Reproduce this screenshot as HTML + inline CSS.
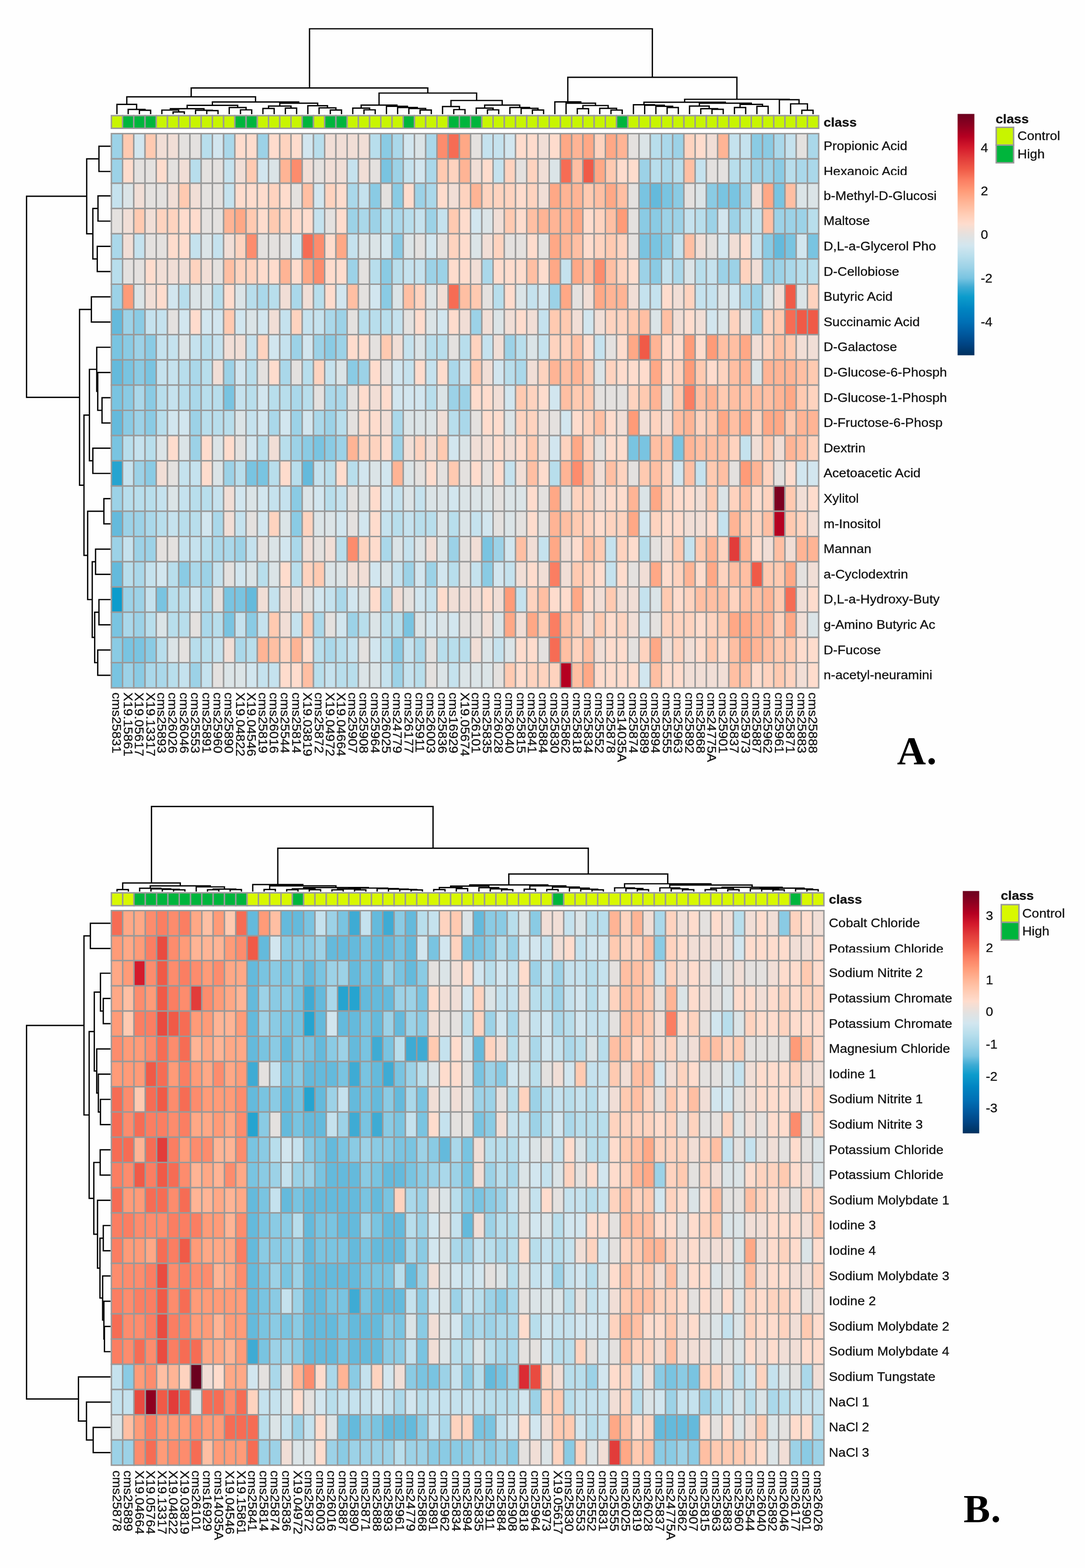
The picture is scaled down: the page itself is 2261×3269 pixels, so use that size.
<!DOCTYPE html>
<html lang="en"><head><meta charset="utf-8"><title>Heatmaps A and B</title>
<style>
html,body{margin:0;padding:0;background:#fff}
body{width:2261px;height:3269px;overflow:hidden}
svg{display:block}
.t text{font-family:"Liberation Sans",sans-serif;font-size:25.9px;fill:#111;stroke:#111;stroke-width:.35px}
.t text.b{font-weight:bold;font-size:26.3px}
.big{font-family:"Liberation Serif",serif;font-weight:bold;font-size:83.4px;fill:#000;letter-spacing:1.5px}
.d{fill:none;stroke:#000;stroke-width:2.7;stroke-linejoin:miter;stroke-linecap:butt}
</style></head><body>
<svg width="2261" height="3269" viewBox="0 0 2261 3269">
<defs><linearGradient id="grad" x1="0" y1="0" x2="0" y2="1"><stop offset="0.0000" stop-color="#6B001F"/><stop offset="0.0479" stop-color="#8E0020"/><stop offset="0.0931" stop-color="#B50021"/><stop offset="0.1383" stop-color="#D41A2C"/><stop offset="0.1835" stop-color="#E23C3A"/><stop offset="0.2288" stop-color="#F05A47"/><stop offset="0.2740" stop-color="#FB7E62"/><stop offset="0.3192" stop-color="#FF9B78"/><stop offset="0.3644" stop-color="#FFB495"/><stop offset="0.4096" stop-color="#FFCAB1"/><stop offset="0.4548" stop-color="#FEDCCD"/><stop offset="0.5000" stop-color="#E4E1DF"/><stop offset="0.5452" stop-color="#D2E6EF"/><stop offset="0.5904" stop-color="#B8DEEC"/><stop offset="0.6356" stop-color="#9CD2E7"/><stop offset="0.6808" stop-color="#79C4E1"/><stop offset="0.7170" stop-color="#3EABD4"/><stop offset="0.7577" stop-color="#0C9CCC"/><stop offset="0.8074" stop-color="#0085C2"/><stop offset="0.8617" stop-color="#0070B5"/><stop offset="0.9069" stop-color="#005AA0"/><stop offset="0.9521" stop-color="#004585"/><stop offset="1.0000" stop-color="#00305E"/></linearGradient></defs>
<rect width="2261" height="3269" fill="#FEFEFE"/>
<path class="d" d="M290.5 238V229.8H313.9V238M267.1 238V228.2H302.2V229.8M243.7 238V217.6H284.7V228.2M360.7 238V233.4H384.1V238M337.3 238V229.5H372.4V233.4M430.9 238V230.6H454.3V238M407.5 238V229.8H442.6V230.6M354.9 229.5V226.6H425.1V229.8M501.1 238V229H524.5V238M477.7 238V224.1H512.8V229M390 226.6V219.7H495.3V224.1M547.9 238V226.2H571.3V238M594.7 238V225.3H618.1V238M559.6 226.2V221.2H606.4V225.3M688.3 238V229.3H711.7V238M664.9 238V224.9H700V229.3M641.5 238V220.4H682.4V224.9M583 221.2V215.2H662V220.4M442.6 219.7V212.7H622.5V215.2M264.2 217.6V201.8H532.5V212.7M758.5 238V229H781.9V238M735.1 238V225.3H770.2V229M875.4 238V229.3H898.8V238M852 238V226.2H887.1V229.3M828.6 238V224.1H869.6V226.2M805.3 238V221.7H849.1V224.1M752.6 225.3V219.2H827.2V221.7M945.6 238V228.5H969V238M922.2 238V222.2H957.3V228.5M1015.8 238V229H1039.2V238M992.4 238V225.3H1027.5V229M1109.4 238V229.3H1132.8V238M1086 238V225.8H1121.1V229.3M1062.6 238V224.1H1103.6V225.8M1010 225.3V219.2H1083.1V224.1M939.8 222.2V209.5H1046.5V219.2M789.9 219.2V194H993.2V209.5M398.4 201.8V183.4H891.5V194M1203 238V226.6H1226.4V238M1273.2 238V229.5H1296.6V238M1249.8 238V225.8H1284.9V229.5M1214.7 226.6V220H1267.3V225.8M1179.6 238V215.2H1241V220M1156.2 238V212.4H1210.3V215.2M1390.2 238V224.1H1413.5V238M1366.8 238V221.7H1401.8V224.1M1343.4 238V219.4H1384.3V221.7M1320 238V218.4H1363.8V219.4M1483.7 238V227.9H1507.1V238M1460.3 238V226.6H1495.4V227.9M1436.9 238V221.2H1477.9V226.6M1530.5 238V224.1H1553.9V238M1577.3 238V221.7H1600.7V238M1542.2 224.1V217.6H1589V221.7M1457.4 221.2V215.2H1565.6V217.6M1341.9 218.4V213.2H1511.5V215.2M1670.9 238V229.8H1694.3V238M1647.5 238V216.5H1682.6V229.8M1624.1 238V207.8H1665.1V216.5M1426.7 213.2V207H1644.6V207.8M1183.2 212.4V161.1H1535.6V207M645 183.4V60H1359.4V161.1"/>
<path class="d" d="M230.5 304.9H206.2V357.5H230.5M230.5 408.4H204.2V461H230.5M230.5 513.6H202.7V566.2H230.5M204.2 434.7H193.5V539.9H202.7M206.2 331.2H180.7V487.3H193.5M230.5 618.8H190.4V671.4H230.5M230.5 829.2H212.6V881.8H230.5M230.5 776.6H203.7V855.5H212.6M230.5 724H201.6V816H203.7M230.5 934.4H193.5V987H230.5M201.6 770H186.3V960.7H193.5M230.5 1039.6H216.5V1092.2H230.5M230.5 1144.8H199.1V1197.4H230.5M230.5 1250H206.2V1302.6H230.5M230.5 1355.2H203.7V1407.8H230.5M206.2 1276.3H197.3V1381.5H203.7M199.1 1171.1H192.2V1328.9H197.3M216.5 1065.9H182.7V1250H192.2M186.3 865.4H175V1157.9H182.7M190.4 645.1H165.8V1011.7H175M180.7 409.2H55.3V828.4H165.8"/>
<path class="d" d="M243.9 1858.7V1854.7H267.5V1858.7M361.7 1858.7V1855.2H385.3V1858.7M338.2 1858.7V1854.2H373.5V1855.2M314.6 1858.7V1853.1H355.8V1854.2M291 1858.7V1851.8H335.2V1853.1M432.4 1858.7V1855H456V1858.7M479.6 1858.7V1854.7H503.1V1858.7M444.2 1855V1853.6H491.3V1854.7M408.9 1858.7V1849H467.8V1853.6M313.1 1851.8V1846.9H438.3V1849M255.7 1854.7V1840.9H375.7V1846.9M550.3 1858.7V1854.4H573.8V1858.7M597.4 1858.7V1854.9H621V1858.7M644.5 1858.7V1854.9H668.1V1858.7M609.2 1854.9V1853.2H656.3V1854.9M691.7 1858.7V1855.2H715.2V1858.7M738.8 1858.7V1855.2H762.4V1858.7M703.4 1855.2V1853.3H750.6V1855.2M856.6 1858.7V1855.4H880.2V1858.7M833.1 1858.7V1854.4H868.4V1855.4M809.5 1858.7V1853.6H850.7V1854.4M785.9 1858.7V1852.6H830.1V1853.6M727 1853.3V1851.5H808V1852.6M632.7 1853.2V1850.4H767.5V1851.5M562 1854.4V1846.8H700.1V1850.4M526.7 1858.7V1844.1H631.1V1846.8M903.8 1858.7V1854.7H927.3V1858.7M950.9 1858.7V1852.6H974.5V1858.7M915.5 1854.7V1850.4H962.7V1852.6M1045.2 1858.7V1854.9H1068.7V1858.7M1021.6 1858.7V1853.1H1056.9V1854.9M998 1858.7V1850.6H1039.3V1853.1M939.1 1850.4V1847.4H1018.6V1850.6M1092.3 1858.7V1853.9H1115.9V1858.7M1139.4 1858.7V1854.7H1163V1858.7M1233.7 1858.7V1855.2H1257.3V1858.7M1210.1 1858.7V1853.8H1245.5V1855.2M1186.6 1858.7V1851.5H1227.8V1853.8M1151.2 1854.7V1849.3H1207.2V1851.5M1104.1 1853.9V1846.9H1179.2V1849.3M978.9 1847.4V1844.9H1141.6V1846.9M1328 1858.7V1854.9H1351.5V1858.7M1304.4 1858.7V1852.4H1339.7V1854.9M1280.8 1858.7V1851H1322.1V1852.4M1422.2 1858.7V1854.9H1445.8V1858.7M1398.7 1858.7V1853H1434V1854.9M1375.1 1858.7V1851H1416.3V1853M1469.4 1858.7V1854.9H1492.9V1858.7M1516.5 1858.7V1854.9H1540.1V1858.7M1481.2 1854.9V1851.6H1528.3V1854.9M1610.8 1858.7V1855.2H1634.3V1858.7M1587.2 1858.7V1854H1622.6V1855.2M1563.6 1858.7V1853H1604.9V1854M1681.5 1858.7V1854.9H1705V1858.7M1657.9 1858.7V1853.4H1693.3V1854.9M1584.3 1853V1851.6H1675.6V1853.4M1504.7 1851.6V1849.8H1629.9V1851.6M1395.7 1851V1845.2H1567.3V1849.8M1301.5 1851V1842.5H1481.5V1845.2M1060.3 1844.9V1822.1H1391.5V1842.5M578.9 1844.1V1768.4H1225.9V1822.1M315.7 1840.9V1681.3H902.4V1768.4"/>
<path class="d" d="M230.5 1924.8H188.3V1977.4H230.5M230.5 2081.6H215.2V2134.2H230.5M230.5 2029H209.3V2107.9H215.2M230.5 2292H209.3V2344.6H230.5M230.5 2239.4H205V2318.3H209.3M230.5 2186.8H201.6V2278.9H205M209.3 2068.4H196.5V2232.8H201.6M230.5 2397.2H208.8V2449.8H230.5M230.5 2555H215.2V2607.6H230.5M230.5 2765.4H217.7V2818H230.5M230.5 2712.8H216.5V2791.7H217.7M230.5 2660.2H213.9V2752.2H216.5M215.2 2581.3H208.3V2706.2H213.9M230.5 2502.4H203.2V2643.8H208.3M208.8 2423.5H195.5V2573.1H203.2M196.5 2150.6H185.8V2498.3H195.5M188.3 1951.1H175V2324.5H185.8M230.5 2975.8H194.2V3028.4H230.5M230.5 2923.2H180.2V3002.1H194.2M230.5 2870.6H163.5V2962.7H180.2M175 2137.8H55.3V2916.6H163.5"/>
<g stroke="#999999" stroke-width="3.0">
<rect x="232.1" y="241.1" width="23.4" height="26.4" fill="#C8F500"/>
<rect x="255.4" y="241.1" width="23.4" height="26.4" fill="#00B53C"/>
<rect x="278.8" y="241.1" width="23.4" height="26.4" fill="#00B53C"/>
<rect x="302.2" y="241.1" width="23.4" height="26.4" fill="#00B53C"/>
<rect x="325.6" y="241.1" width="23.4" height="26.4" fill="#C8F500"/>
<rect x="349" y="241.1" width="23.4" height="26.4" fill="#C8F500"/>
<rect x="372.4" y="241.1" width="23.4" height="26.4" fill="#C8F500"/>
<rect x="395.8" y="241.1" width="23.4" height="26.4" fill="#C8F500"/>
<rect x="419.2" y="241.1" width="23.4" height="26.4" fill="#C8F500"/>
<rect x="442.6" y="241.1" width="23.4" height="26.4" fill="#C8F500"/>
<rect x="466" y="241.1" width="23.4" height="26.4" fill="#C8F500"/>
<rect x="489.4" y="241.1" width="23.4" height="26.4" fill="#00B53C"/>
<rect x="512.8" y="241.1" width="23.4" height="26.4" fill="#00B53C"/>
<rect x="536.2" y="241.1" width="23.4" height="26.4" fill="#C8F500"/>
<rect x="559.6" y="241.1" width="23.4" height="26.4" fill="#C8F500"/>
<rect x="583" y="241.1" width="23.4" height="26.4" fill="#C8F500"/>
<rect x="606.4" y="241.1" width="23.4" height="26.4" fill="#C8F500"/>
<rect x="629.8" y="241.1" width="23.4" height="26.4" fill="#00B53C"/>
<rect x="653.2" y="241.1" width="23.4" height="26.4" fill="#C8F500"/>
<rect x="676.6" y="241.1" width="23.4" height="26.4" fill="#00B53C"/>
<rect x="700" y="241.1" width="23.4" height="26.4" fill="#00B53C"/>
<rect x="723.4" y="241.1" width="23.4" height="26.4" fill="#C8F500"/>
<rect x="746.8" y="241.1" width="23.4" height="26.4" fill="#C8F500"/>
<rect x="770.2" y="241.1" width="23.4" height="26.4" fill="#C8F500"/>
<rect x="793.6" y="241.1" width="23.4" height="26.4" fill="#C8F500"/>
<rect x="817" y="241.1" width="23.4" height="26.4" fill="#C8F500"/>
<rect x="840.3" y="241.1" width="23.4" height="26.4" fill="#00B53C"/>
<rect x="863.7" y="241.1" width="23.4" height="26.4" fill="#C8F500"/>
<rect x="887.1" y="241.1" width="23.4" height="26.4" fill="#C8F500"/>
<rect x="910.5" y="241.1" width="23.4" height="26.4" fill="#C8F500"/>
<rect x="933.9" y="241.1" width="23.4" height="26.4" fill="#00B53C"/>
<rect x="957.3" y="241.1" width="23.4" height="26.4" fill="#00B53C"/>
<rect x="980.7" y="241.1" width="23.4" height="26.4" fill="#00B53C"/>
<rect x="1004.1" y="241.1" width="23.4" height="26.4" fill="#C8F500"/>
<rect x="1027.5" y="241.1" width="23.4" height="26.4" fill="#C8F500"/>
<rect x="1050.9" y="241.1" width="23.4" height="26.4" fill="#C8F500"/>
<rect x="1074.3" y="241.1" width="23.4" height="26.4" fill="#C8F500"/>
<rect x="1097.7" y="241.1" width="23.4" height="26.4" fill="#C8F500"/>
<rect x="1121.1" y="241.1" width="23.4" height="26.4" fill="#C8F500"/>
<rect x="1144.5" y="241.1" width="23.4" height="26.4" fill="#C8F500"/>
<rect x="1167.9" y="241.1" width="23.4" height="26.4" fill="#C8F500"/>
<rect x="1191.3" y="241.1" width="23.4" height="26.4" fill="#C8F500"/>
<rect x="1214.7" y="241.1" width="23.4" height="26.4" fill="#C8F500"/>
<rect x="1238.1" y="241.1" width="23.4" height="26.4" fill="#C8F500"/>
<rect x="1261.5" y="241.1" width="23.4" height="26.4" fill="#C8F500"/>
<rect x="1284.9" y="241.1" width="23.4" height="26.4" fill="#00B53C"/>
<rect x="1308.3" y="241.1" width="23.4" height="26.4" fill="#C8F500"/>
<rect x="1331.7" y="241.1" width="23.4" height="26.4" fill="#C8F500"/>
<rect x="1355.1" y="241.1" width="23.4" height="26.4" fill="#C8F500"/>
<rect x="1378.5" y="241.1" width="23.4" height="26.4" fill="#C8F500"/>
<rect x="1401.8" y="241.1" width="23.4" height="26.4" fill="#C8F500"/>
<rect x="1425.2" y="241.1" width="23.4" height="26.4" fill="#C8F500"/>
<rect x="1448.6" y="241.1" width="23.4" height="26.4" fill="#C8F500"/>
<rect x="1472" y="241.1" width="23.4" height="26.4" fill="#C8F500"/>
<rect x="1495.4" y="241.1" width="23.4" height="26.4" fill="#C8F500"/>
<rect x="1518.8" y="241.1" width="23.4" height="26.4" fill="#C8F500"/>
<rect x="1542.2" y="241.1" width="23.4" height="26.4" fill="#C8F500"/>
<rect x="1565.6" y="241.1" width="23.4" height="26.4" fill="#C8F500"/>
<rect x="1589" y="241.1" width="23.4" height="26.4" fill="#C8F500"/>
<rect x="1612.4" y="241.1" width="23.4" height="26.4" fill="#C8F500"/>
<rect x="1635.8" y="241.1" width="23.4" height="26.4" fill="#C8F500"/>
<rect x="1659.2" y="241.1" width="23.4" height="26.4" fill="#C8F500"/>
<rect x="1682.6" y="241.1" width="23.4" height="26.4" fill="#C8F500"/>
<rect x="232.1" y="278.6" width="23.4" height="52.6" fill="#9CD2E7"/>
<rect x="255.4" y="278.6" width="23.4" height="52.6" fill="#FFCAB1"/>
<rect x="278.8" y="278.6" width="23.4" height="52.6" fill="#D2E6EF"/>
<rect x="302.2" y="278.6" width="23.4" height="52.6" fill="#FFCAB1"/>
<rect x="325.6" y="278.6" width="23.4" height="52.6" fill="#F1DED6"/>
<rect x="349" y="278.6" width="23.4" height="52.6" fill="#F1DED6"/>
<rect x="372.4" y="278.6" width="23.4" height="52.6" fill="#E4E1DF"/>
<rect x="395.8" y="278.6" width="23.4" height="52.6" fill="#E4E1DF"/>
<rect x="419.2" y="278.6" width="23.4" height="52.6" fill="#B8DEEC"/>
<rect x="442.6" y="278.6" width="23.4" height="52.6" fill="#D2E6EF"/>
<rect x="466" y="278.6" width="23.4" height="52.6" fill="#AAD8EA"/>
<rect x="489.4" y="278.6" width="23.4" height="52.6" fill="#FEDCCD"/>
<rect x="512.8" y="278.6" width="23.4" height="52.6" fill="#FEDCCD"/>
<rect x="536.2" y="278.6" width="23.4" height="52.6" fill="#9CD2E7"/>
<rect x="559.6" y="278.6" width="23.4" height="52.6" fill="#FEDCCD"/>
<rect x="583" y="278.6" width="23.4" height="52.6" fill="#FED3BF"/>
<rect x="606.4" y="278.6" width="23.4" height="52.6" fill="#FEDCCD"/>
<rect x="629.8" y="278.6" width="23.4" height="52.6" fill="#D2E6EF"/>
<rect x="653.2" y="278.6" width="23.4" height="52.6" fill="#B8DEEC"/>
<rect x="676.6" y="278.6" width="23.4" height="52.6" fill="#F1DED6"/>
<rect x="700" y="278.6" width="23.4" height="52.6" fill="#F1DED6"/>
<rect x="723.4" y="278.6" width="23.4" height="52.6" fill="#F1DED6"/>
<rect x="746.8" y="278.6" width="23.4" height="52.6" fill="#F1DED6"/>
<rect x="770.2" y="278.6" width="23.4" height="52.6" fill="#B8DEEC"/>
<rect x="793.6" y="278.6" width="23.4" height="52.6" fill="#8ACBE4"/>
<rect x="817" y="278.6" width="23.4" height="52.6" fill="#AAD8EA"/>
<rect x="840.3" y="278.6" width="23.4" height="52.6" fill="#D2E6EF"/>
<rect x="863.7" y="278.6" width="23.4" height="52.6" fill="#DBE4E7"/>
<rect x="887.1" y="278.6" width="23.4" height="52.6" fill="#AAD8EA"/>
<rect x="910.5" y="278.6" width="23.4" height="52.6" fill="#FD8C6D"/>
<rect x="933.9" y="278.6" width="23.4" height="52.6" fill="#F66C54"/>
<rect x="957.3" y="278.6" width="23.4" height="52.6" fill="#FFA886"/>
<rect x="980.7" y="278.6" width="23.4" height="52.6" fill="#E4E1DF"/>
<rect x="1004.1" y="278.6" width="23.4" height="52.6" fill="#C5E2EE"/>
<rect x="1027.5" y="278.6" width="23.4" height="52.6" fill="#C5E2EE"/>
<rect x="1050.9" y="278.6" width="23.4" height="52.6" fill="#D2E6EF"/>
<rect x="1074.3" y="278.6" width="23.4" height="52.6" fill="#FEDCCD"/>
<rect x="1097.7" y="278.6" width="23.4" height="52.6" fill="#FEDCCD"/>
<rect x="1121.1" y="278.6" width="23.4" height="52.6" fill="#F1DED6"/>
<rect x="1144.5" y="278.6" width="23.4" height="52.6" fill="#FEDCCD"/>
<rect x="1167.9" y="278.6" width="23.4" height="52.6" fill="#FFA886"/>
<rect x="1191.3" y="278.6" width="23.4" height="52.6" fill="#FFB495"/>
<rect x="1214.7" y="278.6" width="23.4" height="52.6" fill="#FFA886"/>
<rect x="1238.1" y="278.6" width="23.4" height="52.6" fill="#FED3BF"/>
<rect x="1261.5" y="278.6" width="23.4" height="52.6" fill="#FFA886"/>
<rect x="1284.9" y="278.6" width="23.4" height="52.6" fill="#FFB495"/>
<rect x="1308.3" y="278.6" width="23.4" height="52.6" fill="#E4E1DF"/>
<rect x="1331.7" y="278.6" width="23.4" height="52.6" fill="#DBE4E7"/>
<rect x="1355.1" y="278.6" width="23.4" height="52.6" fill="#B8DEEC"/>
<rect x="1378.5" y="278.6" width="23.4" height="52.6" fill="#AAD8EA"/>
<rect x="1401.8" y="278.6" width="23.4" height="52.6" fill="#9CD2E7"/>
<rect x="1425.2" y="278.6" width="23.4" height="52.6" fill="#FED3BF"/>
<rect x="1448.6" y="278.6" width="23.4" height="52.6" fill="#FEDCCD"/>
<rect x="1472" y="278.6" width="23.4" height="52.6" fill="#F1DED6"/>
<rect x="1495.4" y="278.6" width="23.4" height="52.6" fill="#FFB495"/>
<rect x="1518.8" y="278.6" width="23.4" height="52.6" fill="#C5E2EE"/>
<rect x="1542.2" y="278.6" width="23.4" height="52.6" fill="#C5E2EE"/>
<rect x="1565.6" y="278.6" width="23.4" height="52.6" fill="#8ACBE4"/>
<rect x="1589" y="278.6" width="23.4" height="52.6" fill="#8ACBE4"/>
<rect x="1612.4" y="278.6" width="23.4" height="52.6" fill="#AAD8EA"/>
<rect x="1635.8" y="278.6" width="23.4" height="52.6" fill="#C5E2EE"/>
<rect x="1659.2" y="278.6" width="23.4" height="52.6" fill="#E4E1DF"/>
<rect x="1682.6" y="278.6" width="23.4" height="52.6" fill="#AAD8EA"/>
<rect x="232.1" y="331.2" width="23.4" height="50.9" fill="#9CD2E7"/>
<rect x="255.4" y="331.2" width="23.4" height="50.9" fill="#FEDCCD"/>
<rect x="278.8" y="331.2" width="23.4" height="50.9" fill="#E4E1DF"/>
<rect x="302.2" y="331.2" width="23.4" height="50.9" fill="#E4E1DF"/>
<rect x="325.6" y="331.2" width="23.4" height="50.9" fill="#FEDCCD"/>
<rect x="349" y="331.2" width="23.4" height="50.9" fill="#E4E1DF"/>
<rect x="372.4" y="331.2" width="23.4" height="50.9" fill="#F1DED6"/>
<rect x="395.8" y="331.2" width="23.4" height="50.9" fill="#B8DEEC"/>
<rect x="419.2" y="331.2" width="23.4" height="50.9" fill="#E4E1DF"/>
<rect x="442.6" y="331.2" width="23.4" height="50.9" fill="#E4E1DF"/>
<rect x="466" y="331.2" width="23.4" height="50.9" fill="#C5E2EE"/>
<rect x="489.4" y="331.2" width="23.4" height="50.9" fill="#F1DED6"/>
<rect x="512.8" y="331.2" width="23.4" height="50.9" fill="#FFCAB1"/>
<rect x="536.2" y="331.2" width="23.4" height="50.9" fill="#D2E6EF"/>
<rect x="559.6" y="331.2" width="23.4" height="50.9" fill="#DBE4E7"/>
<rect x="583" y="331.2" width="23.4" height="50.9" fill="#FFB495"/>
<rect x="606.4" y="331.2" width="23.4" height="50.9" fill="#FD8C6D"/>
<rect x="629.8" y="331.2" width="23.4" height="50.9" fill="#F1DED6"/>
<rect x="653.2" y="331.2" width="23.4" height="50.9" fill="#E4E1DF"/>
<rect x="676.6" y="331.2" width="23.4" height="50.9" fill="#F1DED6"/>
<rect x="700" y="331.2" width="23.4" height="50.9" fill="#F1DED6"/>
<rect x="723.4" y="331.2" width="23.4" height="50.9" fill="#C5E2EE"/>
<rect x="746.8" y="331.2" width="23.4" height="50.9" fill="#F1DED6"/>
<rect x="770.2" y="331.2" width="23.4" height="50.9" fill="#E4E1DF"/>
<rect x="793.6" y="331.2" width="23.4" height="50.9" fill="#79C4E1"/>
<rect x="817" y="331.2" width="23.4" height="50.9" fill="#9CD2E7"/>
<rect x="840.3" y="331.2" width="23.4" height="50.9" fill="#C5E2EE"/>
<rect x="863.7" y="331.2" width="23.4" height="50.9" fill="#D2E6EF"/>
<rect x="887.1" y="331.2" width="23.4" height="50.9" fill="#AAD8EA"/>
<rect x="910.5" y="331.2" width="23.4" height="50.9" fill="#FFCAB1"/>
<rect x="933.9" y="331.2" width="23.4" height="50.9" fill="#FED3BF"/>
<rect x="957.3" y="331.2" width="23.4" height="50.9" fill="#FFB495"/>
<rect x="980.7" y="331.2" width="23.4" height="50.9" fill="#F1DED6"/>
<rect x="1004.1" y="331.2" width="23.4" height="50.9" fill="#FEDCCD"/>
<rect x="1027.5" y="331.2" width="23.4" height="50.9" fill="#C5E2EE"/>
<rect x="1050.9" y="331.2" width="23.4" height="50.9" fill="#FED3BF"/>
<rect x="1074.3" y="331.2" width="23.4" height="50.9" fill="#E4E1DF"/>
<rect x="1097.7" y="331.2" width="23.4" height="50.9" fill="#FED3BF"/>
<rect x="1121.1" y="331.2" width="23.4" height="50.9" fill="#F1DED6"/>
<rect x="1144.5" y="331.2" width="23.4" height="50.9" fill="#DBE4E7"/>
<rect x="1167.9" y="331.2" width="23.4" height="50.9" fill="#F66C54"/>
<rect x="1191.3" y="331.2" width="23.4" height="50.9" fill="#FFBFA3"/>
<rect x="1214.7" y="331.2" width="23.4" height="50.9" fill="#F05A47"/>
<rect x="1238.1" y="331.2" width="23.4" height="50.9" fill="#FFA886"/>
<rect x="1261.5" y="331.2" width="23.4" height="50.9" fill="#FFCAB1"/>
<rect x="1284.9" y="331.2" width="23.4" height="50.9" fill="#FEDCCD"/>
<rect x="1308.3" y="331.2" width="23.4" height="50.9" fill="#FEDCCD"/>
<rect x="1331.7" y="331.2" width="23.4" height="50.9" fill="#9CD2E7"/>
<rect x="1355.1" y="331.2" width="23.4" height="50.9" fill="#B8DEEC"/>
<rect x="1378.5" y="331.2" width="23.4" height="50.9" fill="#AAD8EA"/>
<rect x="1401.8" y="331.2" width="23.4" height="50.9" fill="#B8DEEC"/>
<rect x="1425.2" y="331.2" width="23.4" height="50.9" fill="#FFBFA3"/>
<rect x="1448.6" y="331.2" width="23.4" height="50.9" fill="#C5E2EE"/>
<rect x="1472" y="331.2" width="23.4" height="50.9" fill="#E4E1DF"/>
<rect x="1495.4" y="331.2" width="23.4" height="50.9" fill="#E4E1DF"/>
<rect x="1518.8" y="331.2" width="23.4" height="50.9" fill="#B8DEEC"/>
<rect x="1542.2" y="331.2" width="23.4" height="50.9" fill="#B8DEEC"/>
<rect x="1565.6" y="331.2" width="23.4" height="50.9" fill="#9CD2E7"/>
<rect x="1589" y="331.2" width="23.4" height="50.9" fill="#9CD2E7"/>
<rect x="1612.4" y="331.2" width="23.4" height="50.9" fill="#8ACBE4"/>
<rect x="1635.8" y="331.2" width="23.4" height="50.9" fill="#B8DEEC"/>
<rect x="1659.2" y="331.2" width="23.4" height="50.9" fill="#AAD8EA"/>
<rect x="1682.6" y="331.2" width="23.4" height="50.9" fill="#AAD8EA"/>
<rect x="232.1" y="382.1" width="23.4" height="52.6" fill="#C5E2EE"/>
<rect x="255.4" y="382.1" width="23.4" height="52.6" fill="#DBE4E7"/>
<rect x="278.8" y="382.1" width="23.4" height="52.6" fill="#F1DED6"/>
<rect x="302.2" y="382.1" width="23.4" height="52.6" fill="#E4E1DF"/>
<rect x="325.6" y="382.1" width="23.4" height="52.6" fill="#E4E1DF"/>
<rect x="349" y="382.1" width="23.4" height="52.6" fill="#F1DED6"/>
<rect x="372.4" y="382.1" width="23.4" height="52.6" fill="#FFCAB1"/>
<rect x="395.8" y="382.1" width="23.4" height="52.6" fill="#F1DED6"/>
<rect x="419.2" y="382.1" width="23.4" height="52.6" fill="#E4E1DF"/>
<rect x="442.6" y="382.1" width="23.4" height="52.6" fill="#E4E1DF"/>
<rect x="466" y="382.1" width="23.4" height="52.6" fill="#C5E2EE"/>
<rect x="489.4" y="382.1" width="23.4" height="52.6" fill="#FEDCCD"/>
<rect x="512.8" y="382.1" width="23.4" height="52.6" fill="#FEDCCD"/>
<rect x="536.2" y="382.1" width="23.4" height="52.6" fill="#FEDCCD"/>
<rect x="559.6" y="382.1" width="23.4" height="52.6" fill="#FED3BF"/>
<rect x="583" y="382.1" width="23.4" height="52.6" fill="#FEDCCD"/>
<rect x="606.4" y="382.1" width="23.4" height="52.6" fill="#E4E1DF"/>
<rect x="629.8" y="382.1" width="23.4" height="52.6" fill="#FFBFA3"/>
<rect x="653.2" y="382.1" width="23.4" height="52.6" fill="#D2E6EF"/>
<rect x="676.6" y="382.1" width="23.4" height="52.6" fill="#FED3BF"/>
<rect x="700" y="382.1" width="23.4" height="52.6" fill="#FEDCCD"/>
<rect x="723.4" y="382.1" width="23.4" height="52.6" fill="#AAD8EA"/>
<rect x="746.8" y="382.1" width="23.4" height="52.6" fill="#C5E2EE"/>
<rect x="770.2" y="382.1" width="23.4" height="52.6" fill="#8ACBE4"/>
<rect x="793.6" y="382.1" width="23.4" height="52.6" fill="#E4E1DF"/>
<rect x="817" y="382.1" width="23.4" height="52.6" fill="#8ACBE4"/>
<rect x="840.3" y="382.1" width="23.4" height="52.6" fill="#FEDCCD"/>
<rect x="863.7" y="382.1" width="23.4" height="52.6" fill="#9CD2E7"/>
<rect x="887.1" y="382.1" width="23.4" height="52.6" fill="#AAD8EA"/>
<rect x="910.5" y="382.1" width="23.4" height="52.6" fill="#FEDCCD"/>
<rect x="933.9" y="382.1" width="23.4" height="52.6" fill="#F1DED6"/>
<rect x="957.3" y="382.1" width="23.4" height="52.6" fill="#FED3BF"/>
<rect x="980.7" y="382.1" width="23.4" height="52.6" fill="#FFB495"/>
<rect x="1004.1" y="382.1" width="23.4" height="52.6" fill="#FED3BF"/>
<rect x="1027.5" y="382.1" width="23.4" height="52.6" fill="#FED3BF"/>
<rect x="1050.9" y="382.1" width="23.4" height="52.6" fill="#FED3BF"/>
<rect x="1074.3" y="382.1" width="23.4" height="52.6" fill="#FEDCCD"/>
<rect x="1097.7" y="382.1" width="23.4" height="52.6" fill="#FED3BF"/>
<rect x="1121.1" y="382.1" width="23.4" height="52.6" fill="#F1DED6"/>
<rect x="1144.5" y="382.1" width="23.4" height="52.6" fill="#FFA886"/>
<rect x="1167.9" y="382.1" width="23.4" height="52.6" fill="#FFB495"/>
<rect x="1191.3" y="382.1" width="23.4" height="52.6" fill="#FFB495"/>
<rect x="1214.7" y="382.1" width="23.4" height="52.6" fill="#FFCAB1"/>
<rect x="1238.1" y="382.1" width="23.4" height="52.6" fill="#FFBFA3"/>
<rect x="1261.5" y="382.1" width="23.4" height="52.6" fill="#FFA886"/>
<rect x="1284.9" y="382.1" width="23.4" height="52.6" fill="#FFBFA3"/>
<rect x="1308.3" y="382.1" width="23.4" height="52.6" fill="#E4E1DF"/>
<rect x="1331.7" y="382.1" width="23.4" height="52.6" fill="#79C4E1"/>
<rect x="1355.1" y="382.1" width="23.4" height="52.6" fill="#64BADC"/>
<rect x="1378.5" y="382.1" width="23.4" height="52.6" fill="#79C4E1"/>
<rect x="1401.8" y="382.1" width="23.4" height="52.6" fill="#8ACBE4"/>
<rect x="1425.2" y="382.1" width="23.4" height="52.6" fill="#E4E1DF"/>
<rect x="1448.6" y="382.1" width="23.4" height="52.6" fill="#DBE4E7"/>
<rect x="1472" y="382.1" width="23.4" height="52.6" fill="#8ACBE4"/>
<rect x="1495.4" y="382.1" width="23.4" height="52.6" fill="#79C4E1"/>
<rect x="1518.8" y="382.1" width="23.4" height="52.6" fill="#79C4E1"/>
<rect x="1542.2" y="382.1" width="23.4" height="52.6" fill="#9CD2E7"/>
<rect x="1565.6" y="382.1" width="23.4" height="52.6" fill="#F1DED6"/>
<rect x="1589" y="382.1" width="23.4" height="52.6" fill="#FFA886"/>
<rect x="1612.4" y="382.1" width="23.4" height="52.6" fill="#79C4E1"/>
<rect x="1635.8" y="382.1" width="23.4" height="52.6" fill="#FFBFA3"/>
<rect x="1659.2" y="382.1" width="23.4" height="52.6" fill="#DBE4E7"/>
<rect x="1682.6" y="382.1" width="23.4" height="52.6" fill="#DBE4E7"/>
<rect x="232.1" y="434.7" width="23.4" height="52.6" fill="#E4E1DF"/>
<rect x="255.4" y="434.7" width="23.4" height="52.6" fill="#F1DED6"/>
<rect x="278.8" y="434.7" width="23.4" height="52.6" fill="#FFCAB1"/>
<rect x="302.2" y="434.7" width="23.4" height="52.6" fill="#F1DED6"/>
<rect x="325.6" y="434.7" width="23.4" height="52.6" fill="#FED3BF"/>
<rect x="349" y="434.7" width="23.4" height="52.6" fill="#FED3BF"/>
<rect x="372.4" y="434.7" width="23.4" height="52.6" fill="#FEDCCD"/>
<rect x="395.8" y="434.7" width="23.4" height="52.6" fill="#FEDCCD"/>
<rect x="419.2" y="434.7" width="23.4" height="52.6" fill="#E4E1DF"/>
<rect x="442.6" y="434.7" width="23.4" height="52.6" fill="#E4E1DF"/>
<rect x="466" y="434.7" width="23.4" height="52.6" fill="#FFB495"/>
<rect x="489.4" y="434.7" width="23.4" height="52.6" fill="#FFA886"/>
<rect x="512.8" y="434.7" width="23.4" height="52.6" fill="#FFCAB1"/>
<rect x="536.2" y="434.7" width="23.4" height="52.6" fill="#FEDCCD"/>
<rect x="559.6" y="434.7" width="23.4" height="52.6" fill="#FFCAB1"/>
<rect x="583" y="434.7" width="23.4" height="52.6" fill="#FED3BF"/>
<rect x="606.4" y="434.7" width="23.4" height="52.6" fill="#FEDCCD"/>
<rect x="629.8" y="434.7" width="23.4" height="52.6" fill="#FEDCCD"/>
<rect x="653.2" y="434.7" width="23.4" height="52.6" fill="#C5E2EE"/>
<rect x="676.6" y="434.7" width="23.4" height="52.6" fill="#E4E1DF"/>
<rect x="700" y="434.7" width="23.4" height="52.6" fill="#FEDCCD"/>
<rect x="723.4" y="434.7" width="23.4" height="52.6" fill="#9CD2E7"/>
<rect x="746.8" y="434.7" width="23.4" height="52.6" fill="#AAD8EA"/>
<rect x="770.2" y="434.7" width="23.4" height="52.6" fill="#9CD2E7"/>
<rect x="793.6" y="434.7" width="23.4" height="52.6" fill="#B8DEEC"/>
<rect x="817" y="434.7" width="23.4" height="52.6" fill="#AAD8EA"/>
<rect x="840.3" y="434.7" width="23.4" height="52.6" fill="#B8DEEC"/>
<rect x="863.7" y="434.7" width="23.4" height="52.6" fill="#C5E2EE"/>
<rect x="887.1" y="434.7" width="23.4" height="52.6" fill="#9CD2E7"/>
<rect x="910.5" y="434.7" width="23.4" height="52.6" fill="#C5E2EE"/>
<rect x="933.9" y="434.7" width="23.4" height="52.6" fill="#FFCAB1"/>
<rect x="957.3" y="434.7" width="23.4" height="52.6" fill="#FEDCCD"/>
<rect x="980.7" y="434.7" width="23.4" height="52.6" fill="#D2E6EF"/>
<rect x="1004.1" y="434.7" width="23.4" height="52.6" fill="#DBE4E7"/>
<rect x="1027.5" y="434.7" width="23.4" height="52.6" fill="#F1DED6"/>
<rect x="1050.9" y="434.7" width="23.4" height="52.6" fill="#FFCAB1"/>
<rect x="1074.3" y="434.7" width="23.4" height="52.6" fill="#FEDCCD"/>
<rect x="1097.7" y="434.7" width="23.4" height="52.6" fill="#FFBFA3"/>
<rect x="1121.1" y="434.7" width="23.4" height="52.6" fill="#FFB495"/>
<rect x="1144.5" y="434.7" width="23.4" height="52.6" fill="#FFB495"/>
<rect x="1167.9" y="434.7" width="23.4" height="52.6" fill="#FFB495"/>
<rect x="1191.3" y="434.7" width="23.4" height="52.6" fill="#FFA886"/>
<rect x="1214.7" y="434.7" width="23.4" height="52.6" fill="#FEDCCD"/>
<rect x="1238.1" y="434.7" width="23.4" height="52.6" fill="#FED3BF"/>
<rect x="1261.5" y="434.7" width="23.4" height="52.6" fill="#FFBFA3"/>
<rect x="1284.9" y="434.7" width="23.4" height="52.6" fill="#FF9B78"/>
<rect x="1308.3" y="434.7" width="23.4" height="52.6" fill="#E4E1DF"/>
<rect x="1331.7" y="434.7" width="23.4" height="52.6" fill="#8ACBE4"/>
<rect x="1355.1" y="434.7" width="23.4" height="52.6" fill="#8ACBE4"/>
<rect x="1378.5" y="434.7" width="23.4" height="52.6" fill="#9CD2E7"/>
<rect x="1401.8" y="434.7" width="23.4" height="52.6" fill="#9CD2E7"/>
<rect x="1425.2" y="434.7" width="23.4" height="52.6" fill="#C5E2EE"/>
<rect x="1448.6" y="434.7" width="23.4" height="52.6" fill="#B8DEEC"/>
<rect x="1472" y="434.7" width="23.4" height="52.6" fill="#9CD2E7"/>
<rect x="1495.4" y="434.7" width="23.4" height="52.6" fill="#D2E6EF"/>
<rect x="1518.8" y="434.7" width="23.4" height="52.6" fill="#9CD2E7"/>
<rect x="1542.2" y="434.7" width="23.4" height="52.6" fill="#B8DEEC"/>
<rect x="1565.6" y="434.7" width="23.4" height="52.6" fill="#C5E2EE"/>
<rect x="1589" y="434.7" width="23.4" height="52.6" fill="#FFBFA3"/>
<rect x="1612.4" y="434.7" width="23.4" height="52.6" fill="#9CD2E7"/>
<rect x="1635.8" y="434.7" width="23.4" height="52.6" fill="#9CD2E7"/>
<rect x="1659.2" y="434.7" width="23.4" height="52.6" fill="#9CD2E7"/>
<rect x="1682.6" y="434.7" width="23.4" height="52.6" fill="#B8DEEC"/>
<rect x="232.1" y="487.3" width="23.4" height="52.6" fill="#AAD8EA"/>
<rect x="255.4" y="487.3" width="23.4" height="52.6" fill="#F1DED6"/>
<rect x="278.8" y="487.3" width="23.4" height="52.6" fill="#C5E2EE"/>
<rect x="302.2" y="487.3" width="23.4" height="52.6" fill="#E4E1DF"/>
<rect x="325.6" y="487.3" width="23.4" height="52.6" fill="#E4E1DF"/>
<rect x="349" y="487.3" width="23.4" height="52.6" fill="#FEDCCD"/>
<rect x="372.4" y="487.3" width="23.4" height="52.6" fill="#FEDCCD"/>
<rect x="395.8" y="487.3" width="23.4" height="52.6" fill="#C5E2EE"/>
<rect x="419.2" y="487.3" width="23.4" height="52.6" fill="#DBE4E7"/>
<rect x="442.6" y="487.3" width="23.4" height="52.6" fill="#C5E2EE"/>
<rect x="466" y="487.3" width="23.4" height="52.6" fill="#F1DED6"/>
<rect x="489.4" y="487.3" width="23.4" height="52.6" fill="#FED3BF"/>
<rect x="512.8" y="487.3" width="23.4" height="52.6" fill="#FD8C6D"/>
<rect x="536.2" y="487.3" width="23.4" height="52.6" fill="#E4E1DF"/>
<rect x="559.6" y="487.3" width="23.4" height="52.6" fill="#E4E1DF"/>
<rect x="583" y="487.3" width="23.4" height="52.6" fill="#E4E1DF"/>
<rect x="606.4" y="487.3" width="23.4" height="52.6" fill="#D2E6EF"/>
<rect x="629.8" y="487.3" width="23.4" height="52.6" fill="#F66C54"/>
<rect x="653.2" y="487.3" width="23.4" height="52.6" fill="#FD8C6D"/>
<rect x="676.6" y="487.3" width="23.4" height="52.6" fill="#FEDCCD"/>
<rect x="700" y="487.3" width="23.4" height="52.6" fill="#FFA886"/>
<rect x="723.4" y="487.3" width="23.4" height="52.6" fill="#C5E2EE"/>
<rect x="746.8" y="487.3" width="23.4" height="52.6" fill="#DBE4E7"/>
<rect x="770.2" y="487.3" width="23.4" height="52.6" fill="#DBE4E7"/>
<rect x="793.6" y="487.3" width="23.4" height="52.6" fill="#D2E6EF"/>
<rect x="817" y="487.3" width="23.4" height="52.6" fill="#8ACBE4"/>
<rect x="840.3" y="487.3" width="23.4" height="52.6" fill="#DBE4E7"/>
<rect x="863.7" y="487.3" width="23.4" height="52.6" fill="#E4E1DF"/>
<rect x="887.1" y="487.3" width="23.4" height="52.6" fill="#D2E6EF"/>
<rect x="910.5" y="487.3" width="23.4" height="52.6" fill="#E4E1DF"/>
<rect x="933.9" y="487.3" width="23.4" height="52.6" fill="#FED3BF"/>
<rect x="957.3" y="487.3" width="23.4" height="52.6" fill="#FEDCCD"/>
<rect x="980.7" y="487.3" width="23.4" height="52.6" fill="#DBE4E7"/>
<rect x="1004.1" y="487.3" width="23.4" height="52.6" fill="#F1DED6"/>
<rect x="1027.5" y="487.3" width="23.4" height="52.6" fill="#FED3BF"/>
<rect x="1050.9" y="487.3" width="23.4" height="52.6" fill="#E4E1DF"/>
<rect x="1074.3" y="487.3" width="23.4" height="52.6" fill="#E4E1DF"/>
<rect x="1097.7" y="487.3" width="23.4" height="52.6" fill="#FEDCCD"/>
<rect x="1121.1" y="487.3" width="23.4" height="52.6" fill="#E4E1DF"/>
<rect x="1144.5" y="487.3" width="23.4" height="52.6" fill="#FFA886"/>
<rect x="1167.9" y="487.3" width="23.4" height="52.6" fill="#FFB495"/>
<rect x="1191.3" y="487.3" width="23.4" height="52.6" fill="#FFBFA3"/>
<rect x="1214.7" y="487.3" width="23.4" height="52.6" fill="#FEDCCD"/>
<rect x="1238.1" y="487.3" width="23.4" height="52.6" fill="#FED3BF"/>
<rect x="1261.5" y="487.3" width="23.4" height="52.6" fill="#FFCAB1"/>
<rect x="1284.9" y="487.3" width="23.4" height="52.6" fill="#FED3BF"/>
<rect x="1308.3" y="487.3" width="23.4" height="52.6" fill="#E4E1DF"/>
<rect x="1331.7" y="487.3" width="23.4" height="52.6" fill="#79C4E1"/>
<rect x="1355.1" y="487.3" width="23.4" height="52.6" fill="#79C4E1"/>
<rect x="1378.5" y="487.3" width="23.4" height="52.6" fill="#8ACBE4"/>
<rect x="1401.8" y="487.3" width="23.4" height="52.6" fill="#C5E2EE"/>
<rect x="1425.2" y="487.3" width="23.4" height="52.6" fill="#FFBFA3"/>
<rect x="1448.6" y="487.3" width="23.4" height="52.6" fill="#F1DED6"/>
<rect x="1472" y="487.3" width="23.4" height="52.6" fill="#E4E1DF"/>
<rect x="1495.4" y="487.3" width="23.4" height="52.6" fill="#D2E6EF"/>
<rect x="1518.8" y="487.3" width="23.4" height="52.6" fill="#F1DED6"/>
<rect x="1542.2" y="487.3" width="23.4" height="52.6" fill="#FEDCCD"/>
<rect x="1565.6" y="487.3" width="23.4" height="52.6" fill="#C5E2EE"/>
<rect x="1589" y="487.3" width="23.4" height="52.6" fill="#8ACBE4"/>
<rect x="1612.4" y="487.3" width="23.4" height="52.6" fill="#64BADC"/>
<rect x="1635.8" y="487.3" width="23.4" height="52.6" fill="#79C4E1"/>
<rect x="1659.2" y="487.3" width="23.4" height="52.6" fill="#D2E6EF"/>
<rect x="1682.6" y="487.3" width="23.4" height="52.6" fill="#79C4E1"/>
<rect x="232.1" y="539.9" width="23.4" height="52.6" fill="#B8DEEC"/>
<rect x="255.4" y="539.9" width="23.4" height="52.6" fill="#E4E1DF"/>
<rect x="278.8" y="539.9" width="23.4" height="52.6" fill="#E4E1DF"/>
<rect x="302.2" y="539.9" width="23.4" height="52.6" fill="#FEDCCD"/>
<rect x="325.6" y="539.9" width="23.4" height="52.6" fill="#F1DED6"/>
<rect x="349" y="539.9" width="23.4" height="52.6" fill="#F1DED6"/>
<rect x="372.4" y="539.9" width="23.4" height="52.6" fill="#F1DED6"/>
<rect x="395.8" y="539.9" width="23.4" height="52.6" fill="#FED3BF"/>
<rect x="419.2" y="539.9" width="23.4" height="52.6" fill="#F1DED6"/>
<rect x="442.6" y="539.9" width="23.4" height="52.6" fill="#E4E1DF"/>
<rect x="466" y="539.9" width="23.4" height="52.6" fill="#FFBFA3"/>
<rect x="489.4" y="539.9" width="23.4" height="52.6" fill="#FED3BF"/>
<rect x="512.8" y="539.9" width="23.4" height="52.6" fill="#FED3BF"/>
<rect x="536.2" y="539.9" width="23.4" height="52.6" fill="#FEDCCD"/>
<rect x="559.6" y="539.9" width="23.4" height="52.6" fill="#FEDCCD"/>
<rect x="583" y="539.9" width="23.4" height="52.6" fill="#FFB495"/>
<rect x="606.4" y="539.9" width="23.4" height="52.6" fill="#FEDCCD"/>
<rect x="629.8" y="539.9" width="23.4" height="52.6" fill="#FFA886"/>
<rect x="653.2" y="539.9" width="23.4" height="52.6" fill="#FD8C6D"/>
<rect x="676.6" y="539.9" width="23.4" height="52.6" fill="#FEDCCD"/>
<rect x="700" y="539.9" width="23.4" height="52.6" fill="#FEDCCD"/>
<rect x="723.4" y="539.9" width="23.4" height="52.6" fill="#9CD2E7"/>
<rect x="746.8" y="539.9" width="23.4" height="52.6" fill="#E4E1DF"/>
<rect x="770.2" y="539.9" width="23.4" height="52.6" fill="#B8DEEC"/>
<rect x="793.6" y="539.9" width="23.4" height="52.6" fill="#8ACBE4"/>
<rect x="817" y="539.9" width="23.4" height="52.6" fill="#B8DEEC"/>
<rect x="840.3" y="539.9" width="23.4" height="52.6" fill="#C5E2EE"/>
<rect x="863.7" y="539.9" width="23.4" height="52.6" fill="#C5E2EE"/>
<rect x="887.1" y="539.9" width="23.4" height="52.6" fill="#9CD2E7"/>
<rect x="910.5" y="539.9" width="23.4" height="52.6" fill="#9CD2E7"/>
<rect x="933.9" y="539.9" width="23.4" height="52.6" fill="#FEDCCD"/>
<rect x="957.3" y="539.9" width="23.4" height="52.6" fill="#FEDCCD"/>
<rect x="980.7" y="539.9" width="23.4" height="52.6" fill="#F1DED6"/>
<rect x="1004.1" y="539.9" width="23.4" height="52.6" fill="#AAD8EA"/>
<rect x="1027.5" y="539.9" width="23.4" height="52.6" fill="#FEDCCD"/>
<rect x="1050.9" y="539.9" width="23.4" height="52.6" fill="#FEDCCD"/>
<rect x="1074.3" y="539.9" width="23.4" height="52.6" fill="#FEDCCD"/>
<rect x="1097.7" y="539.9" width="23.4" height="52.6" fill="#FFBFA3"/>
<rect x="1121.1" y="539.9" width="23.4" height="52.6" fill="#FEDCCD"/>
<rect x="1144.5" y="539.9" width="23.4" height="52.6" fill="#FFA886"/>
<rect x="1167.9" y="539.9" width="23.4" height="52.6" fill="#C5E2EE"/>
<rect x="1191.3" y="539.9" width="23.4" height="52.6" fill="#FFA886"/>
<rect x="1214.7" y="539.9" width="23.4" height="52.6" fill="#FFBFA3"/>
<rect x="1238.1" y="539.9" width="23.4" height="52.6" fill="#FD8C6D"/>
<rect x="1261.5" y="539.9" width="23.4" height="52.6" fill="#FFBFA3"/>
<rect x="1284.9" y="539.9" width="23.4" height="52.6" fill="#FED3BF"/>
<rect x="1308.3" y="539.9" width="23.4" height="52.6" fill="#FEDCCD"/>
<rect x="1331.7" y="539.9" width="23.4" height="52.6" fill="#9CD2E7"/>
<rect x="1355.1" y="539.9" width="23.4" height="52.6" fill="#8ACBE4"/>
<rect x="1378.5" y="539.9" width="23.4" height="52.6" fill="#C5E2EE"/>
<rect x="1401.8" y="539.9" width="23.4" height="52.6" fill="#AAD8EA"/>
<rect x="1425.2" y="539.9" width="23.4" height="52.6" fill="#DBE4E7"/>
<rect x="1448.6" y="539.9" width="23.4" height="52.6" fill="#B8DEEC"/>
<rect x="1472" y="539.9" width="23.4" height="52.6" fill="#C5E2EE"/>
<rect x="1495.4" y="539.9" width="23.4" height="52.6" fill="#9CD2E7"/>
<rect x="1518.8" y="539.9" width="23.4" height="52.6" fill="#9CD2E7"/>
<rect x="1542.2" y="539.9" width="23.4" height="52.6" fill="#FED3BF"/>
<rect x="1565.6" y="539.9" width="23.4" height="52.6" fill="#F1DED6"/>
<rect x="1589" y="539.9" width="23.4" height="52.6" fill="#9CD2E7"/>
<rect x="1612.4" y="539.9" width="23.4" height="52.6" fill="#9CD2E7"/>
<rect x="1635.8" y="539.9" width="23.4" height="52.6" fill="#AAD8EA"/>
<rect x="1659.2" y="539.9" width="23.4" height="52.6" fill="#B8DEEC"/>
<rect x="1682.6" y="539.9" width="23.4" height="52.6" fill="#B8DEEC"/>
<rect x="232.1" y="592.5" width="23.4" height="52.6" fill="#9CD2E7"/>
<rect x="255.4" y="592.5" width="23.4" height="52.6" fill="#FF9B78"/>
<rect x="278.8" y="592.5" width="23.4" height="52.6" fill="#DBE4E7"/>
<rect x="302.2" y="592.5" width="23.4" height="52.6" fill="#F1DED6"/>
<rect x="325.6" y="592.5" width="23.4" height="52.6" fill="#FEDCCD"/>
<rect x="349" y="592.5" width="23.4" height="52.6" fill="#D2E6EF"/>
<rect x="372.4" y="592.5" width="23.4" height="52.6" fill="#B8DEEC"/>
<rect x="395.8" y="592.5" width="23.4" height="52.6" fill="#DBE4E7"/>
<rect x="419.2" y="592.5" width="23.4" height="52.6" fill="#DBE4E7"/>
<rect x="442.6" y="592.5" width="23.4" height="52.6" fill="#B8DEEC"/>
<rect x="466" y="592.5" width="23.4" height="52.6" fill="#FEDCCD"/>
<rect x="489.4" y="592.5" width="23.4" height="52.6" fill="#DBE4E7"/>
<rect x="512.8" y="592.5" width="23.4" height="52.6" fill="#B8DEEC"/>
<rect x="536.2" y="592.5" width="23.4" height="52.6" fill="#AAD8EA"/>
<rect x="559.6" y="592.5" width="23.4" height="52.6" fill="#B8DEEC"/>
<rect x="583" y="592.5" width="23.4" height="52.6" fill="#F1DED6"/>
<rect x="606.4" y="592.5" width="23.4" height="52.6" fill="#AAD8EA"/>
<rect x="629.8" y="592.5" width="23.4" height="52.6" fill="#F1DED6"/>
<rect x="653.2" y="592.5" width="23.4" height="52.6" fill="#B8DEEC"/>
<rect x="676.6" y="592.5" width="23.4" height="52.6" fill="#FEDCCD"/>
<rect x="700" y="592.5" width="23.4" height="52.6" fill="#D2E6EF"/>
<rect x="723.4" y="592.5" width="23.4" height="52.6" fill="#FFBFA3"/>
<rect x="746.8" y="592.5" width="23.4" height="52.6" fill="#E4E1DF"/>
<rect x="770.2" y="592.5" width="23.4" height="52.6" fill="#D2E6EF"/>
<rect x="793.6" y="592.5" width="23.4" height="52.6" fill="#8ACBE4"/>
<rect x="817" y="592.5" width="23.4" height="52.6" fill="#DBE4E7"/>
<rect x="840.3" y="592.5" width="23.4" height="52.6" fill="#FFBFA3"/>
<rect x="863.7" y="592.5" width="23.4" height="52.6" fill="#FED3BF"/>
<rect x="887.1" y="592.5" width="23.4" height="52.6" fill="#DBE4E7"/>
<rect x="910.5" y="592.5" width="23.4" height="52.6" fill="#F1DED6"/>
<rect x="933.9" y="592.5" width="23.4" height="52.6" fill="#F66C54"/>
<rect x="957.3" y="592.5" width="23.4" height="52.6" fill="#FFBFA3"/>
<rect x="980.7" y="592.5" width="23.4" height="52.6" fill="#FFCAB1"/>
<rect x="1004.1" y="592.5" width="23.4" height="52.6" fill="#E4E1DF"/>
<rect x="1027.5" y="592.5" width="23.4" height="52.6" fill="#B8DEEC"/>
<rect x="1050.9" y="592.5" width="23.4" height="52.6" fill="#FEDCCD"/>
<rect x="1074.3" y="592.5" width="23.4" height="52.6" fill="#DBE4E7"/>
<rect x="1097.7" y="592.5" width="23.4" height="52.6" fill="#C5E2EE"/>
<rect x="1121.1" y="592.5" width="23.4" height="52.6" fill="#D2E6EF"/>
<rect x="1144.5" y="592.5" width="23.4" height="52.6" fill="#9CD2E7"/>
<rect x="1167.9" y="592.5" width="23.4" height="52.6" fill="#FFA886"/>
<rect x="1191.3" y="592.5" width="23.4" height="52.6" fill="#E4E1DF"/>
<rect x="1214.7" y="592.5" width="23.4" height="52.6" fill="#F1DED6"/>
<rect x="1238.1" y="592.5" width="23.4" height="52.6" fill="#FFA886"/>
<rect x="1261.5" y="592.5" width="23.4" height="52.6" fill="#FFB495"/>
<rect x="1284.9" y="592.5" width="23.4" height="52.6" fill="#FFB495"/>
<rect x="1308.3" y="592.5" width="23.4" height="52.6" fill="#F1DED6"/>
<rect x="1331.7" y="592.5" width="23.4" height="52.6" fill="#C5E2EE"/>
<rect x="1355.1" y="592.5" width="23.4" height="52.6" fill="#C5E2EE"/>
<rect x="1378.5" y="592.5" width="23.4" height="52.6" fill="#FEDCCD"/>
<rect x="1401.8" y="592.5" width="23.4" height="52.6" fill="#F1DED6"/>
<rect x="1425.2" y="592.5" width="23.4" height="52.6" fill="#FED3BF"/>
<rect x="1448.6" y="592.5" width="23.4" height="52.6" fill="#C5E2EE"/>
<rect x="1472" y="592.5" width="23.4" height="52.6" fill="#C5E2EE"/>
<rect x="1495.4" y="592.5" width="23.4" height="52.6" fill="#DBE4E7"/>
<rect x="1518.8" y="592.5" width="23.4" height="52.6" fill="#D2E6EF"/>
<rect x="1542.2" y="592.5" width="23.4" height="52.6" fill="#AAD8EA"/>
<rect x="1565.6" y="592.5" width="23.4" height="52.6" fill="#9CD2E7"/>
<rect x="1589" y="592.5" width="23.4" height="52.6" fill="#DBE4E7"/>
<rect x="1612.4" y="592.5" width="23.4" height="52.6" fill="#F1DED6"/>
<rect x="1635.8" y="592.5" width="23.4" height="52.6" fill="#F05A47"/>
<rect x="1659.2" y="592.5" width="23.4" height="52.6" fill="#DBE4E7"/>
<rect x="1682.6" y="592.5" width="23.4" height="52.6" fill="#FED3BF"/>
<rect x="232.1" y="645.1" width="23.4" height="52.6" fill="#64BADC"/>
<rect x="255.4" y="645.1" width="23.4" height="52.6" fill="#9CD2E7"/>
<rect x="278.8" y="645.1" width="23.4" height="52.6" fill="#8ACBE4"/>
<rect x="302.2" y="645.1" width="23.4" height="52.6" fill="#C5E2EE"/>
<rect x="325.6" y="645.1" width="23.4" height="52.6" fill="#C5E2EE"/>
<rect x="349" y="645.1" width="23.4" height="52.6" fill="#E4E1DF"/>
<rect x="372.4" y="645.1" width="23.4" height="52.6" fill="#D2E6EF"/>
<rect x="395.8" y="645.1" width="23.4" height="52.6" fill="#FEDCCD"/>
<rect x="419.2" y="645.1" width="23.4" height="52.6" fill="#D2E6EF"/>
<rect x="442.6" y="645.1" width="23.4" height="52.6" fill="#D2E6EF"/>
<rect x="466" y="645.1" width="23.4" height="52.6" fill="#FFCAB1"/>
<rect x="489.4" y="645.1" width="23.4" height="52.6" fill="#D2E6EF"/>
<rect x="512.8" y="645.1" width="23.4" height="52.6" fill="#DBE4E7"/>
<rect x="536.2" y="645.1" width="23.4" height="52.6" fill="#D2E6EF"/>
<rect x="559.6" y="645.1" width="23.4" height="52.6" fill="#F1DED6"/>
<rect x="583" y="645.1" width="23.4" height="52.6" fill="#C5E2EE"/>
<rect x="606.4" y="645.1" width="23.4" height="52.6" fill="#FED3BF"/>
<rect x="629.8" y="645.1" width="23.4" height="52.6" fill="#C5E2EE"/>
<rect x="653.2" y="645.1" width="23.4" height="52.6" fill="#C5E2EE"/>
<rect x="676.6" y="645.1" width="23.4" height="52.6" fill="#AAD8EA"/>
<rect x="700" y="645.1" width="23.4" height="52.6" fill="#9CD2E7"/>
<rect x="723.4" y="645.1" width="23.4" height="52.6" fill="#E4E1DF"/>
<rect x="746.8" y="645.1" width="23.4" height="52.6" fill="#B8DEEC"/>
<rect x="770.2" y="645.1" width="23.4" height="52.6" fill="#B8DEEC"/>
<rect x="793.6" y="645.1" width="23.4" height="52.6" fill="#B8DEEC"/>
<rect x="817" y="645.1" width="23.4" height="52.6" fill="#C5E2EE"/>
<rect x="840.3" y="645.1" width="23.4" height="52.6" fill="#E4E1DF"/>
<rect x="863.7" y="645.1" width="23.4" height="52.6" fill="#FEDCCD"/>
<rect x="887.1" y="645.1" width="23.4" height="52.6" fill="#DBE4E7"/>
<rect x="910.5" y="645.1" width="23.4" height="52.6" fill="#D2E6EF"/>
<rect x="933.9" y="645.1" width="23.4" height="52.6" fill="#FEDCCD"/>
<rect x="957.3" y="645.1" width="23.4" height="52.6" fill="#F1DED6"/>
<rect x="980.7" y="645.1" width="23.4" height="52.6" fill="#9CD2E7"/>
<rect x="1004.1" y="645.1" width="23.4" height="52.6" fill="#F1DED6"/>
<rect x="1027.5" y="645.1" width="23.4" height="52.6" fill="#DBE4E7"/>
<rect x="1050.9" y="645.1" width="23.4" height="52.6" fill="#F1DED6"/>
<rect x="1074.3" y="645.1" width="23.4" height="52.6" fill="#FEDCCD"/>
<rect x="1097.7" y="645.1" width="23.4" height="52.6" fill="#F1DED6"/>
<rect x="1121.1" y="645.1" width="23.4" height="52.6" fill="#C5E2EE"/>
<rect x="1144.5" y="645.1" width="23.4" height="52.6" fill="#FFCAB1"/>
<rect x="1167.9" y="645.1" width="23.4" height="52.6" fill="#FFCAB1"/>
<rect x="1191.3" y="645.1" width="23.4" height="52.6" fill="#F1DED6"/>
<rect x="1214.7" y="645.1" width="23.4" height="52.6" fill="#D2E6EF"/>
<rect x="1238.1" y="645.1" width="23.4" height="52.6" fill="#F1DED6"/>
<rect x="1261.5" y="645.1" width="23.4" height="52.6" fill="#FED3BF"/>
<rect x="1284.9" y="645.1" width="23.4" height="52.6" fill="#FED3BF"/>
<rect x="1308.3" y="645.1" width="23.4" height="52.6" fill="#FFCAB1"/>
<rect x="1331.7" y="645.1" width="23.4" height="52.6" fill="#FFBFA3"/>
<rect x="1355.1" y="645.1" width="23.4" height="52.6" fill="#DBE4E7"/>
<rect x="1378.5" y="645.1" width="23.4" height="52.6" fill="#FFBFA3"/>
<rect x="1401.8" y="645.1" width="23.4" height="52.6" fill="#F1DED6"/>
<rect x="1425.2" y="645.1" width="23.4" height="52.6" fill="#FEDCCD"/>
<rect x="1448.6" y="645.1" width="23.4" height="52.6" fill="#F1DED6"/>
<rect x="1472" y="645.1" width="23.4" height="52.6" fill="#D2E6EF"/>
<rect x="1495.4" y="645.1" width="23.4" height="52.6" fill="#DBE4E7"/>
<rect x="1518.8" y="645.1" width="23.4" height="52.6" fill="#FED3BF"/>
<rect x="1542.2" y="645.1" width="23.4" height="52.6" fill="#E4E1DF"/>
<rect x="1565.6" y="645.1" width="23.4" height="52.6" fill="#9CD2E7"/>
<rect x="1589" y="645.1" width="23.4" height="52.6" fill="#FED3BF"/>
<rect x="1612.4" y="645.1" width="23.4" height="52.6" fill="#FFCAB1"/>
<rect x="1635.8" y="645.1" width="23.4" height="52.6" fill="#F66C54"/>
<rect x="1659.2" y="645.1" width="23.4" height="52.6" fill="#F05A47"/>
<rect x="1682.6" y="645.1" width="23.4" height="52.6" fill="#F05A47"/>
<rect x="232.1" y="697.7" width="23.4" height="52.6" fill="#79C4E1"/>
<rect x="255.4" y="697.7" width="23.4" height="52.6" fill="#8ACBE4"/>
<rect x="278.8" y="697.7" width="23.4" height="52.6" fill="#9CD2E7"/>
<rect x="302.2" y="697.7" width="23.4" height="52.6" fill="#8ACBE4"/>
<rect x="325.6" y="697.7" width="23.4" height="52.6" fill="#C5E2EE"/>
<rect x="349" y="697.7" width="23.4" height="52.6" fill="#C5E2EE"/>
<rect x="372.4" y="697.7" width="23.4" height="52.6" fill="#DBE4E7"/>
<rect x="395.8" y="697.7" width="23.4" height="52.6" fill="#C5E2EE"/>
<rect x="419.2" y="697.7" width="23.4" height="52.6" fill="#B8DEEC"/>
<rect x="442.6" y="697.7" width="23.4" height="52.6" fill="#C5E2EE"/>
<rect x="466" y="697.7" width="23.4" height="52.6" fill="#F1DED6"/>
<rect x="489.4" y="697.7" width="23.4" height="52.6" fill="#F1DED6"/>
<rect x="512.8" y="697.7" width="23.4" height="52.6" fill="#C5E2EE"/>
<rect x="536.2" y="697.7" width="23.4" height="52.6" fill="#FED3BF"/>
<rect x="559.6" y="697.7" width="23.4" height="52.6" fill="#D2E6EF"/>
<rect x="583" y="697.7" width="23.4" height="52.6" fill="#C5E2EE"/>
<rect x="606.4" y="697.7" width="23.4" height="52.6" fill="#9CD2E7"/>
<rect x="629.8" y="697.7" width="23.4" height="52.6" fill="#D2E6EF"/>
<rect x="653.2" y="697.7" width="23.4" height="52.6" fill="#9CD2E7"/>
<rect x="676.6" y="697.7" width="23.4" height="52.6" fill="#8ACBE4"/>
<rect x="700" y="697.7" width="23.4" height="52.6" fill="#9CD2E7"/>
<rect x="723.4" y="697.7" width="23.4" height="52.6" fill="#FEDCCD"/>
<rect x="746.8" y="697.7" width="23.4" height="52.6" fill="#FEDCCD"/>
<rect x="770.2" y="697.7" width="23.4" height="52.6" fill="#E4E1DF"/>
<rect x="793.6" y="697.7" width="23.4" height="52.6" fill="#FFCAB1"/>
<rect x="817" y="697.7" width="23.4" height="52.6" fill="#F1DED6"/>
<rect x="840.3" y="697.7" width="23.4" height="52.6" fill="#C5E2EE"/>
<rect x="863.7" y="697.7" width="23.4" height="52.6" fill="#DBE4E7"/>
<rect x="887.1" y="697.7" width="23.4" height="52.6" fill="#B8DEEC"/>
<rect x="910.5" y="697.7" width="23.4" height="52.6" fill="#B8DEEC"/>
<rect x="933.9" y="697.7" width="23.4" height="52.6" fill="#E4E1DF"/>
<rect x="957.3" y="697.7" width="23.4" height="52.6" fill="#B8DEEC"/>
<rect x="980.7" y="697.7" width="23.4" height="52.6" fill="#FED3BF"/>
<rect x="1004.1" y="697.7" width="23.4" height="52.6" fill="#C5E2EE"/>
<rect x="1027.5" y="697.7" width="23.4" height="52.6" fill="#F1DED6"/>
<rect x="1050.9" y="697.7" width="23.4" height="52.6" fill="#9CD2E7"/>
<rect x="1074.3" y="697.7" width="23.4" height="52.6" fill="#B8DEEC"/>
<rect x="1097.7" y="697.7" width="23.4" height="52.6" fill="#DBE4E7"/>
<rect x="1121.1" y="697.7" width="23.4" height="52.6" fill="#C5E2EE"/>
<rect x="1144.5" y="697.7" width="23.4" height="52.6" fill="#FED3BF"/>
<rect x="1167.9" y="697.7" width="23.4" height="52.6" fill="#FED3BF"/>
<rect x="1191.3" y="697.7" width="23.4" height="52.6" fill="#FFBFA3"/>
<rect x="1214.7" y="697.7" width="23.4" height="52.6" fill="#FEDCCD"/>
<rect x="1238.1" y="697.7" width="23.4" height="52.6" fill="#C5E2EE"/>
<rect x="1261.5" y="697.7" width="23.4" height="52.6" fill="#E4E1DF"/>
<rect x="1284.9" y="697.7" width="23.4" height="52.6" fill="#FEDCCD"/>
<rect x="1308.3" y="697.7" width="23.4" height="52.6" fill="#FFA886"/>
<rect x="1331.7" y="697.7" width="23.4" height="52.6" fill="#F05A47"/>
<rect x="1355.1" y="697.7" width="23.4" height="52.6" fill="#FFB495"/>
<rect x="1378.5" y="697.7" width="23.4" height="52.6" fill="#FEDCCD"/>
<rect x="1401.8" y="697.7" width="23.4" height="52.6" fill="#FEDCCD"/>
<rect x="1425.2" y="697.7" width="23.4" height="52.6" fill="#FF9B78"/>
<rect x="1448.6" y="697.7" width="23.4" height="52.6" fill="#FEDCCD"/>
<rect x="1472" y="697.7" width="23.4" height="52.6" fill="#FF9B78"/>
<rect x="1495.4" y="697.7" width="23.4" height="52.6" fill="#FFBFA3"/>
<rect x="1518.8" y="697.7" width="23.4" height="52.6" fill="#FFBFA3"/>
<rect x="1542.2" y="697.7" width="23.4" height="52.6" fill="#FFA886"/>
<rect x="1565.6" y="697.7" width="23.4" height="52.6" fill="#F1DED6"/>
<rect x="1589" y="697.7" width="23.4" height="52.6" fill="#FED3BF"/>
<rect x="1612.4" y="697.7" width="23.4" height="52.6" fill="#FFBFA3"/>
<rect x="1635.8" y="697.7" width="23.4" height="52.6" fill="#FFCAB1"/>
<rect x="1659.2" y="697.7" width="23.4" height="52.6" fill="#F1DED6"/>
<rect x="1682.6" y="697.7" width="23.4" height="52.6" fill="#F1DED6"/>
<rect x="232.1" y="750.3" width="23.4" height="52.6" fill="#64BADC"/>
<rect x="255.4" y="750.3" width="23.4" height="52.6" fill="#79C4E1"/>
<rect x="278.8" y="750.3" width="23.4" height="52.6" fill="#8ACBE4"/>
<rect x="302.2" y="750.3" width="23.4" height="52.6" fill="#79C4E1"/>
<rect x="325.6" y="750.3" width="23.4" height="52.6" fill="#C5E2EE"/>
<rect x="349" y="750.3" width="23.4" height="52.6" fill="#C5E2EE"/>
<rect x="372.4" y="750.3" width="23.4" height="52.6" fill="#B8DEEC"/>
<rect x="395.8" y="750.3" width="23.4" height="52.6" fill="#AAD8EA"/>
<rect x="419.2" y="750.3" width="23.4" height="52.6" fill="#B8DEEC"/>
<rect x="442.6" y="750.3" width="23.4" height="52.6" fill="#F1DED6"/>
<rect x="466" y="750.3" width="23.4" height="52.6" fill="#9CD2E7"/>
<rect x="489.4" y="750.3" width="23.4" height="52.6" fill="#D2E6EF"/>
<rect x="512.8" y="750.3" width="23.4" height="52.6" fill="#B8DEEC"/>
<rect x="536.2" y="750.3" width="23.4" height="52.6" fill="#E4E1DF"/>
<rect x="559.6" y="750.3" width="23.4" height="52.6" fill="#FEDCCD"/>
<rect x="583" y="750.3" width="23.4" height="52.6" fill="#AAD8EA"/>
<rect x="606.4" y="750.3" width="23.4" height="52.6" fill="#E4E1DF"/>
<rect x="629.8" y="750.3" width="23.4" height="52.6" fill="#B8DEEC"/>
<rect x="653.2" y="750.3" width="23.4" height="52.6" fill="#FED3BF"/>
<rect x="676.6" y="750.3" width="23.4" height="52.6" fill="#C5E2EE"/>
<rect x="700" y="750.3" width="23.4" height="52.6" fill="#DBE4E7"/>
<rect x="723.4" y="750.3" width="23.4" height="52.6" fill="#8ACBE4"/>
<rect x="746.8" y="750.3" width="23.4" height="52.6" fill="#9CD2E7"/>
<rect x="770.2" y="750.3" width="23.4" height="52.6" fill="#FEDCCD"/>
<rect x="793.6" y="750.3" width="23.4" height="52.6" fill="#E4E1DF"/>
<rect x="817" y="750.3" width="23.4" height="52.6" fill="#D2E6EF"/>
<rect x="840.3" y="750.3" width="23.4" height="52.6" fill="#C5E2EE"/>
<rect x="863.7" y="750.3" width="23.4" height="52.6" fill="#FEDCCD"/>
<rect x="887.1" y="750.3" width="23.4" height="52.6" fill="#C5E2EE"/>
<rect x="910.5" y="750.3" width="23.4" height="52.6" fill="#FEDCCD"/>
<rect x="933.9" y="750.3" width="23.4" height="52.6" fill="#AAD8EA"/>
<rect x="957.3" y="750.3" width="23.4" height="52.6" fill="#C5E2EE"/>
<rect x="980.7" y="750.3" width="23.4" height="52.6" fill="#FFCAB1"/>
<rect x="1004.1" y="750.3" width="23.4" height="52.6" fill="#F1DED6"/>
<rect x="1027.5" y="750.3" width="23.4" height="52.6" fill="#D2E6EF"/>
<rect x="1050.9" y="750.3" width="23.4" height="52.6" fill="#B8DEEC"/>
<rect x="1074.3" y="750.3" width="23.4" height="52.6" fill="#AAD8EA"/>
<rect x="1097.7" y="750.3" width="23.4" height="52.6" fill="#F1DED6"/>
<rect x="1121.1" y="750.3" width="23.4" height="52.6" fill="#FED3BF"/>
<rect x="1144.5" y="750.3" width="23.4" height="52.6" fill="#FFB495"/>
<rect x="1167.9" y="750.3" width="23.4" height="52.6" fill="#FFBFA3"/>
<rect x="1191.3" y="750.3" width="23.4" height="52.6" fill="#FFB495"/>
<rect x="1214.7" y="750.3" width="23.4" height="52.6" fill="#FFCAB1"/>
<rect x="1238.1" y="750.3" width="23.4" height="52.6" fill="#DBE4E7"/>
<rect x="1261.5" y="750.3" width="23.4" height="52.6" fill="#FED3BF"/>
<rect x="1284.9" y="750.3" width="23.4" height="52.6" fill="#FEDCCD"/>
<rect x="1308.3" y="750.3" width="23.4" height="52.6" fill="#FEDCCD"/>
<rect x="1331.7" y="750.3" width="23.4" height="52.6" fill="#FEDCCD"/>
<rect x="1355.1" y="750.3" width="23.4" height="52.6" fill="#FFA886"/>
<rect x="1378.5" y="750.3" width="23.4" height="52.6" fill="#FEDCCD"/>
<rect x="1401.8" y="750.3" width="23.4" height="52.6" fill="#FED3BF"/>
<rect x="1425.2" y="750.3" width="23.4" height="52.6" fill="#FF9B78"/>
<rect x="1448.6" y="750.3" width="23.4" height="52.6" fill="#FFCAB1"/>
<rect x="1472" y="750.3" width="23.4" height="52.6" fill="#FEDCCD"/>
<rect x="1495.4" y="750.3" width="23.4" height="52.6" fill="#FED3BF"/>
<rect x="1518.8" y="750.3" width="23.4" height="52.6" fill="#FFBFA3"/>
<rect x="1542.2" y="750.3" width="23.4" height="52.6" fill="#FFB495"/>
<rect x="1565.6" y="750.3" width="23.4" height="52.6" fill="#DBE4E7"/>
<rect x="1589" y="750.3" width="23.4" height="52.6" fill="#FFB495"/>
<rect x="1612.4" y="750.3" width="23.4" height="52.6" fill="#FFB495"/>
<rect x="1635.8" y="750.3" width="23.4" height="52.6" fill="#FFB495"/>
<rect x="1659.2" y="750.3" width="23.4" height="52.6" fill="#FFBFA3"/>
<rect x="1682.6" y="750.3" width="23.4" height="52.6" fill="#FFCAB1"/>
<rect x="232.1" y="802.9" width="23.4" height="52.6" fill="#79C4E1"/>
<rect x="255.4" y="802.9" width="23.4" height="52.6" fill="#8ACBE4"/>
<rect x="278.8" y="802.9" width="23.4" height="52.6" fill="#AAD8EA"/>
<rect x="302.2" y="802.9" width="23.4" height="52.6" fill="#8ACBE4"/>
<rect x="325.6" y="802.9" width="23.4" height="52.6" fill="#B8DEEC"/>
<rect x="349" y="802.9" width="23.4" height="52.6" fill="#C5E2EE"/>
<rect x="372.4" y="802.9" width="23.4" height="52.6" fill="#B8DEEC"/>
<rect x="395.8" y="802.9" width="23.4" height="52.6" fill="#AAD8EA"/>
<rect x="419.2" y="802.9" width="23.4" height="52.6" fill="#B8DEEC"/>
<rect x="442.6" y="802.9" width="23.4" height="52.6" fill="#B8DEEC"/>
<rect x="466" y="802.9" width="23.4" height="52.6" fill="#79C4E1"/>
<rect x="489.4" y="802.9" width="23.4" height="52.6" fill="#C5E2EE"/>
<rect x="512.8" y="802.9" width="23.4" height="52.6" fill="#B8DEEC"/>
<rect x="536.2" y="802.9" width="23.4" height="52.6" fill="#D2E6EF"/>
<rect x="559.6" y="802.9" width="23.4" height="52.6" fill="#B8DEEC"/>
<rect x="583" y="802.9" width="23.4" height="52.6" fill="#B8DEEC"/>
<rect x="606.4" y="802.9" width="23.4" height="52.6" fill="#AAD8EA"/>
<rect x="629.8" y="802.9" width="23.4" height="52.6" fill="#B8DEEC"/>
<rect x="653.2" y="802.9" width="23.4" height="52.6" fill="#E4E1DF"/>
<rect x="676.6" y="802.9" width="23.4" height="52.6" fill="#AAD8EA"/>
<rect x="700" y="802.9" width="23.4" height="52.6" fill="#AAD8EA"/>
<rect x="723.4" y="802.9" width="23.4" height="52.6" fill="#E4E1DF"/>
<rect x="746.8" y="802.9" width="23.4" height="52.6" fill="#FEDCCD"/>
<rect x="770.2" y="802.9" width="23.4" height="52.6" fill="#F1DED6"/>
<rect x="793.6" y="802.9" width="23.4" height="52.6" fill="#FEDCCD"/>
<rect x="817" y="802.9" width="23.4" height="52.6" fill="#D2E6EF"/>
<rect x="840.3" y="802.9" width="23.4" height="52.6" fill="#D2E6EF"/>
<rect x="863.7" y="802.9" width="23.4" height="52.6" fill="#D2E6EF"/>
<rect x="887.1" y="802.9" width="23.4" height="52.6" fill="#B8DEEC"/>
<rect x="910.5" y="802.9" width="23.4" height="52.6" fill="#DBE4E7"/>
<rect x="933.9" y="802.9" width="23.4" height="52.6" fill="#9CD2E7"/>
<rect x="957.3" y="802.9" width="23.4" height="52.6" fill="#9CD2E7"/>
<rect x="980.7" y="802.9" width="23.4" height="52.6" fill="#FEDCCD"/>
<rect x="1004.1" y="802.9" width="23.4" height="52.6" fill="#FEDCCD"/>
<rect x="1027.5" y="802.9" width="23.4" height="52.6" fill="#F1DED6"/>
<rect x="1050.9" y="802.9" width="23.4" height="52.6" fill="#D2E6EF"/>
<rect x="1074.3" y="802.9" width="23.4" height="52.6" fill="#FFCAB1"/>
<rect x="1097.7" y="802.9" width="23.4" height="52.6" fill="#FED3BF"/>
<rect x="1121.1" y="802.9" width="23.4" height="52.6" fill="#FEDCCD"/>
<rect x="1144.5" y="802.9" width="23.4" height="52.6" fill="#D2E6EF"/>
<rect x="1167.9" y="802.9" width="23.4" height="52.6" fill="#FFBFA3"/>
<rect x="1191.3" y="802.9" width="23.4" height="52.6" fill="#FFCAB1"/>
<rect x="1214.7" y="802.9" width="23.4" height="52.6" fill="#FFCAB1"/>
<rect x="1238.1" y="802.9" width="23.4" height="52.6" fill="#E4E1DF"/>
<rect x="1261.5" y="802.9" width="23.4" height="52.6" fill="#E4E1DF"/>
<rect x="1284.9" y="802.9" width="23.4" height="52.6" fill="#E4E1DF"/>
<rect x="1308.3" y="802.9" width="23.4" height="52.6" fill="#FED3BF"/>
<rect x="1331.7" y="802.9" width="23.4" height="52.6" fill="#FFCAB1"/>
<rect x="1355.1" y="802.9" width="23.4" height="52.6" fill="#FFB495"/>
<rect x="1378.5" y="802.9" width="23.4" height="52.6" fill="#E4E1DF"/>
<rect x="1401.8" y="802.9" width="23.4" height="52.6" fill="#FFCAB1"/>
<rect x="1425.2" y="802.9" width="23.4" height="52.6" fill="#FB7E62"/>
<rect x="1448.6" y="802.9" width="23.4" height="52.6" fill="#FFBFA3"/>
<rect x="1472" y="802.9" width="23.4" height="52.6" fill="#FFB495"/>
<rect x="1495.4" y="802.9" width="23.4" height="52.6" fill="#FFCAB1"/>
<rect x="1518.8" y="802.9" width="23.4" height="52.6" fill="#FFBFA3"/>
<rect x="1542.2" y="802.9" width="23.4" height="52.6" fill="#FFBFA3"/>
<rect x="1565.6" y="802.9" width="23.4" height="52.6" fill="#FFBFA3"/>
<rect x="1589" y="802.9" width="23.4" height="52.6" fill="#FFBFA3"/>
<rect x="1612.4" y="802.9" width="23.4" height="52.6" fill="#FFB495"/>
<rect x="1635.8" y="802.9" width="23.4" height="52.6" fill="#FFA886"/>
<rect x="1659.2" y="802.9" width="23.4" height="52.6" fill="#FFCAB1"/>
<rect x="1682.6" y="802.9" width="23.4" height="52.6" fill="#FED3BF"/>
<rect x="232.1" y="855.5" width="23.4" height="52.6" fill="#64BADC"/>
<rect x="255.4" y="855.5" width="23.4" height="52.6" fill="#8ACBE4"/>
<rect x="278.8" y="855.5" width="23.4" height="52.6" fill="#9CD2E7"/>
<rect x="302.2" y="855.5" width="23.4" height="52.6" fill="#8ACBE4"/>
<rect x="325.6" y="855.5" width="23.4" height="52.6" fill="#B8DEEC"/>
<rect x="349" y="855.5" width="23.4" height="52.6" fill="#D2E6EF"/>
<rect x="372.4" y="855.5" width="23.4" height="52.6" fill="#D2E6EF"/>
<rect x="395.8" y="855.5" width="23.4" height="52.6" fill="#9CD2E7"/>
<rect x="419.2" y="855.5" width="23.4" height="52.6" fill="#B8DEEC"/>
<rect x="442.6" y="855.5" width="23.4" height="52.6" fill="#B8DEEC"/>
<rect x="466" y="855.5" width="23.4" height="52.6" fill="#B8DEEC"/>
<rect x="489.4" y="855.5" width="23.4" height="52.6" fill="#DBE4E7"/>
<rect x="512.8" y="855.5" width="23.4" height="52.6" fill="#C5E2EE"/>
<rect x="536.2" y="855.5" width="23.4" height="52.6" fill="#D2E6EF"/>
<rect x="559.6" y="855.5" width="23.4" height="52.6" fill="#AAD8EA"/>
<rect x="583" y="855.5" width="23.4" height="52.6" fill="#D2E6EF"/>
<rect x="606.4" y="855.5" width="23.4" height="52.6" fill="#9CD2E7"/>
<rect x="629.8" y="855.5" width="23.4" height="52.6" fill="#D2E6EF"/>
<rect x="653.2" y="855.5" width="23.4" height="52.6" fill="#AAD8EA"/>
<rect x="676.6" y="855.5" width="23.4" height="52.6" fill="#9CD2E7"/>
<rect x="700" y="855.5" width="23.4" height="52.6" fill="#B8DEEC"/>
<rect x="723.4" y="855.5" width="23.4" height="52.6" fill="#E4E1DF"/>
<rect x="746.8" y="855.5" width="23.4" height="52.6" fill="#FEDCCD"/>
<rect x="770.2" y="855.5" width="23.4" height="52.6" fill="#FEDCCD"/>
<rect x="793.6" y="855.5" width="23.4" height="52.6" fill="#F1DED6"/>
<rect x="817" y="855.5" width="23.4" height="52.6" fill="#AAD8EA"/>
<rect x="840.3" y="855.5" width="23.4" height="52.6" fill="#DBE4E7"/>
<rect x="863.7" y="855.5" width="23.4" height="52.6" fill="#DBE4E7"/>
<rect x="887.1" y="855.5" width="23.4" height="52.6" fill="#DBE4E7"/>
<rect x="910.5" y="855.5" width="23.4" height="52.6" fill="#F1DED6"/>
<rect x="933.9" y="855.5" width="23.4" height="52.6" fill="#B8DEEC"/>
<rect x="957.3" y="855.5" width="23.4" height="52.6" fill="#AAD8EA"/>
<rect x="980.7" y="855.5" width="23.4" height="52.6" fill="#E4E1DF"/>
<rect x="1004.1" y="855.5" width="23.4" height="52.6" fill="#FEDCCD"/>
<rect x="1027.5" y="855.5" width="23.4" height="52.6" fill="#FEDCCD"/>
<rect x="1050.9" y="855.5" width="23.4" height="52.6" fill="#DBE4E7"/>
<rect x="1074.3" y="855.5" width="23.4" height="52.6" fill="#FED3BF"/>
<rect x="1097.7" y="855.5" width="23.4" height="52.6" fill="#FED3BF"/>
<rect x="1121.1" y="855.5" width="23.4" height="52.6" fill="#F1DED6"/>
<rect x="1144.5" y="855.5" width="23.4" height="52.6" fill="#E4E1DF"/>
<rect x="1167.9" y="855.5" width="23.4" height="52.6" fill="#D2E6EF"/>
<rect x="1191.3" y="855.5" width="23.4" height="52.6" fill="#FEDCCD"/>
<rect x="1214.7" y="855.5" width="23.4" height="52.6" fill="#FED3BF"/>
<rect x="1238.1" y="855.5" width="23.4" height="52.6" fill="#FFBFA3"/>
<rect x="1261.5" y="855.5" width="23.4" height="52.6" fill="#FEDCCD"/>
<rect x="1284.9" y="855.5" width="23.4" height="52.6" fill="#F1DED6"/>
<rect x="1308.3" y="855.5" width="23.4" height="52.6" fill="#FF9B78"/>
<rect x="1331.7" y="855.5" width="23.4" height="52.6" fill="#F1DED6"/>
<rect x="1355.1" y="855.5" width="23.4" height="52.6" fill="#FED3BF"/>
<rect x="1378.5" y="855.5" width="23.4" height="52.6" fill="#F1DED6"/>
<rect x="1401.8" y="855.5" width="23.4" height="52.6" fill="#FFBFA3"/>
<rect x="1425.2" y="855.5" width="23.4" height="52.6" fill="#FFB495"/>
<rect x="1448.6" y="855.5" width="23.4" height="52.6" fill="#FED3BF"/>
<rect x="1472" y="855.5" width="23.4" height="52.6" fill="#FFCAB1"/>
<rect x="1495.4" y="855.5" width="23.4" height="52.6" fill="#FFA886"/>
<rect x="1518.8" y="855.5" width="23.4" height="52.6" fill="#FFBFA3"/>
<rect x="1542.2" y="855.5" width="23.4" height="52.6" fill="#FFA886"/>
<rect x="1565.6" y="855.5" width="23.4" height="52.6" fill="#FED3BF"/>
<rect x="1589" y="855.5" width="23.4" height="52.6" fill="#FFA886"/>
<rect x="1612.4" y="855.5" width="23.4" height="52.6" fill="#FFA886"/>
<rect x="1635.8" y="855.5" width="23.4" height="52.6" fill="#FFCAB1"/>
<rect x="1659.2" y="855.5" width="23.4" height="52.6" fill="#FFB495"/>
<rect x="1682.6" y="855.5" width="23.4" height="52.6" fill="#FFB495"/>
<rect x="232.1" y="908.1" width="23.4" height="52.6" fill="#79C4E1"/>
<rect x="255.4" y="908.1" width="23.4" height="52.6" fill="#B8DEEC"/>
<rect x="278.8" y="908.1" width="23.4" height="52.6" fill="#C5E2EE"/>
<rect x="302.2" y="908.1" width="23.4" height="52.6" fill="#B8DEEC"/>
<rect x="325.6" y="908.1" width="23.4" height="52.6" fill="#DBE4E7"/>
<rect x="349" y="908.1" width="23.4" height="52.6" fill="#FEDCCD"/>
<rect x="372.4" y="908.1" width="23.4" height="52.6" fill="#DBE4E7"/>
<rect x="395.8" y="908.1" width="23.4" height="52.6" fill="#9CD2E7"/>
<rect x="419.2" y="908.1" width="23.4" height="52.6" fill="#FEDCCD"/>
<rect x="442.6" y="908.1" width="23.4" height="52.6" fill="#DBE4E7"/>
<rect x="466" y="908.1" width="23.4" height="52.6" fill="#FEDCCD"/>
<rect x="489.4" y="908.1" width="23.4" height="52.6" fill="#E4E1DF"/>
<rect x="512.8" y="908.1" width="23.4" height="52.6" fill="#D2E6EF"/>
<rect x="536.2" y="908.1" width="23.4" height="52.6" fill="#B8DEEC"/>
<rect x="559.6" y="908.1" width="23.4" height="52.6" fill="#F1DED6"/>
<rect x="583" y="908.1" width="23.4" height="52.6" fill="#B8DEEC"/>
<rect x="606.4" y="908.1" width="23.4" height="52.6" fill="#9CD2E7"/>
<rect x="629.8" y="908.1" width="23.4" height="52.6" fill="#8ACBE4"/>
<rect x="653.2" y="908.1" width="23.4" height="52.6" fill="#79C4E1"/>
<rect x="676.6" y="908.1" width="23.4" height="52.6" fill="#8ACBE4"/>
<rect x="700" y="908.1" width="23.4" height="52.6" fill="#9CD2E7"/>
<rect x="723.4" y="908.1" width="23.4" height="52.6" fill="#FFB495"/>
<rect x="746.8" y="908.1" width="23.4" height="52.6" fill="#FED3BF"/>
<rect x="770.2" y="908.1" width="23.4" height="52.6" fill="#FED3BF"/>
<rect x="793.6" y="908.1" width="23.4" height="52.6" fill="#FEDCCD"/>
<rect x="817" y="908.1" width="23.4" height="52.6" fill="#9CD2E7"/>
<rect x="840.3" y="908.1" width="23.4" height="52.6" fill="#F1DED6"/>
<rect x="863.7" y="908.1" width="23.4" height="52.6" fill="#FED3BF"/>
<rect x="887.1" y="908.1" width="23.4" height="52.6" fill="#F1DED6"/>
<rect x="910.5" y="908.1" width="23.4" height="52.6" fill="#FFCAB1"/>
<rect x="933.9" y="908.1" width="23.4" height="52.6" fill="#D2E6EF"/>
<rect x="957.3" y="908.1" width="23.4" height="52.6" fill="#DBE4E7"/>
<rect x="980.7" y="908.1" width="23.4" height="52.6" fill="#F1DED6"/>
<rect x="1004.1" y="908.1" width="23.4" height="52.6" fill="#F1DED6"/>
<rect x="1027.5" y="908.1" width="23.4" height="52.6" fill="#FEDCCD"/>
<rect x="1050.9" y="908.1" width="23.4" height="52.6" fill="#F1DED6"/>
<rect x="1074.3" y="908.1" width="23.4" height="52.6" fill="#FEDCCD"/>
<rect x="1097.7" y="908.1" width="23.4" height="52.6" fill="#FFCAB1"/>
<rect x="1121.1" y="908.1" width="23.4" height="52.6" fill="#F1DED6"/>
<rect x="1144.5" y="908.1" width="23.4" height="52.6" fill="#D2E6EF"/>
<rect x="1167.9" y="908.1" width="23.4" height="52.6" fill="#FED3BF"/>
<rect x="1191.3" y="908.1" width="23.4" height="52.6" fill="#FFA886"/>
<rect x="1214.7" y="908.1" width="23.4" height="52.6" fill="#FED3BF"/>
<rect x="1238.1" y="908.1" width="23.4" height="52.6" fill="#E4E1DF"/>
<rect x="1261.5" y="908.1" width="23.4" height="52.6" fill="#FEDCCD"/>
<rect x="1284.9" y="908.1" width="23.4" height="52.6" fill="#FEDCCD"/>
<rect x="1308.3" y="908.1" width="23.4" height="52.6" fill="#79C4E1"/>
<rect x="1331.7" y="908.1" width="23.4" height="52.6" fill="#79C4E1"/>
<rect x="1355.1" y="908.1" width="23.4" height="52.6" fill="#FFBFA3"/>
<rect x="1378.5" y="908.1" width="23.4" height="52.6" fill="#FFBFA3"/>
<rect x="1401.8" y="908.1" width="23.4" height="52.6" fill="#79C4E1"/>
<rect x="1425.2" y="908.1" width="23.4" height="52.6" fill="#FFB495"/>
<rect x="1448.6" y="908.1" width="23.4" height="52.6" fill="#FFBFA3"/>
<rect x="1472" y="908.1" width="23.4" height="52.6" fill="#FFBFA3"/>
<rect x="1495.4" y="908.1" width="23.4" height="52.6" fill="#FFBFA3"/>
<rect x="1518.8" y="908.1" width="23.4" height="52.6" fill="#FED3BF"/>
<rect x="1542.2" y="908.1" width="23.4" height="52.6" fill="#C5E2EE"/>
<rect x="1565.6" y="908.1" width="23.4" height="52.6" fill="#F1DED6"/>
<rect x="1589" y="908.1" width="23.4" height="52.6" fill="#FFCAB1"/>
<rect x="1612.4" y="908.1" width="23.4" height="52.6" fill="#F1DED6"/>
<rect x="1635.8" y="908.1" width="23.4" height="52.6" fill="#FFB495"/>
<rect x="1659.2" y="908.1" width="23.4" height="52.6" fill="#FFBFA3"/>
<rect x="1682.6" y="908.1" width="23.4" height="52.6" fill="#FED3BF"/>
<rect x="232.1" y="960.7" width="23.4" height="52.6" fill="#25A4D0"/>
<rect x="255.4" y="960.7" width="23.4" height="52.6" fill="#C5E2EE"/>
<rect x="278.8" y="960.7" width="23.4" height="52.6" fill="#9CD2E7"/>
<rect x="302.2" y="960.7" width="23.4" height="52.6" fill="#8ACBE4"/>
<rect x="325.6" y="960.7" width="23.4" height="52.6" fill="#F1DED6"/>
<rect x="349" y="960.7" width="23.4" height="52.6" fill="#E4E1DF"/>
<rect x="372.4" y="960.7" width="23.4" height="52.6" fill="#C5E2EE"/>
<rect x="395.8" y="960.7" width="23.4" height="52.6" fill="#C5E2EE"/>
<rect x="419.2" y="960.7" width="23.4" height="52.6" fill="#FEDCCD"/>
<rect x="442.6" y="960.7" width="23.4" height="52.6" fill="#DBE4E7"/>
<rect x="466" y="960.7" width="23.4" height="52.6" fill="#9CD2E7"/>
<rect x="489.4" y="960.7" width="23.4" height="52.6" fill="#B8DEEC"/>
<rect x="512.8" y="960.7" width="23.4" height="52.6" fill="#79C4E1"/>
<rect x="536.2" y="960.7" width="23.4" height="52.6" fill="#79C4E1"/>
<rect x="559.6" y="960.7" width="23.4" height="52.6" fill="#B8DEEC"/>
<rect x="583" y="960.7" width="23.4" height="52.6" fill="#FEDCCD"/>
<rect x="606.4" y="960.7" width="23.4" height="52.6" fill="#B8DEEC"/>
<rect x="629.8" y="960.7" width="23.4" height="52.6" fill="#64BADC"/>
<rect x="653.2" y="960.7" width="23.4" height="52.6" fill="#C5E2EE"/>
<rect x="676.6" y="960.7" width="23.4" height="52.6" fill="#B8DEEC"/>
<rect x="700" y="960.7" width="23.4" height="52.6" fill="#FEDCCD"/>
<rect x="723.4" y="960.7" width="23.4" height="52.6" fill="#B8DEEC"/>
<rect x="746.8" y="960.7" width="23.4" height="52.6" fill="#D2E6EF"/>
<rect x="770.2" y="960.7" width="23.4" height="52.6" fill="#DBE4E7"/>
<rect x="793.6" y="960.7" width="23.4" height="52.6" fill="#D2E6EF"/>
<rect x="817" y="960.7" width="23.4" height="52.6" fill="#FFB495"/>
<rect x="840.3" y="960.7" width="23.4" height="52.6" fill="#DBE4E7"/>
<rect x="863.7" y="960.7" width="23.4" height="52.6" fill="#E4E1DF"/>
<rect x="887.1" y="960.7" width="23.4" height="52.6" fill="#FEDCCD"/>
<rect x="910.5" y="960.7" width="23.4" height="52.6" fill="#E4E1DF"/>
<rect x="933.9" y="960.7" width="23.4" height="52.6" fill="#FFCAB1"/>
<rect x="957.3" y="960.7" width="23.4" height="52.6" fill="#E4E1DF"/>
<rect x="980.7" y="960.7" width="23.4" height="52.6" fill="#FEDCCD"/>
<rect x="1004.1" y="960.7" width="23.4" height="52.6" fill="#E4E1DF"/>
<rect x="1027.5" y="960.7" width="23.4" height="52.6" fill="#FEDCCD"/>
<rect x="1050.9" y="960.7" width="23.4" height="52.6" fill="#C5E2EE"/>
<rect x="1074.3" y="960.7" width="23.4" height="52.6" fill="#F1DED6"/>
<rect x="1097.7" y="960.7" width="23.4" height="52.6" fill="#FFBFA3"/>
<rect x="1121.1" y="960.7" width="23.4" height="52.6" fill="#FEDCCD"/>
<rect x="1144.5" y="960.7" width="23.4" height="52.6" fill="#B8DEEC"/>
<rect x="1167.9" y="960.7" width="23.4" height="52.6" fill="#FFB495"/>
<rect x="1191.3" y="960.7" width="23.4" height="52.6" fill="#FD8C6D"/>
<rect x="1214.7" y="960.7" width="23.4" height="52.6" fill="#FFBFA3"/>
<rect x="1238.1" y="960.7" width="23.4" height="52.6" fill="#F1DED6"/>
<rect x="1261.5" y="960.7" width="23.4" height="52.6" fill="#FFBFA3"/>
<rect x="1284.9" y="960.7" width="23.4" height="52.6" fill="#FED3BF"/>
<rect x="1308.3" y="960.7" width="23.4" height="52.6" fill="#E4E1DF"/>
<rect x="1331.7" y="960.7" width="23.4" height="52.6" fill="#FFCAB1"/>
<rect x="1355.1" y="960.7" width="23.4" height="52.6" fill="#FFBFA3"/>
<rect x="1378.5" y="960.7" width="23.4" height="52.6" fill="#FED3BF"/>
<rect x="1401.8" y="960.7" width="23.4" height="52.6" fill="#D2E6EF"/>
<rect x="1425.2" y="960.7" width="23.4" height="52.6" fill="#FFBFA3"/>
<rect x="1448.6" y="960.7" width="23.4" height="52.6" fill="#C5E2EE"/>
<rect x="1472" y="960.7" width="23.4" height="52.6" fill="#FFCAB1"/>
<rect x="1495.4" y="960.7" width="23.4" height="52.6" fill="#FFBFA3"/>
<rect x="1518.8" y="960.7" width="23.4" height="52.6" fill="#E4E1DF"/>
<rect x="1542.2" y="960.7" width="23.4" height="52.6" fill="#FF9B78"/>
<rect x="1565.6" y="960.7" width="23.4" height="52.6" fill="#FFB495"/>
<rect x="1589" y="960.7" width="23.4" height="52.6" fill="#FED3BF"/>
<rect x="1612.4" y="960.7" width="23.4" height="52.6" fill="#E4E1DF"/>
<rect x="1635.8" y="960.7" width="23.4" height="52.6" fill="#FEDCCD"/>
<rect x="1659.2" y="960.7" width="23.4" height="52.6" fill="#D2E6EF"/>
<rect x="1682.6" y="960.7" width="23.4" height="52.6" fill="#D2E6EF"/>
<rect x="232.1" y="1013.3" width="23.4" height="52.6" fill="#9CD2E7"/>
<rect x="255.4" y="1013.3" width="23.4" height="52.6" fill="#B8DEEC"/>
<rect x="278.8" y="1013.3" width="23.4" height="52.6" fill="#B8DEEC"/>
<rect x="302.2" y="1013.3" width="23.4" height="52.6" fill="#B8DEEC"/>
<rect x="325.6" y="1013.3" width="23.4" height="52.6" fill="#C5E2EE"/>
<rect x="349" y="1013.3" width="23.4" height="52.6" fill="#DBE4E7"/>
<rect x="372.4" y="1013.3" width="23.4" height="52.6" fill="#C5E2EE"/>
<rect x="395.8" y="1013.3" width="23.4" height="52.6" fill="#B8DEEC"/>
<rect x="419.2" y="1013.3" width="23.4" height="52.6" fill="#B8DEEC"/>
<rect x="442.6" y="1013.3" width="23.4" height="52.6" fill="#C5E2EE"/>
<rect x="466" y="1013.3" width="23.4" height="52.6" fill="#F1DED6"/>
<rect x="489.4" y="1013.3" width="23.4" height="52.6" fill="#D2E6EF"/>
<rect x="512.8" y="1013.3" width="23.4" height="52.6" fill="#DBE4E7"/>
<rect x="536.2" y="1013.3" width="23.4" height="52.6" fill="#D2E6EF"/>
<rect x="559.6" y="1013.3" width="23.4" height="52.6" fill="#C5E2EE"/>
<rect x="583" y="1013.3" width="23.4" height="52.6" fill="#C5E2EE"/>
<rect x="606.4" y="1013.3" width="23.4" height="52.6" fill="#8ACBE4"/>
<rect x="629.8" y="1013.3" width="23.4" height="52.6" fill="#DBE4E7"/>
<rect x="653.2" y="1013.3" width="23.4" height="52.6" fill="#D2E6EF"/>
<rect x="676.6" y="1013.3" width="23.4" height="52.6" fill="#B8DEEC"/>
<rect x="700" y="1013.3" width="23.4" height="52.6" fill="#C5E2EE"/>
<rect x="723.4" y="1013.3" width="23.4" height="52.6" fill="#E4E1DF"/>
<rect x="746.8" y="1013.3" width="23.4" height="52.6" fill="#DBE4E7"/>
<rect x="770.2" y="1013.3" width="23.4" height="52.6" fill="#FEDCCD"/>
<rect x="793.6" y="1013.3" width="23.4" height="52.6" fill="#D2E6EF"/>
<rect x="817" y="1013.3" width="23.4" height="52.6" fill="#C5E2EE"/>
<rect x="840.3" y="1013.3" width="23.4" height="52.6" fill="#DBE4E7"/>
<rect x="863.7" y="1013.3" width="23.4" height="52.6" fill="#C5E2EE"/>
<rect x="887.1" y="1013.3" width="23.4" height="52.6" fill="#DBE4E7"/>
<rect x="910.5" y="1013.3" width="23.4" height="52.6" fill="#DBE4E7"/>
<rect x="933.9" y="1013.3" width="23.4" height="52.6" fill="#D2E6EF"/>
<rect x="957.3" y="1013.3" width="23.4" height="52.6" fill="#DBE4E7"/>
<rect x="980.7" y="1013.3" width="23.4" height="52.6" fill="#DBE4E7"/>
<rect x="1004.1" y="1013.3" width="23.4" height="52.6" fill="#DBE4E7"/>
<rect x="1027.5" y="1013.3" width="23.4" height="52.6" fill="#E4E1DF"/>
<rect x="1050.9" y="1013.3" width="23.4" height="52.6" fill="#DBE4E7"/>
<rect x="1074.3" y="1013.3" width="23.4" height="52.6" fill="#DBE4E7"/>
<rect x="1097.7" y="1013.3" width="23.4" height="52.6" fill="#FEDCCD"/>
<rect x="1121.1" y="1013.3" width="23.4" height="52.6" fill="#E4E1DF"/>
<rect x="1144.5" y="1013.3" width="23.4" height="52.6" fill="#FFA886"/>
<rect x="1167.9" y="1013.3" width="23.4" height="52.6" fill="#E4E1DF"/>
<rect x="1191.3" y="1013.3" width="23.4" height="52.6" fill="#FED3BF"/>
<rect x="1214.7" y="1013.3" width="23.4" height="52.6" fill="#FED3BF"/>
<rect x="1238.1" y="1013.3" width="23.4" height="52.6" fill="#F1DED6"/>
<rect x="1261.5" y="1013.3" width="23.4" height="52.6" fill="#FEDCCD"/>
<rect x="1284.9" y="1013.3" width="23.4" height="52.6" fill="#FEDCCD"/>
<rect x="1308.3" y="1013.3" width="23.4" height="52.6" fill="#FFB495"/>
<rect x="1331.7" y="1013.3" width="23.4" height="52.6" fill="#DBE4E7"/>
<rect x="1355.1" y="1013.3" width="23.4" height="52.6" fill="#FFA886"/>
<rect x="1378.5" y="1013.3" width="23.4" height="52.6" fill="#FED3BF"/>
<rect x="1401.8" y="1013.3" width="23.4" height="52.6" fill="#FEDCCD"/>
<rect x="1425.2" y="1013.3" width="23.4" height="52.6" fill="#FEDCCD"/>
<rect x="1448.6" y="1013.3" width="23.4" height="52.6" fill="#F1DED6"/>
<rect x="1472" y="1013.3" width="23.4" height="52.6" fill="#FFCAB1"/>
<rect x="1495.4" y="1013.3" width="23.4" height="52.6" fill="#DBE4E7"/>
<rect x="1518.8" y="1013.3" width="23.4" height="52.6" fill="#FED3BF"/>
<rect x="1542.2" y="1013.3" width="23.4" height="52.6" fill="#FFBFA3"/>
<rect x="1565.6" y="1013.3" width="23.4" height="52.6" fill="#FEDCCD"/>
<rect x="1589" y="1013.3" width="23.4" height="52.6" fill="#FED3BF"/>
<rect x="1612.4" y="1013.3" width="23.4" height="52.6" fill="#7C0020"/>
<rect x="1635.8" y="1013.3" width="23.4" height="52.6" fill="#FFCAB1"/>
<rect x="1659.2" y="1013.3" width="23.4" height="52.6" fill="#F1DED6"/>
<rect x="1682.6" y="1013.3" width="23.4" height="52.6" fill="#FEDCCD"/>
<rect x="232.1" y="1065.9" width="23.4" height="52.6" fill="#64BADC"/>
<rect x="255.4" y="1065.9" width="23.4" height="52.6" fill="#9CD2E7"/>
<rect x="278.8" y="1065.9" width="23.4" height="52.6" fill="#9CD2E7"/>
<rect x="302.2" y="1065.9" width="23.4" height="52.6" fill="#AAD8EA"/>
<rect x="325.6" y="1065.9" width="23.4" height="52.6" fill="#B8DEEC"/>
<rect x="349" y="1065.9" width="23.4" height="52.6" fill="#C5E2EE"/>
<rect x="372.4" y="1065.9" width="23.4" height="52.6" fill="#B8DEEC"/>
<rect x="395.8" y="1065.9" width="23.4" height="52.6" fill="#B8DEEC"/>
<rect x="419.2" y="1065.9" width="23.4" height="52.6" fill="#D2E6EF"/>
<rect x="442.6" y="1065.9" width="23.4" height="52.6" fill="#AAD8EA"/>
<rect x="466" y="1065.9" width="23.4" height="52.6" fill="#F1DED6"/>
<rect x="489.4" y="1065.9" width="23.4" height="52.6" fill="#C5E2EE"/>
<rect x="512.8" y="1065.9" width="23.4" height="52.6" fill="#E4E1DF"/>
<rect x="536.2" y="1065.9" width="23.4" height="52.6" fill="#D2E6EF"/>
<rect x="559.6" y="1065.9" width="23.4" height="52.6" fill="#FED3BF"/>
<rect x="583" y="1065.9" width="23.4" height="52.6" fill="#DBE4E7"/>
<rect x="606.4" y="1065.9" width="23.4" height="52.6" fill="#8ACBE4"/>
<rect x="629.8" y="1065.9" width="23.4" height="52.6" fill="#FED3BF"/>
<rect x="653.2" y="1065.9" width="23.4" height="52.6" fill="#DBE4E7"/>
<rect x="676.6" y="1065.9" width="23.4" height="52.6" fill="#DBE4E7"/>
<rect x="700" y="1065.9" width="23.4" height="52.6" fill="#D2E6EF"/>
<rect x="723.4" y="1065.9" width="23.4" height="52.6" fill="#E4E1DF"/>
<rect x="746.8" y="1065.9" width="23.4" height="52.6" fill="#D2E6EF"/>
<rect x="770.2" y="1065.9" width="23.4" height="52.6" fill="#FEDCCD"/>
<rect x="793.6" y="1065.9" width="23.4" height="52.6" fill="#C5E2EE"/>
<rect x="817" y="1065.9" width="23.4" height="52.6" fill="#B8DEEC"/>
<rect x="840.3" y="1065.9" width="23.4" height="52.6" fill="#C5E2EE"/>
<rect x="863.7" y="1065.9" width="23.4" height="52.6" fill="#B8DEEC"/>
<rect x="887.1" y="1065.9" width="23.4" height="52.6" fill="#B8DEEC"/>
<rect x="910.5" y="1065.9" width="23.4" height="52.6" fill="#DBE4E7"/>
<rect x="933.9" y="1065.9" width="23.4" height="52.6" fill="#B8DEEC"/>
<rect x="957.3" y="1065.9" width="23.4" height="52.6" fill="#DBE4E7"/>
<rect x="980.7" y="1065.9" width="23.4" height="52.6" fill="#C5E2EE"/>
<rect x="1004.1" y="1065.9" width="23.4" height="52.6" fill="#D2E6EF"/>
<rect x="1027.5" y="1065.9" width="23.4" height="52.6" fill="#E4E1DF"/>
<rect x="1050.9" y="1065.9" width="23.4" height="52.6" fill="#DBE4E7"/>
<rect x="1074.3" y="1065.9" width="23.4" height="52.6" fill="#E4E1DF"/>
<rect x="1097.7" y="1065.9" width="23.4" height="52.6" fill="#FEDCCD"/>
<rect x="1121.1" y="1065.9" width="23.4" height="52.6" fill="#E4E1DF"/>
<rect x="1144.5" y="1065.9" width="23.4" height="52.6" fill="#FFB495"/>
<rect x="1167.9" y="1065.9" width="23.4" height="52.6" fill="#FFBFA3"/>
<rect x="1191.3" y="1065.9" width="23.4" height="52.6" fill="#FFCAB1"/>
<rect x="1214.7" y="1065.9" width="23.4" height="52.6" fill="#FED3BF"/>
<rect x="1238.1" y="1065.9" width="23.4" height="52.6" fill="#FEDCCD"/>
<rect x="1261.5" y="1065.9" width="23.4" height="52.6" fill="#FED3BF"/>
<rect x="1284.9" y="1065.9" width="23.4" height="52.6" fill="#FED3BF"/>
<rect x="1308.3" y="1065.9" width="23.4" height="52.6" fill="#FFA886"/>
<rect x="1331.7" y="1065.9" width="23.4" height="52.6" fill="#D2E6EF"/>
<rect x="1355.1" y="1065.9" width="23.4" height="52.6" fill="#FED3BF"/>
<rect x="1378.5" y="1065.9" width="23.4" height="52.6" fill="#FEDCCD"/>
<rect x="1401.8" y="1065.9" width="23.4" height="52.6" fill="#FEDCCD"/>
<rect x="1425.2" y="1065.9" width="23.4" height="52.6" fill="#F1DED6"/>
<rect x="1448.6" y="1065.9" width="23.4" height="52.6" fill="#F1DED6"/>
<rect x="1472" y="1065.9" width="23.4" height="52.6" fill="#FEDCCD"/>
<rect x="1495.4" y="1065.9" width="23.4" height="52.6" fill="#C5E2EE"/>
<rect x="1518.8" y="1065.9" width="23.4" height="52.6" fill="#FFB495"/>
<rect x="1542.2" y="1065.9" width="23.4" height="52.6" fill="#FFCAB1"/>
<rect x="1565.6" y="1065.9" width="23.4" height="52.6" fill="#FED3BF"/>
<rect x="1589" y="1065.9" width="23.4" height="52.6" fill="#FFBFA3"/>
<rect x="1612.4" y="1065.9" width="23.4" height="52.6" fill="#B50021"/>
<rect x="1635.8" y="1065.9" width="23.4" height="52.6" fill="#FFCAB1"/>
<rect x="1659.2" y="1065.9" width="23.4" height="52.6" fill="#FED3BF"/>
<rect x="1682.6" y="1065.9" width="23.4" height="52.6" fill="#F1DED6"/>
<rect x="232.1" y="1118.5" width="23.4" height="52.6" fill="#9CD2E7"/>
<rect x="255.4" y="1118.5" width="23.4" height="52.6" fill="#C5E2EE"/>
<rect x="278.8" y="1118.5" width="23.4" height="52.6" fill="#9CD2E7"/>
<rect x="302.2" y="1118.5" width="23.4" height="52.6" fill="#9CD2E7"/>
<rect x="325.6" y="1118.5" width="23.4" height="52.6" fill="#E4E1DF"/>
<rect x="349" y="1118.5" width="23.4" height="52.6" fill="#E4E1DF"/>
<rect x="372.4" y="1118.5" width="23.4" height="52.6" fill="#C5E2EE"/>
<rect x="395.8" y="1118.5" width="23.4" height="52.6" fill="#C5E2EE"/>
<rect x="419.2" y="1118.5" width="23.4" height="52.6" fill="#B8DEEC"/>
<rect x="442.6" y="1118.5" width="23.4" height="52.6" fill="#AAD8EA"/>
<rect x="466" y="1118.5" width="23.4" height="52.6" fill="#AAD8EA"/>
<rect x="489.4" y="1118.5" width="23.4" height="52.6" fill="#9CD2E7"/>
<rect x="512.8" y="1118.5" width="23.4" height="52.6" fill="#C5E2EE"/>
<rect x="536.2" y="1118.5" width="23.4" height="52.6" fill="#E4E1DF"/>
<rect x="559.6" y="1118.5" width="23.4" height="52.6" fill="#DBE4E7"/>
<rect x="583" y="1118.5" width="23.4" height="52.6" fill="#D2E6EF"/>
<rect x="606.4" y="1118.5" width="23.4" height="52.6" fill="#AAD8EA"/>
<rect x="629.8" y="1118.5" width="23.4" height="52.6" fill="#F1DED6"/>
<rect x="653.2" y="1118.5" width="23.4" height="52.6" fill="#E4E1DF"/>
<rect x="676.6" y="1118.5" width="23.4" height="52.6" fill="#F1DED6"/>
<rect x="700" y="1118.5" width="23.4" height="52.6" fill="#B8DEEC"/>
<rect x="723.4" y="1118.5" width="23.4" height="52.6" fill="#FD8C6D"/>
<rect x="746.8" y="1118.5" width="23.4" height="52.6" fill="#FED3BF"/>
<rect x="770.2" y="1118.5" width="23.4" height="52.6" fill="#FEDCCD"/>
<rect x="793.6" y="1118.5" width="23.4" height="52.6" fill="#AAD8EA"/>
<rect x="817" y="1118.5" width="23.4" height="52.6" fill="#DBE4E7"/>
<rect x="840.3" y="1118.5" width="23.4" height="52.6" fill="#C5E2EE"/>
<rect x="863.7" y="1118.5" width="23.4" height="52.6" fill="#DBE4E7"/>
<rect x="887.1" y="1118.5" width="23.4" height="52.6" fill="#F1DED6"/>
<rect x="910.5" y="1118.5" width="23.4" height="52.6" fill="#DBE4E7"/>
<rect x="933.9" y="1118.5" width="23.4" height="52.6" fill="#9CD2E7"/>
<rect x="957.3" y="1118.5" width="23.4" height="52.6" fill="#E4E1DF"/>
<rect x="980.7" y="1118.5" width="23.4" height="52.6" fill="#F1DED6"/>
<rect x="1004.1" y="1118.5" width="23.4" height="52.6" fill="#79C4E1"/>
<rect x="1027.5" y="1118.5" width="23.4" height="52.6" fill="#9CD2E7"/>
<rect x="1050.9" y="1118.5" width="23.4" height="52.6" fill="#D2E6EF"/>
<rect x="1074.3" y="1118.5" width="23.4" height="52.6" fill="#FFBFA3"/>
<rect x="1097.7" y="1118.5" width="23.4" height="52.6" fill="#F1DED6"/>
<rect x="1121.1" y="1118.5" width="23.4" height="52.6" fill="#C5E2EE"/>
<rect x="1144.5" y="1118.5" width="23.4" height="52.6" fill="#FFA886"/>
<rect x="1167.9" y="1118.5" width="23.4" height="52.6" fill="#F1DED6"/>
<rect x="1191.3" y="1118.5" width="23.4" height="52.6" fill="#FEDCCD"/>
<rect x="1214.7" y="1118.5" width="23.4" height="52.6" fill="#FFBFA3"/>
<rect x="1238.1" y="1118.5" width="23.4" height="52.6" fill="#FFCAB1"/>
<rect x="1261.5" y="1118.5" width="23.4" height="52.6" fill="#C5E2EE"/>
<rect x="1284.9" y="1118.5" width="23.4" height="52.6" fill="#FED3BF"/>
<rect x="1308.3" y="1118.5" width="23.4" height="52.6" fill="#FEDCCD"/>
<rect x="1331.7" y="1118.5" width="23.4" height="52.6" fill="#B8DEEC"/>
<rect x="1355.1" y="1118.5" width="23.4" height="52.6" fill="#E4E1DF"/>
<rect x="1378.5" y="1118.5" width="23.4" height="52.6" fill="#F1DED6"/>
<rect x="1401.8" y="1118.5" width="23.4" height="52.6" fill="#FFCAB1"/>
<rect x="1425.2" y="1118.5" width="23.4" height="52.6" fill="#C5E2EE"/>
<rect x="1448.6" y="1118.5" width="23.4" height="52.6" fill="#FFCAB1"/>
<rect x="1472" y="1118.5" width="23.4" height="52.6" fill="#FFB495"/>
<rect x="1495.4" y="1118.5" width="23.4" height="52.6" fill="#FED3BF"/>
<rect x="1518.8" y="1118.5" width="23.4" height="52.6" fill="#E23C3A"/>
<rect x="1542.2" y="1118.5" width="23.4" height="52.6" fill="#FFB495"/>
<rect x="1565.6" y="1118.5" width="23.4" height="52.6" fill="#FEDCCD"/>
<rect x="1589" y="1118.5" width="23.4" height="52.6" fill="#F1DED6"/>
<rect x="1612.4" y="1118.5" width="23.4" height="52.6" fill="#FFBFA3"/>
<rect x="1635.8" y="1118.5" width="23.4" height="52.6" fill="#F1DED6"/>
<rect x="1659.2" y="1118.5" width="23.4" height="52.6" fill="#FFB495"/>
<rect x="1682.6" y="1118.5" width="23.4" height="52.6" fill="#FFB495"/>
<rect x="232.1" y="1171.1" width="23.4" height="52.6" fill="#64BADC"/>
<rect x="255.4" y="1171.1" width="23.4" height="52.6" fill="#B8DEEC"/>
<rect x="278.8" y="1171.1" width="23.4" height="52.6" fill="#AAD8EA"/>
<rect x="302.2" y="1171.1" width="23.4" height="52.6" fill="#C5E2EE"/>
<rect x="325.6" y="1171.1" width="23.4" height="52.6" fill="#D2E6EF"/>
<rect x="349" y="1171.1" width="23.4" height="52.6" fill="#B8DEEC"/>
<rect x="372.4" y="1171.1" width="23.4" height="52.6" fill="#8ACBE4"/>
<rect x="395.8" y="1171.1" width="23.4" height="52.6" fill="#AAD8EA"/>
<rect x="419.2" y="1171.1" width="23.4" height="52.6" fill="#9CD2E7"/>
<rect x="442.6" y="1171.1" width="23.4" height="52.6" fill="#C5E2EE"/>
<rect x="466" y="1171.1" width="23.4" height="52.6" fill="#E4E1DF"/>
<rect x="489.4" y="1171.1" width="23.4" height="52.6" fill="#D2E6EF"/>
<rect x="512.8" y="1171.1" width="23.4" height="52.6" fill="#DBE4E7"/>
<rect x="536.2" y="1171.1" width="23.4" height="52.6" fill="#B8DEEC"/>
<rect x="559.6" y="1171.1" width="23.4" height="52.6" fill="#DBE4E7"/>
<rect x="583" y="1171.1" width="23.4" height="52.6" fill="#FEDCCD"/>
<rect x="606.4" y="1171.1" width="23.4" height="52.6" fill="#B8DEEC"/>
<rect x="629.8" y="1171.1" width="23.4" height="52.6" fill="#FED3BF"/>
<rect x="653.2" y="1171.1" width="23.4" height="52.6" fill="#FFCAB1"/>
<rect x="676.6" y="1171.1" width="23.4" height="52.6" fill="#DBE4E7"/>
<rect x="700" y="1171.1" width="23.4" height="52.6" fill="#DBE4E7"/>
<rect x="723.4" y="1171.1" width="23.4" height="52.6" fill="#F1DED6"/>
<rect x="746.8" y="1171.1" width="23.4" height="52.6" fill="#F1DED6"/>
<rect x="770.2" y="1171.1" width="23.4" height="52.6" fill="#D2E6EF"/>
<rect x="793.6" y="1171.1" width="23.4" height="52.6" fill="#DBE4E7"/>
<rect x="817" y="1171.1" width="23.4" height="52.6" fill="#C5E2EE"/>
<rect x="840.3" y="1171.1" width="23.4" height="52.6" fill="#9CD2E7"/>
<rect x="863.7" y="1171.1" width="23.4" height="52.6" fill="#D2E6EF"/>
<rect x="887.1" y="1171.1" width="23.4" height="52.6" fill="#9CD2E7"/>
<rect x="910.5" y="1171.1" width="23.4" height="52.6" fill="#D2E6EF"/>
<rect x="933.9" y="1171.1" width="23.4" height="52.6" fill="#B8DEEC"/>
<rect x="957.3" y="1171.1" width="23.4" height="52.6" fill="#E4E1DF"/>
<rect x="980.7" y="1171.1" width="23.4" height="52.6" fill="#C5E2EE"/>
<rect x="1004.1" y="1171.1" width="23.4" height="52.6" fill="#8ACBE4"/>
<rect x="1027.5" y="1171.1" width="23.4" height="52.6" fill="#D2E6EF"/>
<rect x="1050.9" y="1171.1" width="23.4" height="52.6" fill="#C5E2EE"/>
<rect x="1074.3" y="1171.1" width="23.4" height="52.6" fill="#F1DED6"/>
<rect x="1097.7" y="1171.1" width="23.4" height="52.6" fill="#FEDCCD"/>
<rect x="1121.1" y="1171.1" width="23.4" height="52.6" fill="#F1DED6"/>
<rect x="1144.5" y="1171.1" width="23.4" height="52.6" fill="#FB7E62"/>
<rect x="1167.9" y="1171.1" width="23.4" height="52.6" fill="#F1DED6"/>
<rect x="1191.3" y="1171.1" width="23.4" height="52.6" fill="#FFCAB1"/>
<rect x="1214.7" y="1171.1" width="23.4" height="52.6" fill="#FED3BF"/>
<rect x="1238.1" y="1171.1" width="23.4" height="52.6" fill="#FEDCCD"/>
<rect x="1261.5" y="1171.1" width="23.4" height="52.6" fill="#C5E2EE"/>
<rect x="1284.9" y="1171.1" width="23.4" height="52.6" fill="#FEDCCD"/>
<rect x="1308.3" y="1171.1" width="23.4" height="52.6" fill="#E4E1DF"/>
<rect x="1331.7" y="1171.1" width="23.4" height="52.6" fill="#F1DED6"/>
<rect x="1355.1" y="1171.1" width="23.4" height="52.6" fill="#FFA886"/>
<rect x="1378.5" y="1171.1" width="23.4" height="52.6" fill="#FEDCCD"/>
<rect x="1401.8" y="1171.1" width="23.4" height="52.6" fill="#FED3BF"/>
<rect x="1425.2" y="1171.1" width="23.4" height="52.6" fill="#FFB495"/>
<rect x="1448.6" y="1171.1" width="23.4" height="52.6" fill="#FEDCCD"/>
<rect x="1472" y="1171.1" width="23.4" height="52.6" fill="#FFA886"/>
<rect x="1495.4" y="1171.1" width="23.4" height="52.6" fill="#FED3BF"/>
<rect x="1518.8" y="1171.1" width="23.4" height="52.6" fill="#FFBFA3"/>
<rect x="1542.2" y="1171.1" width="23.4" height="52.6" fill="#FFBFA3"/>
<rect x="1565.6" y="1171.1" width="23.4" height="52.6" fill="#F05A47"/>
<rect x="1589" y="1171.1" width="23.4" height="52.6" fill="#FFCAB1"/>
<rect x="1612.4" y="1171.1" width="23.4" height="52.6" fill="#FFCAB1"/>
<rect x="1635.8" y="1171.1" width="23.4" height="52.6" fill="#FFA886"/>
<rect x="1659.2" y="1171.1" width="23.4" height="52.6" fill="#E4E1DF"/>
<rect x="1682.6" y="1171.1" width="23.4" height="52.6" fill="#F1DED6"/>
<rect x="232.1" y="1223.7" width="23.4" height="52.6" fill="#0C9CCC"/>
<rect x="255.4" y="1223.7" width="23.4" height="52.6" fill="#9CD2E7"/>
<rect x="278.8" y="1223.7" width="23.4" height="52.6" fill="#9CD2E7"/>
<rect x="302.2" y="1223.7" width="23.4" height="52.6" fill="#C5E2EE"/>
<rect x="325.6" y="1223.7" width="23.4" height="52.6" fill="#79C4E1"/>
<rect x="349" y="1223.7" width="23.4" height="52.6" fill="#B8DEEC"/>
<rect x="372.4" y="1223.7" width="23.4" height="52.6" fill="#B8DEEC"/>
<rect x="395.8" y="1223.7" width="23.4" height="52.6" fill="#D2E6EF"/>
<rect x="419.2" y="1223.7" width="23.4" height="52.6" fill="#AAD8EA"/>
<rect x="442.6" y="1223.7" width="23.4" height="52.6" fill="#E4E1DF"/>
<rect x="466" y="1223.7" width="23.4" height="52.6" fill="#79C4E1"/>
<rect x="489.4" y="1223.7" width="23.4" height="52.6" fill="#79C4E1"/>
<rect x="512.8" y="1223.7" width="23.4" height="52.6" fill="#64BADC"/>
<rect x="536.2" y="1223.7" width="23.4" height="52.6" fill="#F1DED6"/>
<rect x="559.6" y="1223.7" width="23.4" height="52.6" fill="#C5E2EE"/>
<rect x="583" y="1223.7" width="23.4" height="52.6" fill="#F1DED6"/>
<rect x="606.4" y="1223.7" width="23.4" height="52.6" fill="#F1DED6"/>
<rect x="629.8" y="1223.7" width="23.4" height="52.6" fill="#E4E1DF"/>
<rect x="653.2" y="1223.7" width="23.4" height="52.6" fill="#D2E6EF"/>
<rect x="676.6" y="1223.7" width="23.4" height="52.6" fill="#C5E2EE"/>
<rect x="700" y="1223.7" width="23.4" height="52.6" fill="#AAD8EA"/>
<rect x="723.4" y="1223.7" width="23.4" height="52.6" fill="#D2E6EF"/>
<rect x="746.8" y="1223.7" width="23.4" height="52.6" fill="#DBE4E7"/>
<rect x="770.2" y="1223.7" width="23.4" height="52.6" fill="#FEDCCD"/>
<rect x="793.6" y="1223.7" width="23.4" height="52.6" fill="#AAD8EA"/>
<rect x="817" y="1223.7" width="23.4" height="52.6" fill="#F1DED6"/>
<rect x="840.3" y="1223.7" width="23.4" height="52.6" fill="#E4E1DF"/>
<rect x="863.7" y="1223.7" width="23.4" height="52.6" fill="#D2E6EF"/>
<rect x="887.1" y="1223.7" width="23.4" height="52.6" fill="#C5E2EE"/>
<rect x="910.5" y="1223.7" width="23.4" height="52.6" fill="#FEDCCD"/>
<rect x="933.9" y="1223.7" width="23.4" height="52.6" fill="#F1DED6"/>
<rect x="957.3" y="1223.7" width="23.4" height="52.6" fill="#F1DED6"/>
<rect x="980.7" y="1223.7" width="23.4" height="52.6" fill="#F1DED6"/>
<rect x="1004.1" y="1223.7" width="23.4" height="52.6" fill="#FEDCCD"/>
<rect x="1027.5" y="1223.7" width="23.4" height="52.6" fill="#F1DED6"/>
<rect x="1050.9" y="1223.7" width="23.4" height="52.6" fill="#FF9B78"/>
<rect x="1074.3" y="1223.7" width="23.4" height="52.6" fill="#C5E2EE"/>
<rect x="1097.7" y="1223.7" width="23.4" height="52.6" fill="#FED3BF"/>
<rect x="1121.1" y="1223.7" width="23.4" height="52.6" fill="#FFBFA3"/>
<rect x="1144.5" y="1223.7" width="23.4" height="52.6" fill="#FEDCCD"/>
<rect x="1167.9" y="1223.7" width="23.4" height="52.6" fill="#FEDCCD"/>
<rect x="1191.3" y="1223.7" width="23.4" height="52.6" fill="#FFA886"/>
<rect x="1214.7" y="1223.7" width="23.4" height="52.6" fill="#FEDCCD"/>
<rect x="1238.1" y="1223.7" width="23.4" height="52.6" fill="#F1DED6"/>
<rect x="1261.5" y="1223.7" width="23.4" height="52.6" fill="#FFCAB1"/>
<rect x="1284.9" y="1223.7" width="23.4" height="52.6" fill="#F1DED6"/>
<rect x="1308.3" y="1223.7" width="23.4" height="52.6" fill="#F1DED6"/>
<rect x="1331.7" y="1223.7" width="23.4" height="52.6" fill="#C5E2EE"/>
<rect x="1355.1" y="1223.7" width="23.4" height="52.6" fill="#DBE4E7"/>
<rect x="1378.5" y="1223.7" width="23.4" height="52.6" fill="#FFCAB1"/>
<rect x="1401.8" y="1223.7" width="23.4" height="52.6" fill="#FEDCCD"/>
<rect x="1425.2" y="1223.7" width="23.4" height="52.6" fill="#FED3BF"/>
<rect x="1448.6" y="1223.7" width="23.4" height="52.6" fill="#FFBFA3"/>
<rect x="1472" y="1223.7" width="23.4" height="52.6" fill="#FFBFA3"/>
<rect x="1495.4" y="1223.7" width="23.4" height="52.6" fill="#FFBFA3"/>
<rect x="1518.8" y="1223.7" width="23.4" height="52.6" fill="#FED3BF"/>
<rect x="1542.2" y="1223.7" width="23.4" height="52.6" fill="#FFBFA3"/>
<rect x="1565.6" y="1223.7" width="23.4" height="52.6" fill="#FFBFA3"/>
<rect x="1589" y="1223.7" width="23.4" height="52.6" fill="#FFB495"/>
<rect x="1612.4" y="1223.7" width="23.4" height="52.6" fill="#FFCAB1"/>
<rect x="1635.8" y="1223.7" width="23.4" height="52.6" fill="#F66C54"/>
<rect x="1659.2" y="1223.7" width="23.4" height="52.6" fill="#F1DED6"/>
<rect x="1682.6" y="1223.7" width="23.4" height="52.6" fill="#FEDCCD"/>
<rect x="232.1" y="1276.3" width="23.4" height="52.6" fill="#79C4E1"/>
<rect x="255.4" y="1276.3" width="23.4" height="52.6" fill="#AAD8EA"/>
<rect x="278.8" y="1276.3" width="23.4" height="52.6" fill="#9CD2E7"/>
<rect x="302.2" y="1276.3" width="23.4" height="52.6" fill="#B8DEEC"/>
<rect x="325.6" y="1276.3" width="23.4" height="52.6" fill="#DBE4E7"/>
<rect x="349" y="1276.3" width="23.4" height="52.6" fill="#B8DEEC"/>
<rect x="372.4" y="1276.3" width="23.4" height="52.6" fill="#B8DEEC"/>
<rect x="395.8" y="1276.3" width="23.4" height="52.6" fill="#E4E1DF"/>
<rect x="419.2" y="1276.3" width="23.4" height="52.6" fill="#AAD8EA"/>
<rect x="442.6" y="1276.3" width="23.4" height="52.6" fill="#B8DEEC"/>
<rect x="466" y="1276.3" width="23.4" height="52.6" fill="#79C4E1"/>
<rect x="489.4" y="1276.3" width="23.4" height="52.6" fill="#C5E2EE"/>
<rect x="512.8" y="1276.3" width="23.4" height="52.6" fill="#8ACBE4"/>
<rect x="536.2" y="1276.3" width="23.4" height="52.6" fill="#C5E2EE"/>
<rect x="559.6" y="1276.3" width="23.4" height="52.6" fill="#FFCAB1"/>
<rect x="583" y="1276.3" width="23.4" height="52.6" fill="#F1DED6"/>
<rect x="606.4" y="1276.3" width="23.4" height="52.6" fill="#C5E2EE"/>
<rect x="629.8" y="1276.3" width="23.4" height="52.6" fill="#FFCAB1"/>
<rect x="653.2" y="1276.3" width="23.4" height="52.6" fill="#AAD8EA"/>
<rect x="676.6" y="1276.3" width="23.4" height="52.6" fill="#E4E1DF"/>
<rect x="700" y="1276.3" width="23.4" height="52.6" fill="#D2E6EF"/>
<rect x="723.4" y="1276.3" width="23.4" height="52.6" fill="#9CD2E7"/>
<rect x="746.8" y="1276.3" width="23.4" height="52.6" fill="#B8DEEC"/>
<rect x="770.2" y="1276.3" width="23.4" height="52.6" fill="#DBE4E7"/>
<rect x="793.6" y="1276.3" width="23.4" height="52.6" fill="#B8DEEC"/>
<rect x="817" y="1276.3" width="23.4" height="52.6" fill="#B8DEEC"/>
<rect x="840.3" y="1276.3" width="23.4" height="52.6" fill="#79C4E1"/>
<rect x="863.7" y="1276.3" width="23.4" height="52.6" fill="#DBE4E7"/>
<rect x="887.1" y="1276.3" width="23.4" height="52.6" fill="#D2E6EF"/>
<rect x="910.5" y="1276.3" width="23.4" height="52.6" fill="#DBE4E7"/>
<rect x="933.9" y="1276.3" width="23.4" height="52.6" fill="#D2E6EF"/>
<rect x="957.3" y="1276.3" width="23.4" height="52.6" fill="#E4E1DF"/>
<rect x="980.7" y="1276.3" width="23.4" height="52.6" fill="#E4E1DF"/>
<rect x="1004.1" y="1276.3" width="23.4" height="52.6" fill="#F1DED6"/>
<rect x="1027.5" y="1276.3" width="23.4" height="52.6" fill="#DBE4E7"/>
<rect x="1050.9" y="1276.3" width="23.4" height="52.6" fill="#FFA886"/>
<rect x="1074.3" y="1276.3" width="23.4" height="52.6" fill="#F1DED6"/>
<rect x="1097.7" y="1276.3" width="23.4" height="52.6" fill="#FFA886"/>
<rect x="1121.1" y="1276.3" width="23.4" height="52.6" fill="#FFCAB1"/>
<rect x="1144.5" y="1276.3" width="23.4" height="52.6" fill="#FB7E62"/>
<rect x="1167.9" y="1276.3" width="23.4" height="52.6" fill="#FFBFA3"/>
<rect x="1191.3" y="1276.3" width="23.4" height="52.6" fill="#FFCAB1"/>
<rect x="1214.7" y="1276.3" width="23.4" height="52.6" fill="#F1DED6"/>
<rect x="1238.1" y="1276.3" width="23.4" height="52.6" fill="#FFCAB1"/>
<rect x="1261.5" y="1276.3" width="23.4" height="52.6" fill="#FEDCCD"/>
<rect x="1284.9" y="1276.3" width="23.4" height="52.6" fill="#FED3BF"/>
<rect x="1308.3" y="1276.3" width="23.4" height="52.6" fill="#F1DED6"/>
<rect x="1331.7" y="1276.3" width="23.4" height="52.6" fill="#D2E6EF"/>
<rect x="1355.1" y="1276.3" width="23.4" height="52.6" fill="#E4E1DF"/>
<rect x="1378.5" y="1276.3" width="23.4" height="52.6" fill="#FED3BF"/>
<rect x="1401.8" y="1276.3" width="23.4" height="52.6" fill="#FED3BF"/>
<rect x="1425.2" y="1276.3" width="23.4" height="52.6" fill="#FED3BF"/>
<rect x="1448.6" y="1276.3" width="23.4" height="52.6" fill="#FEDCCD"/>
<rect x="1472" y="1276.3" width="23.4" height="52.6" fill="#FED3BF"/>
<rect x="1495.4" y="1276.3" width="23.4" height="52.6" fill="#FFCAB1"/>
<rect x="1518.8" y="1276.3" width="23.4" height="52.6" fill="#FFA886"/>
<rect x="1542.2" y="1276.3" width="23.4" height="52.6" fill="#FFA886"/>
<rect x="1565.6" y="1276.3" width="23.4" height="52.6" fill="#FFB495"/>
<rect x="1589" y="1276.3" width="23.4" height="52.6" fill="#FFB495"/>
<rect x="1612.4" y="1276.3" width="23.4" height="52.6" fill="#FED3BF"/>
<rect x="1635.8" y="1276.3" width="23.4" height="52.6" fill="#FFA886"/>
<rect x="1659.2" y="1276.3" width="23.4" height="52.6" fill="#F1DED6"/>
<rect x="1682.6" y="1276.3" width="23.4" height="52.6" fill="#DBE4E7"/>
<rect x="232.1" y="1328.9" width="23.4" height="52.6" fill="#8ACBE4"/>
<rect x="255.4" y="1328.9" width="23.4" height="52.6" fill="#79C4E1"/>
<rect x="278.8" y="1328.9" width="23.4" height="52.6" fill="#79C4E1"/>
<rect x="302.2" y="1328.9" width="23.4" height="52.6" fill="#8ACBE4"/>
<rect x="325.6" y="1328.9" width="23.4" height="52.6" fill="#B8DEEC"/>
<rect x="349" y="1328.9" width="23.4" height="52.6" fill="#DBE4E7"/>
<rect x="372.4" y="1328.9" width="23.4" height="52.6" fill="#E4E1DF"/>
<rect x="395.8" y="1328.9" width="23.4" height="52.6" fill="#B8DEEC"/>
<rect x="419.2" y="1328.9" width="23.4" height="52.6" fill="#B8DEEC"/>
<rect x="442.6" y="1328.9" width="23.4" height="52.6" fill="#C5E2EE"/>
<rect x="466" y="1328.9" width="23.4" height="52.6" fill="#F1DED6"/>
<rect x="489.4" y="1328.9" width="23.4" height="52.6" fill="#AAD8EA"/>
<rect x="512.8" y="1328.9" width="23.4" height="52.6" fill="#B8DEEC"/>
<rect x="536.2" y="1328.9" width="23.4" height="52.6" fill="#FFB495"/>
<rect x="559.6" y="1328.9" width="23.4" height="52.6" fill="#FFBFA3"/>
<rect x="583" y="1328.9" width="23.4" height="52.6" fill="#FED3BF"/>
<rect x="606.4" y="1328.9" width="23.4" height="52.6" fill="#FFB495"/>
<rect x="629.8" y="1328.9" width="23.4" height="52.6" fill="#FEDCCD"/>
<rect x="653.2" y="1328.9" width="23.4" height="52.6" fill="#B8DEEC"/>
<rect x="676.6" y="1328.9" width="23.4" height="52.6" fill="#AAD8EA"/>
<rect x="700" y="1328.9" width="23.4" height="52.6" fill="#B8DEEC"/>
<rect x="723.4" y="1328.9" width="23.4" height="52.6" fill="#C5E2EE"/>
<rect x="746.8" y="1328.9" width="23.4" height="52.6" fill="#E4E1DF"/>
<rect x="770.2" y="1328.9" width="23.4" height="52.6" fill="#D2E6EF"/>
<rect x="793.6" y="1328.9" width="23.4" height="52.6" fill="#B8DEEC"/>
<rect x="817" y="1328.9" width="23.4" height="52.6" fill="#8ACBE4"/>
<rect x="840.3" y="1328.9" width="23.4" height="52.6" fill="#C5E2EE"/>
<rect x="863.7" y="1328.9" width="23.4" height="52.6" fill="#AAD8EA"/>
<rect x="887.1" y="1328.9" width="23.4" height="52.6" fill="#E4E1DF"/>
<rect x="910.5" y="1328.9" width="23.4" height="52.6" fill="#B8DEEC"/>
<rect x="933.9" y="1328.9" width="23.4" height="52.6" fill="#B8DEEC"/>
<rect x="957.3" y="1328.9" width="23.4" height="52.6" fill="#B8DEEC"/>
<rect x="980.7" y="1328.9" width="23.4" height="52.6" fill="#F1DED6"/>
<rect x="1004.1" y="1328.9" width="23.4" height="52.6" fill="#DBE4E7"/>
<rect x="1027.5" y="1328.9" width="23.4" height="52.6" fill="#C5E2EE"/>
<rect x="1050.9" y="1328.9" width="23.4" height="52.6" fill="#DBE4E7"/>
<rect x="1074.3" y="1328.9" width="23.4" height="52.6" fill="#FEDCCD"/>
<rect x="1097.7" y="1328.9" width="23.4" height="52.6" fill="#FEDCCD"/>
<rect x="1121.1" y="1328.9" width="23.4" height="52.6" fill="#E4E1DF"/>
<rect x="1144.5" y="1328.9" width="23.4" height="52.6" fill="#F66C54"/>
<rect x="1167.9" y="1328.9" width="23.4" height="52.6" fill="#FFBFA3"/>
<rect x="1191.3" y="1328.9" width="23.4" height="52.6" fill="#FED3BF"/>
<rect x="1214.7" y="1328.9" width="23.4" height="52.6" fill="#FFBFA3"/>
<rect x="1238.1" y="1328.9" width="23.4" height="52.6" fill="#F1DED6"/>
<rect x="1261.5" y="1328.9" width="23.4" height="52.6" fill="#FEDCCD"/>
<rect x="1284.9" y="1328.9" width="23.4" height="52.6" fill="#FEDCCD"/>
<rect x="1308.3" y="1328.9" width="23.4" height="52.6" fill="#E4E1DF"/>
<rect x="1331.7" y="1328.9" width="23.4" height="52.6" fill="#FED3BF"/>
<rect x="1355.1" y="1328.9" width="23.4" height="52.6" fill="#FFA886"/>
<rect x="1378.5" y="1328.9" width="23.4" height="52.6" fill="#F1DED6"/>
<rect x="1401.8" y="1328.9" width="23.4" height="52.6" fill="#FED3BF"/>
<rect x="1425.2" y="1328.9" width="23.4" height="52.6" fill="#F1DED6"/>
<rect x="1448.6" y="1328.9" width="23.4" height="52.6" fill="#FEDCCD"/>
<rect x="1472" y="1328.9" width="23.4" height="52.6" fill="#FFCAB1"/>
<rect x="1495.4" y="1328.9" width="23.4" height="52.6" fill="#FEDCCD"/>
<rect x="1518.8" y="1328.9" width="23.4" height="52.6" fill="#FFBFA3"/>
<rect x="1542.2" y="1328.9" width="23.4" height="52.6" fill="#FFA886"/>
<rect x="1565.6" y="1328.9" width="23.4" height="52.6" fill="#FFB495"/>
<rect x="1589" y="1328.9" width="23.4" height="52.6" fill="#FFBFA3"/>
<rect x="1612.4" y="1328.9" width="23.4" height="52.6" fill="#FFCAB1"/>
<rect x="1635.8" y="1328.9" width="23.4" height="52.6" fill="#FFCAB1"/>
<rect x="1659.2" y="1328.9" width="23.4" height="52.6" fill="#FEDCCD"/>
<rect x="1682.6" y="1328.9" width="23.4" height="52.6" fill="#FEDCCD"/>
<rect x="232.1" y="1381.5" width="23.4" height="52.6" fill="#79C4E1"/>
<rect x="255.4" y="1381.5" width="23.4" height="52.6" fill="#9CD2E7"/>
<rect x="278.8" y="1381.5" width="23.4" height="52.6" fill="#8ACBE4"/>
<rect x="302.2" y="1381.5" width="23.4" height="52.6" fill="#AAD8EA"/>
<rect x="325.6" y="1381.5" width="23.4" height="52.6" fill="#AAD8EA"/>
<rect x="349" y="1381.5" width="23.4" height="52.6" fill="#B8DEEC"/>
<rect x="372.4" y="1381.5" width="23.4" height="52.6" fill="#C5E2EE"/>
<rect x="395.8" y="1381.5" width="23.4" height="52.6" fill="#9CD2E7"/>
<rect x="419.2" y="1381.5" width="23.4" height="52.6" fill="#C5E2EE"/>
<rect x="442.6" y="1381.5" width="23.4" height="52.6" fill="#E4E1DF"/>
<rect x="466" y="1381.5" width="23.4" height="52.6" fill="#DBE4E7"/>
<rect x="489.4" y="1381.5" width="23.4" height="52.6" fill="#DBE4E7"/>
<rect x="512.8" y="1381.5" width="23.4" height="52.6" fill="#D2E6EF"/>
<rect x="536.2" y="1381.5" width="23.4" height="52.6" fill="#C5E2EE"/>
<rect x="559.6" y="1381.5" width="23.4" height="52.6" fill="#C5E2EE"/>
<rect x="583" y="1381.5" width="23.4" height="52.6" fill="#FEDCCD"/>
<rect x="606.4" y="1381.5" width="23.4" height="52.6" fill="#FEDCCD"/>
<rect x="629.8" y="1381.5" width="23.4" height="52.6" fill="#FFBFA3"/>
<rect x="653.2" y="1381.5" width="23.4" height="52.6" fill="#B8DEEC"/>
<rect x="676.6" y="1381.5" width="23.4" height="52.6" fill="#C5E2EE"/>
<rect x="700" y="1381.5" width="23.4" height="52.6" fill="#B8DEEC"/>
<rect x="723.4" y="1381.5" width="23.4" height="52.6" fill="#B8DEEC"/>
<rect x="746.8" y="1381.5" width="23.4" height="52.6" fill="#DBE4E7"/>
<rect x="770.2" y="1381.5" width="23.4" height="52.6" fill="#DBE4E7"/>
<rect x="793.6" y="1381.5" width="23.4" height="52.6" fill="#C5E2EE"/>
<rect x="817" y="1381.5" width="23.4" height="52.6" fill="#9CD2E7"/>
<rect x="840.3" y="1381.5" width="23.4" height="52.6" fill="#C5E2EE"/>
<rect x="863.7" y="1381.5" width="23.4" height="52.6" fill="#B8DEEC"/>
<rect x="887.1" y="1381.5" width="23.4" height="52.6" fill="#E4E1DF"/>
<rect x="910.5" y="1381.5" width="23.4" height="52.6" fill="#DBE4E7"/>
<rect x="933.9" y="1381.5" width="23.4" height="52.6" fill="#C5E2EE"/>
<rect x="957.3" y="1381.5" width="23.4" height="52.6" fill="#DBE4E7"/>
<rect x="980.7" y="1381.5" width="23.4" height="52.6" fill="#DBE4E7"/>
<rect x="1004.1" y="1381.5" width="23.4" height="52.6" fill="#DBE4E7"/>
<rect x="1027.5" y="1381.5" width="23.4" height="52.6" fill="#E4E1DF"/>
<rect x="1050.9" y="1381.5" width="23.4" height="52.6" fill="#FFCAB1"/>
<rect x="1074.3" y="1381.5" width="23.4" height="52.6" fill="#FEDCCD"/>
<rect x="1097.7" y="1381.5" width="23.4" height="52.6" fill="#FED3BF"/>
<rect x="1121.1" y="1381.5" width="23.4" height="52.6" fill="#FED3BF"/>
<rect x="1144.5" y="1381.5" width="23.4" height="52.6" fill="#FED3BF"/>
<rect x="1167.9" y="1381.5" width="23.4" height="52.6" fill="#B50021"/>
<rect x="1191.3" y="1381.5" width="23.4" height="52.6" fill="#FFBFA3"/>
<rect x="1214.7" y="1381.5" width="23.4" height="52.6" fill="#FFA886"/>
<rect x="1238.1" y="1381.5" width="23.4" height="52.6" fill="#FEDCCD"/>
<rect x="1261.5" y="1381.5" width="23.4" height="52.6" fill="#FEDCCD"/>
<rect x="1284.9" y="1381.5" width="23.4" height="52.6" fill="#FEDCCD"/>
<rect x="1308.3" y="1381.5" width="23.4" height="52.6" fill="#FEDCCD"/>
<rect x="1331.7" y="1381.5" width="23.4" height="52.6" fill="#D2E6EF"/>
<rect x="1355.1" y="1381.5" width="23.4" height="52.6" fill="#FFBFA3"/>
<rect x="1378.5" y="1381.5" width="23.4" height="52.6" fill="#FEDCCD"/>
<rect x="1401.8" y="1381.5" width="23.4" height="52.6" fill="#FEDCCD"/>
<rect x="1425.2" y="1381.5" width="23.4" height="52.6" fill="#F1DED6"/>
<rect x="1448.6" y="1381.5" width="23.4" height="52.6" fill="#F1DED6"/>
<rect x="1472" y="1381.5" width="23.4" height="52.6" fill="#F1DED6"/>
<rect x="1495.4" y="1381.5" width="23.4" height="52.6" fill="#F1DED6"/>
<rect x="1518.8" y="1381.5" width="23.4" height="52.6" fill="#FFBFA3"/>
<rect x="1542.2" y="1381.5" width="23.4" height="52.6" fill="#FFBFA3"/>
<rect x="1565.6" y="1381.5" width="23.4" height="52.6" fill="#FEDCCD"/>
<rect x="1589" y="1381.5" width="23.4" height="52.6" fill="#FED3BF"/>
<rect x="1612.4" y="1381.5" width="23.4" height="52.6" fill="#FFCAB1"/>
<rect x="1635.8" y="1381.5" width="23.4" height="52.6" fill="#FED3BF"/>
<rect x="1659.2" y="1381.5" width="23.4" height="52.6" fill="#F1DED6"/>
<rect x="1682.6" y="1381.5" width="23.4" height="52.6" fill="#FEDCCD"/>
</g>
<g class="t">
<text class="b" transform="translate(1716.2 263.7) scale(1.05 1)">class</text>
<text transform="translate(1716.2 313.3) scale(1.064 1)">Propionic Acid</text>
<text transform="translate(1716.2 365.9) scale(1.064 1)">Hexanoic Acid</text>
<text transform="translate(1716.2 416.8) scale(1.064 1)">b-Methyl-D-Glucosi</text>
<text transform="translate(1716.2 469.4) scale(1.064 1)">Maltose</text>
<text transform="translate(1716.2 522) scale(1.064 1)">D,L-a-Glycerol Pho</text>
<text transform="translate(1716.2 574.6) scale(1.064 1)">D-Cellobiose</text>
<text transform="translate(1716.2 627.2) scale(1.064 1)">Butyric Acid</text>
<text transform="translate(1716.2 679.8) scale(1.064 1)">Succinamic Acid</text>
<text transform="translate(1716.2 732.4) scale(1.064 1)">D-Galactose</text>
<text transform="translate(1716.2 785) scale(1.064 1)">D-Glucose-6-Phosph</text>
<text transform="translate(1716.2 837.6) scale(1.064 1)">D-Glucose-1-Phosph</text>
<text transform="translate(1716.2 890.2) scale(1.064 1)">D-Fructose-6-Phosp</text>
<text transform="translate(1716.2 942.8) scale(1.064 1)">Dextrin</text>
<text transform="translate(1716.2 995.4) scale(1.064 1)">Acetoacetic Acid</text>
<text transform="translate(1716.2 1048) scale(1.064 1)">Xylitol</text>
<text transform="translate(1716.2 1100.6) scale(1.064 1)">m-Inositol</text>
<text transform="translate(1716.2 1153.2) scale(1.064 1)">Mannan</text>
<text transform="translate(1716.2 1205.8) scale(1.064 1)">a-Cyclodextrin</text>
<text transform="translate(1716.2 1258.4) scale(1.064 1)">D,L-a-Hydroxy-Buty</text>
<text transform="translate(1716.2 1311) scale(1.064 1)">g-Amino Butyric Ac</text>
<text transform="translate(1716.2 1363.6) scale(1.064 1)">D-Fucose</text>
<text transform="translate(1716.2 1416.2) scale(1.064 1)">n-acetyl-neuramini</text>
<text transform="translate(234.3 1443.5) rotate(90) scale(1.064 1)">cms25831</text>
<text transform="translate(257.7 1443.5) rotate(90) scale(1.064 1)">X19.15861</text>
<text transform="translate(281.1 1443.5) rotate(90) scale(1.064 1)">X19.05617</text>
<text transform="translate(304.5 1443.5) rotate(90) scale(1.064 1)">X19.13317</text>
<text transform="translate(327.9 1443.5) rotate(90) scale(1.064 1)">cms25893</text>
<text transform="translate(351.3 1443.5) rotate(90) scale(1.064 1)">cms26026</text>
<text transform="translate(374.7 1443.5) rotate(90) scale(1.064 1)">cms26046</text>
<text transform="translate(398.1 1443.5) rotate(90) scale(1.064 1)">cms25553</text>
<text transform="translate(421.5 1443.5) rotate(90) scale(1.064 1)">cms25891</text>
<text transform="translate(444.9 1443.5) rotate(90) scale(1.064 1)">cms25960</text>
<text transform="translate(468.3 1443.5) rotate(90) scale(1.064 1)">cms25890</text>
<text transform="translate(491.7 1443.5) rotate(90) scale(1.064 1)">X19.04822</text>
<text transform="translate(515.1 1443.5) rotate(90) scale(1.064 1)">X19.04546</text>
<text transform="translate(538.5 1443.5) rotate(90) scale(1.064 1)">cms25819</text>
<text transform="translate(561.9 1443.5) rotate(90) scale(1.064 1)">cms26016</text>
<text transform="translate(585.3 1443.5) rotate(90) scale(1.064 1)">cms25544</text>
<text transform="translate(608.7 1443.5) rotate(90) scale(1.064 1)">cms25814</text>
<text transform="translate(632.1 1443.5) rotate(90) scale(1.064 1)">X19.03819</text>
<text transform="translate(655.5 1443.5) rotate(90) scale(1.064 1)">cms25872</text>
<text transform="translate(678.9 1443.5) rotate(90) scale(1.064 1)">X19.04972</text>
<text transform="translate(702.3 1443.5) rotate(90) scale(1.064 1)">X19.04664</text>
<text transform="translate(725.7 1443.5) rotate(90) scale(1.064 1)">cms25907</text>
<text transform="translate(749.1 1443.5) rotate(90) scale(1.064 1)">cms25908</text>
<text transform="translate(772.5 1443.5) rotate(90) scale(1.064 1)">cms25964</text>
<text transform="translate(795.9 1443.5) rotate(90) scale(1.064 1)">cms26025</text>
<text transform="translate(819.2 1443.5) rotate(90) scale(1.064 1)">cms24779</text>
<text transform="translate(842.6 1443.5) rotate(90) scale(1.064 1)">cms26177</text>
<text transform="translate(866 1443.5) rotate(90) scale(1.064 1)">cms25911</text>
<text transform="translate(889.4 1443.5) rotate(90) scale(1.064 1)">cms26003</text>
<text transform="translate(912.8 1443.5) rotate(90) scale(1.064 1)">cms25836</text>
<text transform="translate(936.2 1443.5) rotate(90) scale(1.064 1)">cms16929</text>
<text transform="translate(959.6 1443.5) rotate(90) scale(1.064 1)">X19.05674</text>
<text transform="translate(983 1443.5) rotate(90) scale(1.064 1)">cms26101</text>
<text transform="translate(1006.4 1443.5) rotate(90) scale(1.064 1)">cms25835</text>
<text transform="translate(1029.8 1443.5) rotate(90) scale(1.064 1)">cms26028</text>
<text transform="translate(1053.2 1443.5) rotate(90) scale(1.064 1)">cms26040</text>
<text transform="translate(1076.6 1443.5) rotate(90) scale(1.064 1)">cms25815</text>
<text transform="translate(1100 1443.5) rotate(90) scale(1.064 1)">cms25841</text>
<text transform="translate(1123.4 1443.5) rotate(90) scale(1.064 1)">cms25884</text>
<text transform="translate(1146.8 1443.5) rotate(90) scale(1.064 1)">cms25830</text>
<text transform="translate(1170.2 1443.5) rotate(90) scale(1.064 1)">cms25862</text>
<text transform="translate(1193.6 1443.5) rotate(90) scale(1.064 1)">cms25818</text>
<text transform="translate(1217 1443.5) rotate(90) scale(1.064 1)">cms25834</text>
<text transform="translate(1240.4 1443.5) rotate(90) scale(1.064 1)">cms25552</text>
<text transform="translate(1263.8 1443.5) rotate(90) scale(1.064 1)">cms25878</text>
<text transform="translate(1287.2 1443.5) rotate(90) scale(1.064 1)">cms14035A</text>
<text transform="translate(1310.6 1443.5) rotate(90) scale(1.064 1)">cms25874</text>
<text transform="translate(1334 1443.5) rotate(90) scale(1.064 1)">cms25889</text>
<text transform="translate(1357.4 1443.5) rotate(90) scale(1.064 1)">cms25894</text>
<text transform="translate(1380.8 1443.5) rotate(90) scale(1.064 1)">cms25555</text>
<text transform="translate(1404.1 1443.5) rotate(90) scale(1.064 1)">cms25963</text>
<text transform="translate(1427.5 1443.5) rotate(90) scale(1.064 1)">cms25892</text>
<text transform="translate(1450.9 1443.5) rotate(90) scale(1.064 1)">cms25868</text>
<text transform="translate(1474.3 1443.5) rotate(90) scale(1.064 1)">cms24775A</text>
<text transform="translate(1497.7 1443.5) rotate(90) scale(1.064 1)">cms25901</text>
<text transform="translate(1521.1 1443.5) rotate(90) scale(1.064 1)">cms25837</text>
<text transform="translate(1544.5 1443.5) rotate(90) scale(1.064 1)">cms25973</text>
<text transform="translate(1567.9 1443.5) rotate(90) scale(1.064 1)">cms25887</text>
<text transform="translate(1591.3 1443.5) rotate(90) scale(1.064 1)">cms25962</text>
<text transform="translate(1614.7 1443.5) rotate(90) scale(1.064 1)">cms25961</text>
<text transform="translate(1638.1 1443.5) rotate(90) scale(1.064 1)">cms25871</text>
<text transform="translate(1661.5 1443.5) rotate(90) scale(1.064 1)">cms25883</text>
<text transform="translate(1684.9 1443.5) rotate(90) scale(1.064 1)">cms25888</text>
</g>
<rect x="1995.5" y="237.5" width="35" height="503.2" fill="url(#grad)"/>
<g class="t">
<text transform="translate(2043.7 316.9) scale(1.064 1)">4</text>
<text transform="translate(2043.7 406.9) scale(1.064 1)">2</text>
<text transform="translate(2043.7 497.6) scale(1.064 1)">0</text>
<text transform="translate(2043.7 589.4) scale(1.064 1)">-2</text>
<text transform="translate(2043.7 680.4) scale(1.064 1)">-4</text>
<text class="b" transform="translate(2074.7 256.7) scale(1.05 1)">class</text>
<text transform="translate(2120.3 292.3) scale(1.064 1)">Control</text>
<text transform="translate(2120.3 329.7) scale(1.064 1)">High</text>
</g>
<g stroke="#999999" stroke-width="3.0">
<rect x="2076" y="265.5" width="36.2" height="37" fill="#C8F500"/>
<rect x="2076" y="302.4" width="36.2" height="37" fill="#00B53C"/>
</g>
<rect x="1712" y="364.9" width="280" height="3.5" fill="#FEFEFE"/>
<g stroke="#999999" stroke-width="3.0">
<rect x="232.1" y="1861.4" width="23.6" height="26.8" fill="#D8F800"/>
<rect x="255.7" y="1861.4" width="23.6" height="26.8" fill="#D8F800"/>
<rect x="279.2" y="1861.4" width="23.6" height="26.8" fill="#00B53C"/>
<rect x="302.8" y="1861.4" width="23.6" height="26.8" fill="#00B53C"/>
<rect x="326.4" y="1861.4" width="23.6" height="26.8" fill="#00B53C"/>
<rect x="349.9" y="1861.4" width="23.6" height="26.8" fill="#00B53C"/>
<rect x="373.5" y="1861.4" width="23.6" height="26.8" fill="#00B53C"/>
<rect x="397.1" y="1861.4" width="23.6" height="26.8" fill="#00B53C"/>
<rect x="420.6" y="1861.4" width="23.6" height="26.8" fill="#00B53C"/>
<rect x="444.2" y="1861.4" width="23.6" height="26.8" fill="#00B53C"/>
<rect x="467.8" y="1861.4" width="23.6" height="26.8" fill="#00B53C"/>
<rect x="491.3" y="1861.4" width="23.6" height="26.8" fill="#00B53C"/>
<rect x="514.9" y="1861.4" width="23.6" height="26.8" fill="#D8F800"/>
<rect x="538.5" y="1861.4" width="23.6" height="26.8" fill="#D8F800"/>
<rect x="562" y="1861.4" width="23.6" height="26.8" fill="#D8F800"/>
<rect x="585.6" y="1861.4" width="23.6" height="26.8" fill="#D8F800"/>
<rect x="609.2" y="1861.4" width="23.6" height="26.8" fill="#00B53C"/>
<rect x="632.7" y="1861.4" width="23.6" height="26.8" fill="#D8F800"/>
<rect x="656.3" y="1861.4" width="23.6" height="26.8" fill="#D8F800"/>
<rect x="679.9" y="1861.4" width="23.6" height="26.8" fill="#D8F800"/>
<rect x="703.4" y="1861.4" width="23.6" height="26.8" fill="#D8F800"/>
<rect x="727" y="1861.4" width="23.6" height="26.8" fill="#D8F800"/>
<rect x="750.6" y="1861.4" width="23.6" height="26.8" fill="#D8F800"/>
<rect x="774.1" y="1861.4" width="23.6" height="26.8" fill="#D8F800"/>
<rect x="797.7" y="1861.4" width="23.6" height="26.8" fill="#D8F800"/>
<rect x="821.3" y="1861.4" width="23.6" height="26.8" fill="#D8F800"/>
<rect x="844.8" y="1861.4" width="23.6" height="26.8" fill="#D8F800"/>
<rect x="868.4" y="1861.4" width="23.6" height="26.8" fill="#D8F800"/>
<rect x="892" y="1861.4" width="23.6" height="26.8" fill="#D8F800"/>
<rect x="915.5" y="1861.4" width="23.6" height="26.8" fill="#D8F800"/>
<rect x="939.1" y="1861.4" width="23.6" height="26.8" fill="#D8F800"/>
<rect x="962.7" y="1861.4" width="23.6" height="26.8" fill="#D8F800"/>
<rect x="986.2" y="1861.4" width="23.6" height="26.8" fill="#D8F800"/>
<rect x="1009.8" y="1861.4" width="23.6" height="26.8" fill="#D8F800"/>
<rect x="1033.4" y="1861.4" width="23.6" height="26.8" fill="#D8F800"/>
<rect x="1056.9" y="1861.4" width="23.6" height="26.8" fill="#D8F800"/>
<rect x="1080.5" y="1861.4" width="23.6" height="26.8" fill="#D8F800"/>
<rect x="1104.1" y="1861.4" width="23.6" height="26.8" fill="#D8F800"/>
<rect x="1127.6" y="1861.4" width="23.6" height="26.8" fill="#D8F800"/>
<rect x="1151.2" y="1861.4" width="23.6" height="26.8" fill="#00B53C"/>
<rect x="1174.8" y="1861.4" width="23.6" height="26.8" fill="#D8F800"/>
<rect x="1198.3" y="1861.4" width="23.6" height="26.8" fill="#D8F800"/>
<rect x="1221.9" y="1861.4" width="23.6" height="26.8" fill="#D8F800"/>
<rect x="1245.5" y="1861.4" width="23.6" height="26.8" fill="#D8F800"/>
<rect x="1269" y="1861.4" width="23.6" height="26.8" fill="#D8F800"/>
<rect x="1292.6" y="1861.4" width="23.6" height="26.8" fill="#D8F800"/>
<rect x="1316.2" y="1861.4" width="23.6" height="26.8" fill="#D8F800"/>
<rect x="1339.7" y="1861.4" width="23.6" height="26.8" fill="#D8F800"/>
<rect x="1363.3" y="1861.4" width="23.6" height="26.8" fill="#D8F800"/>
<rect x="1386.9" y="1861.4" width="23.6" height="26.8" fill="#D8F800"/>
<rect x="1410.4" y="1861.4" width="23.6" height="26.8" fill="#D8F800"/>
<rect x="1434" y="1861.4" width="23.6" height="26.8" fill="#D8F800"/>
<rect x="1457.6" y="1861.4" width="23.6" height="26.8" fill="#D8F800"/>
<rect x="1481.2" y="1861.4" width="23.6" height="26.8" fill="#D8F800"/>
<rect x="1504.7" y="1861.4" width="23.6" height="26.8" fill="#D8F800"/>
<rect x="1528.3" y="1861.4" width="23.6" height="26.8" fill="#D8F800"/>
<rect x="1551.9" y="1861.4" width="23.6" height="26.8" fill="#D8F800"/>
<rect x="1575.4" y="1861.4" width="23.6" height="26.8" fill="#D8F800"/>
<rect x="1599" y="1861.4" width="23.6" height="26.8" fill="#D8F800"/>
<rect x="1622.6" y="1861.4" width="23.6" height="26.8" fill="#D8F800"/>
<rect x="1646.1" y="1861.4" width="23.6" height="26.8" fill="#00B53C"/>
<rect x="1669.7" y="1861.4" width="23.6" height="26.8" fill="#D8F800"/>
<rect x="1693.3" y="1861.4" width="23.6" height="26.8" fill="#D8F800"/>
<rect x="232.1" y="1898.5" width="23.6" height="52.6" fill="#F66C54"/>
<rect x="255.7" y="1898.5" width="23.6" height="52.6" fill="#FFA886"/>
<rect x="279.2" y="1898.5" width="23.6" height="52.6" fill="#FFA886"/>
<rect x="302.8" y="1898.5" width="23.6" height="52.6" fill="#FD8C6D"/>
<rect x="326.4" y="1898.5" width="23.6" height="52.6" fill="#FB7E62"/>
<rect x="349.9" y="1898.5" width="23.6" height="52.6" fill="#FD8C6D"/>
<rect x="373.5" y="1898.5" width="23.6" height="52.6" fill="#FB7E62"/>
<rect x="397.1" y="1898.5" width="23.6" height="52.6" fill="#FFA886"/>
<rect x="420.6" y="1898.5" width="23.6" height="52.6" fill="#FFBFA3"/>
<rect x="444.2" y="1898.5" width="23.6" height="52.6" fill="#FF9B78"/>
<rect x="467.8" y="1898.5" width="23.6" height="52.6" fill="#FFCAB1"/>
<rect x="491.3" y="1898.5" width="23.6" height="52.6" fill="#F66C54"/>
<rect x="514.9" y="1898.5" width="23.6" height="52.6" fill="#64BADC"/>
<rect x="538.5" y="1898.5" width="23.6" height="52.6" fill="#FF9B78"/>
<rect x="562" y="1898.5" width="23.6" height="52.6" fill="#FFBFA3"/>
<rect x="585.6" y="1898.5" width="23.6" height="52.6" fill="#64BADC"/>
<rect x="609.2" y="1898.5" width="23.6" height="52.6" fill="#64BADC"/>
<rect x="632.7" y="1898.5" width="23.6" height="52.6" fill="#79C4E1"/>
<rect x="656.3" y="1898.5" width="23.6" height="52.6" fill="#C5E2EE"/>
<rect x="679.9" y="1898.5" width="23.6" height="52.6" fill="#9CD2E7"/>
<rect x="703.4" y="1898.5" width="23.6" height="52.6" fill="#79C4E1"/>
<rect x="727" y="1898.5" width="23.6" height="52.6" fill="#3EABD4"/>
<rect x="750.6" y="1898.5" width="23.6" height="52.6" fill="#C5E2EE"/>
<rect x="774.1" y="1898.5" width="23.6" height="52.6" fill="#64BADC"/>
<rect x="797.7" y="1898.5" width="23.6" height="52.6" fill="#3EABD4"/>
<rect x="821.3" y="1898.5" width="23.6" height="52.6" fill="#8ACBE4"/>
<rect x="844.8" y="1898.5" width="23.6" height="52.6" fill="#64BADC"/>
<rect x="868.4" y="1898.5" width="23.6" height="52.6" fill="#B8DEEC"/>
<rect x="892" y="1898.5" width="23.6" height="52.6" fill="#C5E2EE"/>
<rect x="915.5" y="1898.5" width="23.6" height="52.6" fill="#FED3BF"/>
<rect x="939.1" y="1898.5" width="23.6" height="52.6" fill="#FFCAB1"/>
<rect x="962.7" y="1898.5" width="23.6" height="52.6" fill="#DBE4E7"/>
<rect x="986.2" y="1898.5" width="23.6" height="52.6" fill="#64BADC"/>
<rect x="1009.8" y="1898.5" width="23.6" height="52.6" fill="#8ACBE4"/>
<rect x="1033.4" y="1898.5" width="23.6" height="52.6" fill="#8ACBE4"/>
<rect x="1056.9" y="1898.5" width="23.6" height="52.6" fill="#B8DEEC"/>
<rect x="1080.5" y="1898.5" width="23.6" height="52.6" fill="#DBE4E7"/>
<rect x="1104.1" y="1898.5" width="23.6" height="52.6" fill="#8ACBE4"/>
<rect x="1127.6" y="1898.5" width="23.6" height="52.6" fill="#F1DED6"/>
<rect x="1151.2" y="1898.5" width="23.6" height="52.6" fill="#F1DED6"/>
<rect x="1174.8" y="1898.5" width="23.6" height="52.6" fill="#C5E2EE"/>
<rect x="1198.3" y="1898.5" width="23.6" height="52.6" fill="#DBE4E7"/>
<rect x="1221.9" y="1898.5" width="23.6" height="52.6" fill="#B8DEEC"/>
<rect x="1245.5" y="1898.5" width="23.6" height="52.6" fill="#B8DEEC"/>
<rect x="1269" y="1898.5" width="23.6" height="52.6" fill="#FFB495"/>
<rect x="1292.6" y="1898.5" width="23.6" height="52.6" fill="#FED3BF"/>
<rect x="1316.2" y="1898.5" width="23.6" height="52.6" fill="#FFB495"/>
<rect x="1339.7" y="1898.5" width="23.6" height="52.6" fill="#F1DED6"/>
<rect x="1363.3" y="1898.5" width="23.6" height="52.6" fill="#AAD8EA"/>
<rect x="1386.9" y="1898.5" width="23.6" height="52.6" fill="#FED3BF"/>
<rect x="1410.4" y="1898.5" width="23.6" height="52.6" fill="#F1DED6"/>
<rect x="1434" y="1898.5" width="23.6" height="52.6" fill="#FEDCCD"/>
<rect x="1457.6" y="1898.5" width="23.6" height="52.6" fill="#E4E1DF"/>
<rect x="1481.2" y="1898.5" width="23.6" height="52.6" fill="#FEDCCD"/>
<rect x="1504.7" y="1898.5" width="23.6" height="52.6" fill="#F1DED6"/>
<rect x="1528.3" y="1898.5" width="23.6" height="52.6" fill="#B8DEEC"/>
<rect x="1551.9" y="1898.5" width="23.6" height="52.6" fill="#F1DED6"/>
<rect x="1575.4" y="1898.5" width="23.6" height="52.6" fill="#FEDCCD"/>
<rect x="1599" y="1898.5" width="23.6" height="52.6" fill="#F1DED6"/>
<rect x="1622.6" y="1898.5" width="23.6" height="52.6" fill="#8ACBE4"/>
<rect x="1646.1" y="1898.5" width="23.6" height="52.6" fill="#FED3BF"/>
<rect x="1669.7" y="1898.5" width="23.6" height="52.6" fill="#FEDCCD"/>
<rect x="1693.3" y="1898.5" width="23.6" height="52.6" fill="#F1DED6"/>
<rect x="232.1" y="1951.1" width="23.6" height="51.6" fill="#FF9B78"/>
<rect x="255.7" y="1951.1" width="23.6" height="51.6" fill="#FFA886"/>
<rect x="279.2" y="1951.1" width="23.6" height="51.6" fill="#FF9B78"/>
<rect x="302.8" y="1951.1" width="23.6" height="51.6" fill="#FB7E62"/>
<rect x="326.4" y="1951.1" width="23.6" height="51.6" fill="#E94B40"/>
<rect x="349.9" y="1951.1" width="23.6" height="51.6" fill="#FD8C6D"/>
<rect x="373.5" y="1951.1" width="23.6" height="51.6" fill="#FF9B78"/>
<rect x="397.1" y="1951.1" width="23.6" height="51.6" fill="#FFB495"/>
<rect x="420.6" y="1951.1" width="23.6" height="51.6" fill="#FFB495"/>
<rect x="444.2" y="1951.1" width="23.6" height="51.6" fill="#FFB495"/>
<rect x="467.8" y="1951.1" width="23.6" height="51.6" fill="#FF9B78"/>
<rect x="491.3" y="1951.1" width="23.6" height="51.6" fill="#FD8C6D"/>
<rect x="514.9" y="1951.1" width="23.6" height="51.6" fill="#F05A47"/>
<rect x="538.5" y="1951.1" width="23.6" height="51.6" fill="#64BADC"/>
<rect x="562" y="1951.1" width="23.6" height="51.6" fill="#D2E6EF"/>
<rect x="585.6" y="1951.1" width="23.6" height="51.6" fill="#8ACBE4"/>
<rect x="609.2" y="1951.1" width="23.6" height="51.6" fill="#8ACBE4"/>
<rect x="632.7" y="1951.1" width="23.6" height="51.6" fill="#8ACBE4"/>
<rect x="656.3" y="1951.1" width="23.6" height="51.6" fill="#9CD2E7"/>
<rect x="679.9" y="1951.1" width="23.6" height="51.6" fill="#64BADC"/>
<rect x="703.4" y="1951.1" width="23.6" height="51.6" fill="#64BADC"/>
<rect x="727" y="1951.1" width="23.6" height="51.6" fill="#64BADC"/>
<rect x="750.6" y="1951.1" width="23.6" height="51.6" fill="#79C4E1"/>
<rect x="774.1" y="1951.1" width="23.6" height="51.6" fill="#64BADC"/>
<rect x="797.7" y="1951.1" width="23.6" height="51.6" fill="#64BADC"/>
<rect x="821.3" y="1951.1" width="23.6" height="51.6" fill="#79C4E1"/>
<rect x="844.8" y="1951.1" width="23.6" height="51.6" fill="#64BADC"/>
<rect x="868.4" y="1951.1" width="23.6" height="51.6" fill="#D2E6EF"/>
<rect x="892" y="1951.1" width="23.6" height="51.6" fill="#79C4E1"/>
<rect x="915.5" y="1951.1" width="23.6" height="51.6" fill="#D2E6EF"/>
<rect x="939.1" y="1951.1" width="23.6" height="51.6" fill="#FED3BF"/>
<rect x="962.7" y="1951.1" width="23.6" height="51.6" fill="#79C4E1"/>
<rect x="986.2" y="1951.1" width="23.6" height="51.6" fill="#79C4E1"/>
<rect x="1009.8" y="1951.1" width="23.6" height="51.6" fill="#8ACBE4"/>
<rect x="1033.4" y="1951.1" width="23.6" height="51.6" fill="#B8DEEC"/>
<rect x="1056.9" y="1951.1" width="23.6" height="51.6" fill="#9CD2E7"/>
<rect x="1080.5" y="1951.1" width="23.6" height="51.6" fill="#D2E6EF"/>
<rect x="1104.1" y="1951.1" width="23.6" height="51.6" fill="#D2E6EF"/>
<rect x="1127.6" y="1951.1" width="23.6" height="51.6" fill="#C5E2EE"/>
<rect x="1151.2" y="1951.1" width="23.6" height="51.6" fill="#F1DED6"/>
<rect x="1174.8" y="1951.1" width="23.6" height="51.6" fill="#FEDCCD"/>
<rect x="1198.3" y="1951.1" width="23.6" height="51.6" fill="#C5E2EE"/>
<rect x="1221.9" y="1951.1" width="23.6" height="51.6" fill="#D2E6EF"/>
<rect x="1245.5" y="1951.1" width="23.6" height="51.6" fill="#D2E6EF"/>
<rect x="1269" y="1951.1" width="23.6" height="51.6" fill="#FFCAB1"/>
<rect x="1292.6" y="1951.1" width="23.6" height="51.6" fill="#FED3BF"/>
<rect x="1316.2" y="1951.1" width="23.6" height="51.6" fill="#FED3BF"/>
<rect x="1339.7" y="1951.1" width="23.6" height="51.6" fill="#FFBFA3"/>
<rect x="1363.3" y="1951.1" width="23.6" height="51.6" fill="#8ACBE4"/>
<rect x="1386.9" y="1951.1" width="23.6" height="51.6" fill="#FED3BF"/>
<rect x="1410.4" y="1951.1" width="23.6" height="51.6" fill="#FEDCCD"/>
<rect x="1434" y="1951.1" width="23.6" height="51.6" fill="#F1DED6"/>
<rect x="1457.6" y="1951.1" width="23.6" height="51.6" fill="#F1DED6"/>
<rect x="1481.2" y="1951.1" width="23.6" height="51.6" fill="#F1DED6"/>
<rect x="1504.7" y="1951.1" width="23.6" height="51.6" fill="#F1DED6"/>
<rect x="1528.3" y="1951.1" width="23.6" height="51.6" fill="#D2E6EF"/>
<rect x="1551.9" y="1951.1" width="23.6" height="51.6" fill="#FEDCCD"/>
<rect x="1575.4" y="1951.1" width="23.6" height="51.6" fill="#FEDCCD"/>
<rect x="1599" y="1951.1" width="23.6" height="51.6" fill="#FEDCCD"/>
<rect x="1622.6" y="1951.1" width="23.6" height="51.6" fill="#FEDCCD"/>
<rect x="1646.1" y="1951.1" width="23.6" height="51.6" fill="#F1DED6"/>
<rect x="1669.7" y="1951.1" width="23.6" height="51.6" fill="#F1DED6"/>
<rect x="1693.3" y="1951.1" width="23.6" height="51.6" fill="#FEDCCD"/>
<rect x="232.1" y="2002.7" width="23.6" height="52.6" fill="#FFA886"/>
<rect x="255.7" y="2002.7" width="23.6" height="52.6" fill="#FF9B78"/>
<rect x="279.2" y="2002.7" width="23.6" height="52.6" fill="#D41A2C"/>
<rect x="302.8" y="2002.7" width="23.6" height="52.6" fill="#FD8C6D"/>
<rect x="326.4" y="2002.7" width="23.6" height="52.6" fill="#F05A47"/>
<rect x="349.9" y="2002.7" width="23.6" height="52.6" fill="#FD8C6D"/>
<rect x="373.5" y="2002.7" width="23.6" height="52.6" fill="#FB7E62"/>
<rect x="397.1" y="2002.7" width="23.6" height="52.6" fill="#FD8C6D"/>
<rect x="420.6" y="2002.7" width="23.6" height="52.6" fill="#FF9B78"/>
<rect x="444.2" y="2002.7" width="23.6" height="52.6" fill="#FD8C6D"/>
<rect x="467.8" y="2002.7" width="23.6" height="52.6" fill="#FFA886"/>
<rect x="491.3" y="2002.7" width="23.6" height="52.6" fill="#FFA886"/>
<rect x="514.9" y="2002.7" width="23.6" height="52.6" fill="#64BADC"/>
<rect x="538.5" y="2002.7" width="23.6" height="52.6" fill="#79C4E1"/>
<rect x="562" y="2002.7" width="23.6" height="52.6" fill="#8ACBE4"/>
<rect x="585.6" y="2002.7" width="23.6" height="52.6" fill="#79C4E1"/>
<rect x="609.2" y="2002.7" width="23.6" height="52.6" fill="#8ACBE4"/>
<rect x="632.7" y="2002.7" width="23.6" height="52.6" fill="#64BADC"/>
<rect x="656.3" y="2002.7" width="23.6" height="52.6" fill="#79C4E1"/>
<rect x="679.9" y="2002.7" width="23.6" height="52.6" fill="#9CD2E7"/>
<rect x="703.4" y="2002.7" width="23.6" height="52.6" fill="#9CD2E7"/>
<rect x="727" y="2002.7" width="23.6" height="52.6" fill="#64BADC"/>
<rect x="750.6" y="2002.7" width="23.6" height="52.6" fill="#79C4E1"/>
<rect x="774.1" y="2002.7" width="23.6" height="52.6" fill="#64BADC"/>
<rect x="797.7" y="2002.7" width="23.6" height="52.6" fill="#9CD2E7"/>
<rect x="821.3" y="2002.7" width="23.6" height="52.6" fill="#79C4E1"/>
<rect x="844.8" y="2002.7" width="23.6" height="52.6" fill="#64BADC"/>
<rect x="868.4" y="2002.7" width="23.6" height="52.6" fill="#8ACBE4"/>
<rect x="892" y="2002.7" width="23.6" height="52.6" fill="#E4E1DF"/>
<rect x="915.5" y="2002.7" width="23.6" height="52.6" fill="#DBE4E7"/>
<rect x="939.1" y="2002.7" width="23.6" height="52.6" fill="#F1DED6"/>
<rect x="962.7" y="2002.7" width="23.6" height="52.6" fill="#FEDCCD"/>
<rect x="986.2" y="2002.7" width="23.6" height="52.6" fill="#D2E6EF"/>
<rect x="1009.8" y="2002.7" width="23.6" height="52.6" fill="#B8DEEC"/>
<rect x="1033.4" y="2002.7" width="23.6" height="52.6" fill="#D2E6EF"/>
<rect x="1056.9" y="2002.7" width="23.6" height="52.6" fill="#C5E2EE"/>
<rect x="1080.5" y="2002.7" width="23.6" height="52.6" fill="#FEDCCD"/>
<rect x="1104.1" y="2002.7" width="23.6" height="52.6" fill="#9CD2E7"/>
<rect x="1127.6" y="2002.7" width="23.6" height="52.6" fill="#C5E2EE"/>
<rect x="1151.2" y="2002.7" width="23.6" height="52.6" fill="#9CD2E7"/>
<rect x="1174.8" y="2002.7" width="23.6" height="52.6" fill="#C5E2EE"/>
<rect x="1198.3" y="2002.7" width="23.6" height="52.6" fill="#C5E2EE"/>
<rect x="1221.9" y="2002.7" width="23.6" height="52.6" fill="#B8DEEC"/>
<rect x="1245.5" y="2002.7" width="23.6" height="52.6" fill="#C5E2EE"/>
<rect x="1269" y="2002.7" width="23.6" height="52.6" fill="#E4E1DF"/>
<rect x="1292.6" y="2002.7" width="23.6" height="52.6" fill="#FFBFA3"/>
<rect x="1316.2" y="2002.7" width="23.6" height="52.6" fill="#FFBFA3"/>
<rect x="1339.7" y="2002.7" width="23.6" height="52.6" fill="#FFCAB1"/>
<rect x="1363.3" y="2002.7" width="23.6" height="52.6" fill="#C5E2EE"/>
<rect x="1386.9" y="2002.7" width="23.6" height="52.6" fill="#FED3BF"/>
<rect x="1410.4" y="2002.7" width="23.6" height="52.6" fill="#F1DED6"/>
<rect x="1434" y="2002.7" width="23.6" height="52.6" fill="#FEDCCD"/>
<rect x="1457.6" y="2002.7" width="23.6" height="52.6" fill="#F1DED6"/>
<rect x="1481.2" y="2002.7" width="23.6" height="52.6" fill="#DBE4E7"/>
<rect x="1504.7" y="2002.7" width="23.6" height="52.6" fill="#E4E1DF"/>
<rect x="1528.3" y="2002.7" width="23.6" height="52.6" fill="#F1DED6"/>
<rect x="1551.9" y="2002.7" width="23.6" height="52.6" fill="#E4E1DF"/>
<rect x="1575.4" y="2002.7" width="23.6" height="52.6" fill="#E4E1DF"/>
<rect x="1599" y="2002.7" width="23.6" height="52.6" fill="#F1DED6"/>
<rect x="1622.6" y="2002.7" width="23.6" height="52.6" fill="#FEDCCD"/>
<rect x="1646.1" y="2002.7" width="23.6" height="52.6" fill="#FEDCCD"/>
<rect x="1669.7" y="2002.7" width="23.6" height="52.6" fill="#FFCAB1"/>
<rect x="1693.3" y="2002.7" width="23.6" height="52.6" fill="#FEDCCD"/>
<rect x="232.1" y="2055.3" width="23.6" height="52.6" fill="#FFA886"/>
<rect x="255.7" y="2055.3" width="23.6" height="52.6" fill="#FFBFA3"/>
<rect x="279.2" y="2055.3" width="23.6" height="52.6" fill="#FD8C6D"/>
<rect x="302.8" y="2055.3" width="23.6" height="52.6" fill="#FF9B78"/>
<rect x="326.4" y="2055.3" width="23.6" height="52.6" fill="#F05A47"/>
<rect x="349.9" y="2055.3" width="23.6" height="52.6" fill="#FB7E62"/>
<rect x="373.5" y="2055.3" width="23.6" height="52.6" fill="#FD8C6D"/>
<rect x="397.1" y="2055.3" width="23.6" height="52.6" fill="#E23C3A"/>
<rect x="420.6" y="2055.3" width="23.6" height="52.6" fill="#FD8C6D"/>
<rect x="444.2" y="2055.3" width="23.6" height="52.6" fill="#FF9B78"/>
<rect x="467.8" y="2055.3" width="23.6" height="52.6" fill="#FFA886"/>
<rect x="491.3" y="2055.3" width="23.6" height="52.6" fill="#FFB495"/>
<rect x="514.9" y="2055.3" width="23.6" height="52.6" fill="#64BADC"/>
<rect x="538.5" y="2055.3" width="23.6" height="52.6" fill="#9CD2E7"/>
<rect x="562" y="2055.3" width="23.6" height="52.6" fill="#8ACBE4"/>
<rect x="585.6" y="2055.3" width="23.6" height="52.6" fill="#8ACBE4"/>
<rect x="609.2" y="2055.3" width="23.6" height="52.6" fill="#79C4E1"/>
<rect x="632.7" y="2055.3" width="23.6" height="52.6" fill="#3EABD4"/>
<rect x="656.3" y="2055.3" width="23.6" height="52.6" fill="#64BADC"/>
<rect x="679.9" y="2055.3" width="23.6" height="52.6" fill="#AAD8EA"/>
<rect x="703.4" y="2055.3" width="23.6" height="52.6" fill="#25A4D0"/>
<rect x="727" y="2055.3" width="23.6" height="52.6" fill="#25A4D0"/>
<rect x="750.6" y="2055.3" width="23.6" height="52.6" fill="#64BADC"/>
<rect x="774.1" y="2055.3" width="23.6" height="52.6" fill="#64BADC"/>
<rect x="797.7" y="2055.3" width="23.6" height="52.6" fill="#64BADC"/>
<rect x="821.3" y="2055.3" width="23.6" height="52.6" fill="#9CD2E7"/>
<rect x="844.8" y="2055.3" width="23.6" height="52.6" fill="#9CD2E7"/>
<rect x="868.4" y="2055.3" width="23.6" height="52.6" fill="#79C4E1"/>
<rect x="892" y="2055.3" width="23.6" height="52.6" fill="#FEDCCD"/>
<rect x="915.5" y="2055.3" width="23.6" height="52.6" fill="#F1DED6"/>
<rect x="939.1" y="2055.3" width="23.6" height="52.6" fill="#F1DED6"/>
<rect x="962.7" y="2055.3" width="23.6" height="52.6" fill="#D2E6EF"/>
<rect x="986.2" y="2055.3" width="23.6" height="52.6" fill="#FED3BF"/>
<rect x="1009.8" y="2055.3" width="23.6" height="52.6" fill="#DBE4E7"/>
<rect x="1033.4" y="2055.3" width="23.6" height="52.6" fill="#C5E2EE"/>
<rect x="1056.9" y="2055.3" width="23.6" height="52.6" fill="#C5E2EE"/>
<rect x="1080.5" y="2055.3" width="23.6" height="52.6" fill="#F1DED6"/>
<rect x="1104.1" y="2055.3" width="23.6" height="52.6" fill="#B8DEEC"/>
<rect x="1127.6" y="2055.3" width="23.6" height="52.6" fill="#B8DEEC"/>
<rect x="1151.2" y="2055.3" width="23.6" height="52.6" fill="#9CD2E7"/>
<rect x="1174.8" y="2055.3" width="23.6" height="52.6" fill="#C5E2EE"/>
<rect x="1198.3" y="2055.3" width="23.6" height="52.6" fill="#D2E6EF"/>
<rect x="1221.9" y="2055.3" width="23.6" height="52.6" fill="#B8DEEC"/>
<rect x="1245.5" y="2055.3" width="23.6" height="52.6" fill="#D2E6EF"/>
<rect x="1269" y="2055.3" width="23.6" height="52.6" fill="#FED3BF"/>
<rect x="1292.6" y="2055.3" width="23.6" height="52.6" fill="#FFBFA3"/>
<rect x="1316.2" y="2055.3" width="23.6" height="52.6" fill="#FFBFA3"/>
<rect x="1339.7" y="2055.3" width="23.6" height="52.6" fill="#FFCAB1"/>
<rect x="1363.3" y="2055.3" width="23.6" height="52.6" fill="#E4E1DF"/>
<rect x="1386.9" y="2055.3" width="23.6" height="52.6" fill="#FFB495"/>
<rect x="1410.4" y="2055.3" width="23.6" height="52.6" fill="#DBE4E7"/>
<rect x="1434" y="2055.3" width="23.6" height="52.6" fill="#FEDCCD"/>
<rect x="1457.6" y="2055.3" width="23.6" height="52.6" fill="#F1DED6"/>
<rect x="1481.2" y="2055.3" width="23.6" height="52.6" fill="#E4E1DF"/>
<rect x="1504.7" y="2055.3" width="23.6" height="52.6" fill="#DBE4E7"/>
<rect x="1528.3" y="2055.3" width="23.6" height="52.6" fill="#FEDCCD"/>
<rect x="1551.9" y="2055.3" width="23.6" height="52.6" fill="#FEDCCD"/>
<rect x="1575.4" y="2055.3" width="23.6" height="52.6" fill="#F1DED6"/>
<rect x="1599" y="2055.3" width="23.6" height="52.6" fill="#FEDCCD"/>
<rect x="1622.6" y="2055.3" width="23.6" height="52.6" fill="#FED3BF"/>
<rect x="1646.1" y="2055.3" width="23.6" height="52.6" fill="#FEDCCD"/>
<rect x="1669.7" y="2055.3" width="23.6" height="52.6" fill="#FED3BF"/>
<rect x="1693.3" y="2055.3" width="23.6" height="52.6" fill="#FED3BF"/>
<rect x="232.1" y="2107.9" width="23.6" height="52.6" fill="#FF9B78"/>
<rect x="255.7" y="2107.9" width="23.6" height="52.6" fill="#FFCAB1"/>
<rect x="279.2" y="2107.9" width="23.6" height="52.6" fill="#FB7E62"/>
<rect x="302.8" y="2107.9" width="23.6" height="52.6" fill="#FB7E62"/>
<rect x="326.4" y="2107.9" width="23.6" height="52.6" fill="#E94B40"/>
<rect x="349.9" y="2107.9" width="23.6" height="52.6" fill="#F05A47"/>
<rect x="373.5" y="2107.9" width="23.6" height="52.6" fill="#F66C54"/>
<rect x="397.1" y="2107.9" width="23.6" height="52.6" fill="#FF9B78"/>
<rect x="420.6" y="2107.9" width="23.6" height="52.6" fill="#FF9B78"/>
<rect x="444.2" y="2107.9" width="23.6" height="52.6" fill="#FFB495"/>
<rect x="467.8" y="2107.9" width="23.6" height="52.6" fill="#FFB495"/>
<rect x="491.3" y="2107.9" width="23.6" height="52.6" fill="#FF9B78"/>
<rect x="514.9" y="2107.9" width="23.6" height="52.6" fill="#64BADC"/>
<rect x="538.5" y="2107.9" width="23.6" height="52.6" fill="#9CD2E7"/>
<rect x="562" y="2107.9" width="23.6" height="52.6" fill="#8ACBE4"/>
<rect x="585.6" y="2107.9" width="23.6" height="52.6" fill="#79C4E1"/>
<rect x="609.2" y="2107.9" width="23.6" height="52.6" fill="#79C4E1"/>
<rect x="632.7" y="2107.9" width="23.6" height="52.6" fill="#25A4D0"/>
<rect x="656.3" y="2107.9" width="23.6" height="52.6" fill="#64BADC"/>
<rect x="679.9" y="2107.9" width="23.6" height="52.6" fill="#D2E6EF"/>
<rect x="703.4" y="2107.9" width="23.6" height="52.6" fill="#64BADC"/>
<rect x="727" y="2107.9" width="23.6" height="52.6" fill="#64BADC"/>
<rect x="750.6" y="2107.9" width="23.6" height="52.6" fill="#79C4E1"/>
<rect x="774.1" y="2107.9" width="23.6" height="52.6" fill="#64BADC"/>
<rect x="797.7" y="2107.9" width="23.6" height="52.6" fill="#9CD2E7"/>
<rect x="821.3" y="2107.9" width="23.6" height="52.6" fill="#64BADC"/>
<rect x="844.8" y="2107.9" width="23.6" height="52.6" fill="#9CD2E7"/>
<rect x="868.4" y="2107.9" width="23.6" height="52.6" fill="#8ACBE4"/>
<rect x="892" y="2107.9" width="23.6" height="52.6" fill="#F1DED6"/>
<rect x="915.5" y="2107.9" width="23.6" height="52.6" fill="#E4E1DF"/>
<rect x="939.1" y="2107.9" width="23.6" height="52.6" fill="#E4E1DF"/>
<rect x="962.7" y="2107.9" width="23.6" height="52.6" fill="#B8DEEC"/>
<rect x="986.2" y="2107.9" width="23.6" height="52.6" fill="#FED3BF"/>
<rect x="1009.8" y="2107.9" width="23.6" height="52.6" fill="#9CD2E7"/>
<rect x="1033.4" y="2107.9" width="23.6" height="52.6" fill="#D2E6EF"/>
<rect x="1056.9" y="2107.9" width="23.6" height="52.6" fill="#AAD8EA"/>
<rect x="1080.5" y="2107.9" width="23.6" height="52.6" fill="#E4E1DF"/>
<rect x="1104.1" y="2107.9" width="23.6" height="52.6" fill="#C5E2EE"/>
<rect x="1127.6" y="2107.9" width="23.6" height="52.6" fill="#D2E6EF"/>
<rect x="1151.2" y="2107.9" width="23.6" height="52.6" fill="#AAD8EA"/>
<rect x="1174.8" y="2107.9" width="23.6" height="52.6" fill="#B8DEEC"/>
<rect x="1198.3" y="2107.9" width="23.6" height="52.6" fill="#D2E6EF"/>
<rect x="1221.9" y="2107.9" width="23.6" height="52.6" fill="#C5E2EE"/>
<rect x="1245.5" y="2107.9" width="23.6" height="52.6" fill="#C5E2EE"/>
<rect x="1269" y="2107.9" width="23.6" height="52.6" fill="#E4E1DF"/>
<rect x="1292.6" y="2107.9" width="23.6" height="52.6" fill="#FFBFA3"/>
<rect x="1316.2" y="2107.9" width="23.6" height="52.6" fill="#FFBFA3"/>
<rect x="1339.7" y="2107.9" width="23.6" height="52.6" fill="#FFCAB1"/>
<rect x="1363.3" y="2107.9" width="23.6" height="52.6" fill="#F1DED6"/>
<rect x="1386.9" y="2107.9" width="23.6" height="52.6" fill="#FB7E62"/>
<rect x="1410.4" y="2107.9" width="23.6" height="52.6" fill="#FEDCCD"/>
<rect x="1434" y="2107.9" width="23.6" height="52.6" fill="#FED3BF"/>
<rect x="1457.6" y="2107.9" width="23.6" height="52.6" fill="#E4E1DF"/>
<rect x="1481.2" y="2107.9" width="23.6" height="52.6" fill="#D2E6EF"/>
<rect x="1504.7" y="2107.9" width="23.6" height="52.6" fill="#B8DEEC"/>
<rect x="1528.3" y="2107.9" width="23.6" height="52.6" fill="#DBE4E7"/>
<rect x="1551.9" y="2107.9" width="23.6" height="52.6" fill="#FED3BF"/>
<rect x="1575.4" y="2107.9" width="23.6" height="52.6" fill="#FEDCCD"/>
<rect x="1599" y="2107.9" width="23.6" height="52.6" fill="#FEDCCD"/>
<rect x="1622.6" y="2107.9" width="23.6" height="52.6" fill="#FED3BF"/>
<rect x="1646.1" y="2107.9" width="23.6" height="52.6" fill="#FEDCCD"/>
<rect x="1669.7" y="2107.9" width="23.6" height="52.6" fill="#FEDCCD"/>
<rect x="1693.3" y="2107.9" width="23.6" height="52.6" fill="#FEDCCD"/>
<rect x="232.1" y="2160.5" width="23.6" height="52.6" fill="#FD8C6D"/>
<rect x="255.7" y="2160.5" width="23.6" height="52.6" fill="#FF9B78"/>
<rect x="279.2" y="2160.5" width="23.6" height="52.6" fill="#FF9B78"/>
<rect x="302.8" y="2160.5" width="23.6" height="52.6" fill="#FD8C6D"/>
<rect x="326.4" y="2160.5" width="23.6" height="52.6" fill="#F66C54"/>
<rect x="349.9" y="2160.5" width="23.6" height="52.6" fill="#FD8C6D"/>
<rect x="373.5" y="2160.5" width="23.6" height="52.6" fill="#F66C54"/>
<rect x="397.1" y="2160.5" width="23.6" height="52.6" fill="#FFB495"/>
<rect x="420.6" y="2160.5" width="23.6" height="52.6" fill="#FFA886"/>
<rect x="444.2" y="2160.5" width="23.6" height="52.6" fill="#FFB495"/>
<rect x="467.8" y="2160.5" width="23.6" height="52.6" fill="#FFA886"/>
<rect x="491.3" y="2160.5" width="23.6" height="52.6" fill="#FFA886"/>
<rect x="514.9" y="2160.5" width="23.6" height="52.6" fill="#64BADC"/>
<rect x="538.5" y="2160.5" width="23.6" height="52.6" fill="#79C4E1"/>
<rect x="562" y="2160.5" width="23.6" height="52.6" fill="#8ACBE4"/>
<rect x="585.6" y="2160.5" width="23.6" height="52.6" fill="#64BADC"/>
<rect x="609.2" y="2160.5" width="23.6" height="52.6" fill="#8ACBE4"/>
<rect x="632.7" y="2160.5" width="23.6" height="52.6" fill="#79C4E1"/>
<rect x="656.3" y="2160.5" width="23.6" height="52.6" fill="#64BADC"/>
<rect x="679.9" y="2160.5" width="23.6" height="52.6" fill="#8ACBE4"/>
<rect x="703.4" y="2160.5" width="23.6" height="52.6" fill="#9CD2E7"/>
<rect x="727" y="2160.5" width="23.6" height="52.6" fill="#64BADC"/>
<rect x="750.6" y="2160.5" width="23.6" height="52.6" fill="#79C4E1"/>
<rect x="774.1" y="2160.5" width="23.6" height="52.6" fill="#3EABD4"/>
<rect x="797.7" y="2160.5" width="23.6" height="52.6" fill="#79C4E1"/>
<rect x="821.3" y="2160.5" width="23.6" height="52.6" fill="#B8DEEC"/>
<rect x="844.8" y="2160.5" width="23.6" height="52.6" fill="#3EABD4"/>
<rect x="868.4" y="2160.5" width="23.6" height="52.6" fill="#3EABD4"/>
<rect x="892" y="2160.5" width="23.6" height="52.6" fill="#FFCAB1"/>
<rect x="915.5" y="2160.5" width="23.6" height="52.6" fill="#C5E2EE"/>
<rect x="939.1" y="2160.5" width="23.6" height="52.6" fill="#FEDCCD"/>
<rect x="962.7" y="2160.5" width="23.6" height="52.6" fill="#DBE4E7"/>
<rect x="986.2" y="2160.5" width="23.6" height="52.6" fill="#64BADC"/>
<rect x="1009.8" y="2160.5" width="23.6" height="52.6" fill="#FED3BF"/>
<rect x="1033.4" y="2160.5" width="23.6" height="52.6" fill="#F1DED6"/>
<rect x="1056.9" y="2160.5" width="23.6" height="52.6" fill="#B8DEEC"/>
<rect x="1080.5" y="2160.5" width="23.6" height="52.6" fill="#E4E1DF"/>
<rect x="1104.1" y="2160.5" width="23.6" height="52.6" fill="#AAD8EA"/>
<rect x="1127.6" y="2160.5" width="23.6" height="52.6" fill="#D2E6EF"/>
<rect x="1151.2" y="2160.5" width="23.6" height="52.6" fill="#C5E2EE"/>
<rect x="1174.8" y="2160.5" width="23.6" height="52.6" fill="#AAD8EA"/>
<rect x="1198.3" y="2160.5" width="23.6" height="52.6" fill="#B8DEEC"/>
<rect x="1221.9" y="2160.5" width="23.6" height="52.6" fill="#DBE4E7"/>
<rect x="1245.5" y="2160.5" width="23.6" height="52.6" fill="#B8DEEC"/>
<rect x="1269" y="2160.5" width="23.6" height="52.6" fill="#FFBFA3"/>
<rect x="1292.6" y="2160.5" width="23.6" height="52.6" fill="#FFBFA3"/>
<rect x="1316.2" y="2160.5" width="23.6" height="52.6" fill="#FEDCCD"/>
<rect x="1339.7" y="2160.5" width="23.6" height="52.6" fill="#FFCAB1"/>
<rect x="1363.3" y="2160.5" width="23.6" height="52.6" fill="#F1DED6"/>
<rect x="1386.9" y="2160.5" width="23.6" height="52.6" fill="#FED3BF"/>
<rect x="1410.4" y="2160.5" width="23.6" height="52.6" fill="#E4E1DF"/>
<rect x="1434" y="2160.5" width="23.6" height="52.6" fill="#F1DED6"/>
<rect x="1457.6" y="2160.5" width="23.6" height="52.6" fill="#FFBFA3"/>
<rect x="1481.2" y="2160.5" width="23.6" height="52.6" fill="#FFBFA3"/>
<rect x="1504.7" y="2160.5" width="23.6" height="52.6" fill="#FED3BF"/>
<rect x="1528.3" y="2160.5" width="23.6" height="52.6" fill="#FFCAB1"/>
<rect x="1551.9" y="2160.5" width="23.6" height="52.6" fill="#E4E1DF"/>
<rect x="1575.4" y="2160.5" width="23.6" height="52.6" fill="#E4E1DF"/>
<rect x="1599" y="2160.5" width="23.6" height="52.6" fill="#E4E1DF"/>
<rect x="1622.6" y="2160.5" width="23.6" height="52.6" fill="#E4E1DF"/>
<rect x="1646.1" y="2160.5" width="23.6" height="52.6" fill="#FF9B78"/>
<rect x="1669.7" y="2160.5" width="23.6" height="52.6" fill="#FFBFA3"/>
<rect x="1693.3" y="2160.5" width="23.6" height="52.6" fill="#FEDCCD"/>
<rect x="232.1" y="2213.1" width="23.6" height="52.6" fill="#FF9B78"/>
<rect x="255.7" y="2213.1" width="23.6" height="52.6" fill="#FF9B78"/>
<rect x="279.2" y="2213.1" width="23.6" height="52.6" fill="#FF9B78"/>
<rect x="302.8" y="2213.1" width="23.6" height="52.6" fill="#F05A47"/>
<rect x="326.4" y="2213.1" width="23.6" height="52.6" fill="#F66C54"/>
<rect x="349.9" y="2213.1" width="23.6" height="52.6" fill="#FF9B78"/>
<rect x="373.5" y="2213.1" width="23.6" height="52.6" fill="#FB7E62"/>
<rect x="397.1" y="2213.1" width="23.6" height="52.6" fill="#FF9B78"/>
<rect x="420.6" y="2213.1" width="23.6" height="52.6" fill="#FFA886"/>
<rect x="444.2" y="2213.1" width="23.6" height="52.6" fill="#FD8C6D"/>
<rect x="467.8" y="2213.1" width="23.6" height="52.6" fill="#FFA886"/>
<rect x="491.3" y="2213.1" width="23.6" height="52.6" fill="#FF9B78"/>
<rect x="514.9" y="2213.1" width="23.6" height="52.6" fill="#3EABD4"/>
<rect x="538.5" y="2213.1" width="23.6" height="52.6" fill="#E4E1DF"/>
<rect x="562" y="2213.1" width="23.6" height="52.6" fill="#C5E2EE"/>
<rect x="585.6" y="2213.1" width="23.6" height="52.6" fill="#79C4E1"/>
<rect x="609.2" y="2213.1" width="23.6" height="52.6" fill="#8ACBE4"/>
<rect x="632.7" y="2213.1" width="23.6" height="52.6" fill="#64BADC"/>
<rect x="656.3" y="2213.1" width="23.6" height="52.6" fill="#64BADC"/>
<rect x="679.9" y="2213.1" width="23.6" height="52.6" fill="#64BADC"/>
<rect x="703.4" y="2213.1" width="23.6" height="52.6" fill="#79C4E1"/>
<rect x="727" y="2213.1" width="23.6" height="52.6" fill="#3EABD4"/>
<rect x="750.6" y="2213.1" width="23.6" height="52.6" fill="#79C4E1"/>
<rect x="774.1" y="2213.1" width="23.6" height="52.6" fill="#64BADC"/>
<rect x="797.7" y="2213.1" width="23.6" height="52.6" fill="#3EABD4"/>
<rect x="821.3" y="2213.1" width="23.6" height="52.6" fill="#79C4E1"/>
<rect x="844.8" y="2213.1" width="23.6" height="52.6" fill="#9CD2E7"/>
<rect x="868.4" y="2213.1" width="23.6" height="52.6" fill="#B8DEEC"/>
<rect x="892" y="2213.1" width="23.6" height="52.6" fill="#DBE4E7"/>
<rect x="915.5" y="2213.1" width="23.6" height="52.6" fill="#FEDCCD"/>
<rect x="939.1" y="2213.1" width="23.6" height="52.6" fill="#FEDCCD"/>
<rect x="962.7" y="2213.1" width="23.6" height="52.6" fill="#E4E1DF"/>
<rect x="986.2" y="2213.1" width="23.6" height="52.6" fill="#79C4E1"/>
<rect x="1009.8" y="2213.1" width="23.6" height="52.6" fill="#9CD2E7"/>
<rect x="1033.4" y="2213.1" width="23.6" height="52.6" fill="#8ACBE4"/>
<rect x="1056.9" y="2213.1" width="23.6" height="52.6" fill="#D2E6EF"/>
<rect x="1080.5" y="2213.1" width="23.6" height="52.6" fill="#DBE4E7"/>
<rect x="1104.1" y="2213.1" width="23.6" height="52.6" fill="#B8DEEC"/>
<rect x="1127.6" y="2213.1" width="23.6" height="52.6" fill="#E4E1DF"/>
<rect x="1151.2" y="2213.1" width="23.6" height="52.6" fill="#F1DED6"/>
<rect x="1174.8" y="2213.1" width="23.6" height="52.6" fill="#D2E6EF"/>
<rect x="1198.3" y="2213.1" width="23.6" height="52.6" fill="#FFCAB1"/>
<rect x="1221.9" y="2213.1" width="23.6" height="52.6" fill="#C5E2EE"/>
<rect x="1245.5" y="2213.1" width="23.6" height="52.6" fill="#C5E2EE"/>
<rect x="1269" y="2213.1" width="23.6" height="52.6" fill="#FFCAB1"/>
<rect x="1292.6" y="2213.1" width="23.6" height="52.6" fill="#F1DED6"/>
<rect x="1316.2" y="2213.1" width="23.6" height="52.6" fill="#FFBFA3"/>
<rect x="1339.7" y="2213.1" width="23.6" height="52.6" fill="#FFBFA3"/>
<rect x="1363.3" y="2213.1" width="23.6" height="52.6" fill="#D2E6EF"/>
<rect x="1386.9" y="2213.1" width="23.6" height="52.6" fill="#F1DED6"/>
<rect x="1410.4" y="2213.1" width="23.6" height="52.6" fill="#FED3BF"/>
<rect x="1434" y="2213.1" width="23.6" height="52.6" fill="#FEDCCD"/>
<rect x="1457.6" y="2213.1" width="23.6" height="52.6" fill="#E4E1DF"/>
<rect x="1481.2" y="2213.1" width="23.6" height="52.6" fill="#E4E1DF"/>
<rect x="1504.7" y="2213.1" width="23.6" height="52.6" fill="#DBE4E7"/>
<rect x="1528.3" y="2213.1" width="23.6" height="52.6" fill="#C5E2EE"/>
<rect x="1551.9" y="2213.1" width="23.6" height="52.6" fill="#F1DED6"/>
<rect x="1575.4" y="2213.1" width="23.6" height="52.6" fill="#FEDCCD"/>
<rect x="1599" y="2213.1" width="23.6" height="52.6" fill="#FEDCCD"/>
<rect x="1622.6" y="2213.1" width="23.6" height="52.6" fill="#FEDCCD"/>
<rect x="1646.1" y="2213.1" width="23.6" height="52.6" fill="#FED3BF"/>
<rect x="1669.7" y="2213.1" width="23.6" height="52.6" fill="#F1DED6"/>
<rect x="1693.3" y="2213.1" width="23.6" height="52.6" fill="#F1DED6"/>
<rect x="232.1" y="2265.7" width="23.6" height="52.6" fill="#F66C54"/>
<rect x="255.7" y="2265.7" width="23.6" height="52.6" fill="#FD8C6D"/>
<rect x="279.2" y="2265.7" width="23.6" height="52.6" fill="#FFCAB1"/>
<rect x="302.8" y="2265.7" width="23.6" height="52.6" fill="#F66C54"/>
<rect x="326.4" y="2265.7" width="23.6" height="52.6" fill="#F05A47"/>
<rect x="349.9" y="2265.7" width="23.6" height="52.6" fill="#FD8C6D"/>
<rect x="373.5" y="2265.7" width="23.6" height="52.6" fill="#F66C54"/>
<rect x="397.1" y="2265.7" width="23.6" height="52.6" fill="#FD8C6D"/>
<rect x="420.6" y="2265.7" width="23.6" height="52.6" fill="#FF9B78"/>
<rect x="444.2" y="2265.7" width="23.6" height="52.6" fill="#FF9B78"/>
<rect x="467.8" y="2265.7" width="23.6" height="52.6" fill="#FF9B78"/>
<rect x="491.3" y="2265.7" width="23.6" height="52.6" fill="#FD8C6D"/>
<rect x="514.9" y="2265.7" width="23.6" height="52.6" fill="#64BADC"/>
<rect x="538.5" y="2265.7" width="23.6" height="52.6" fill="#79C4E1"/>
<rect x="562" y="2265.7" width="23.6" height="52.6" fill="#8ACBE4"/>
<rect x="585.6" y="2265.7" width="23.6" height="52.6" fill="#64BADC"/>
<rect x="609.2" y="2265.7" width="23.6" height="52.6" fill="#79C4E1"/>
<rect x="632.7" y="2265.7" width="23.6" height="52.6" fill="#25A4D0"/>
<rect x="656.3" y="2265.7" width="23.6" height="52.6" fill="#64BADC"/>
<rect x="679.9" y="2265.7" width="23.6" height="52.6" fill="#9CD2E7"/>
<rect x="703.4" y="2265.7" width="23.6" height="52.6" fill="#C5E2EE"/>
<rect x="727" y="2265.7" width="23.6" height="52.6" fill="#64BADC"/>
<rect x="750.6" y="2265.7" width="23.6" height="52.6" fill="#79C4E1"/>
<rect x="774.1" y="2265.7" width="23.6" height="52.6" fill="#64BADC"/>
<rect x="797.7" y="2265.7" width="23.6" height="52.6" fill="#8ACBE4"/>
<rect x="821.3" y="2265.7" width="23.6" height="52.6" fill="#64BADC"/>
<rect x="844.8" y="2265.7" width="23.6" height="52.6" fill="#AAD8EA"/>
<rect x="868.4" y="2265.7" width="23.6" height="52.6" fill="#79C4E1"/>
<rect x="892" y="2265.7" width="23.6" height="52.6" fill="#F1DED6"/>
<rect x="915.5" y="2265.7" width="23.6" height="52.6" fill="#DBE4E7"/>
<rect x="939.1" y="2265.7" width="23.6" height="52.6" fill="#F1DED6"/>
<rect x="962.7" y="2265.7" width="23.6" height="52.6" fill="#E4E1DF"/>
<rect x="986.2" y="2265.7" width="23.6" height="52.6" fill="#9CD2E7"/>
<rect x="1009.8" y="2265.7" width="23.6" height="52.6" fill="#9CD2E7"/>
<rect x="1033.4" y="2265.7" width="23.6" height="52.6" fill="#E4E1DF"/>
<rect x="1056.9" y="2265.7" width="23.6" height="52.6" fill="#B8DEEC"/>
<rect x="1080.5" y="2265.7" width="23.6" height="52.6" fill="#FED3BF"/>
<rect x="1104.1" y="2265.7" width="23.6" height="52.6" fill="#9CD2E7"/>
<rect x="1127.6" y="2265.7" width="23.6" height="52.6" fill="#B8DEEC"/>
<rect x="1151.2" y="2265.7" width="23.6" height="52.6" fill="#C5E2EE"/>
<rect x="1174.8" y="2265.7" width="23.6" height="52.6" fill="#B8DEEC"/>
<rect x="1198.3" y="2265.7" width="23.6" height="52.6" fill="#C5E2EE"/>
<rect x="1221.9" y="2265.7" width="23.6" height="52.6" fill="#B8DEEC"/>
<rect x="1245.5" y="2265.7" width="23.6" height="52.6" fill="#D2E6EF"/>
<rect x="1269" y="2265.7" width="23.6" height="52.6" fill="#F1DED6"/>
<rect x="1292.6" y="2265.7" width="23.6" height="52.6" fill="#FFCAB1"/>
<rect x="1316.2" y="2265.7" width="23.6" height="52.6" fill="#FFBFA3"/>
<rect x="1339.7" y="2265.7" width="23.6" height="52.6" fill="#FED3BF"/>
<rect x="1363.3" y="2265.7" width="23.6" height="52.6" fill="#E4E1DF"/>
<rect x="1386.9" y="2265.7" width="23.6" height="52.6" fill="#FFCAB1"/>
<rect x="1410.4" y="2265.7" width="23.6" height="52.6" fill="#FEDCCD"/>
<rect x="1434" y="2265.7" width="23.6" height="52.6" fill="#FFBFA3"/>
<rect x="1457.6" y="2265.7" width="23.6" height="52.6" fill="#F1DED6"/>
<rect x="1481.2" y="2265.7" width="23.6" height="52.6" fill="#D2E6EF"/>
<rect x="1504.7" y="2265.7" width="23.6" height="52.6" fill="#D2E6EF"/>
<rect x="1528.3" y="2265.7" width="23.6" height="52.6" fill="#E4E1DF"/>
<rect x="1551.9" y="2265.7" width="23.6" height="52.6" fill="#F1DED6"/>
<rect x="1575.4" y="2265.7" width="23.6" height="52.6" fill="#FEDCCD"/>
<rect x="1599" y="2265.7" width="23.6" height="52.6" fill="#FEDCCD"/>
<rect x="1622.6" y="2265.7" width="23.6" height="52.6" fill="#FEDCCD"/>
<rect x="1646.1" y="2265.7" width="23.6" height="52.6" fill="#F1DED6"/>
<rect x="1669.7" y="2265.7" width="23.6" height="52.6" fill="#FEDCCD"/>
<rect x="1693.3" y="2265.7" width="23.6" height="52.6" fill="#FFCAB1"/>
<rect x="232.1" y="2318.3" width="23.6" height="52.6" fill="#F66C54"/>
<rect x="255.7" y="2318.3" width="23.6" height="52.6" fill="#FD8C6D"/>
<rect x="279.2" y="2318.3" width="23.6" height="52.6" fill="#F66C54"/>
<rect x="302.8" y="2318.3" width="23.6" height="52.6" fill="#FB7E62"/>
<rect x="326.4" y="2318.3" width="23.6" height="52.6" fill="#FB7E62"/>
<rect x="349.9" y="2318.3" width="23.6" height="52.6" fill="#FD8C6D"/>
<rect x="373.5" y="2318.3" width="23.6" height="52.6" fill="#FB7E62"/>
<rect x="397.1" y="2318.3" width="23.6" height="52.6" fill="#FFA886"/>
<rect x="420.6" y="2318.3" width="23.6" height="52.6" fill="#FFA886"/>
<rect x="444.2" y="2318.3" width="23.6" height="52.6" fill="#FF9B78"/>
<rect x="467.8" y="2318.3" width="23.6" height="52.6" fill="#FFA886"/>
<rect x="491.3" y="2318.3" width="23.6" height="52.6" fill="#FD8C6D"/>
<rect x="514.9" y="2318.3" width="23.6" height="52.6" fill="#25A4D0"/>
<rect x="538.5" y="2318.3" width="23.6" height="52.6" fill="#8ACBE4"/>
<rect x="562" y="2318.3" width="23.6" height="52.6" fill="#E4E1DF"/>
<rect x="585.6" y="2318.3" width="23.6" height="52.6" fill="#64BADC"/>
<rect x="609.2" y="2318.3" width="23.6" height="52.6" fill="#79C4E1"/>
<rect x="632.7" y="2318.3" width="23.6" height="52.6" fill="#64BADC"/>
<rect x="656.3" y="2318.3" width="23.6" height="52.6" fill="#64BADC"/>
<rect x="679.9" y="2318.3" width="23.6" height="52.6" fill="#C5E2EE"/>
<rect x="703.4" y="2318.3" width="23.6" height="52.6" fill="#9CD2E7"/>
<rect x="727" y="2318.3" width="23.6" height="52.6" fill="#3EABD4"/>
<rect x="750.6" y="2318.3" width="23.6" height="52.6" fill="#79C4E1"/>
<rect x="774.1" y="2318.3" width="23.6" height="52.6" fill="#3EABD4"/>
<rect x="797.7" y="2318.3" width="23.6" height="52.6" fill="#8ACBE4"/>
<rect x="821.3" y="2318.3" width="23.6" height="52.6" fill="#79C4E1"/>
<rect x="844.8" y="2318.3" width="23.6" height="52.6" fill="#C5E2EE"/>
<rect x="868.4" y="2318.3" width="23.6" height="52.6" fill="#79C4E1"/>
<rect x="892" y="2318.3" width="23.6" height="52.6" fill="#FEDCCD"/>
<rect x="915.5" y="2318.3" width="23.6" height="52.6" fill="#C5E2EE"/>
<rect x="939.1" y="2318.3" width="23.6" height="52.6" fill="#E4E1DF"/>
<rect x="962.7" y="2318.3" width="23.6" height="52.6" fill="#E4E1DF"/>
<rect x="986.2" y="2318.3" width="23.6" height="52.6" fill="#79C4E1"/>
<rect x="1009.8" y="2318.3" width="23.6" height="52.6" fill="#8ACBE4"/>
<rect x="1033.4" y="2318.3" width="23.6" height="52.6" fill="#F1DED6"/>
<rect x="1056.9" y="2318.3" width="23.6" height="52.6" fill="#C5E2EE"/>
<rect x="1080.5" y="2318.3" width="23.6" height="52.6" fill="#C5E2EE"/>
<rect x="1104.1" y="2318.3" width="23.6" height="52.6" fill="#9CD2E7"/>
<rect x="1127.6" y="2318.3" width="23.6" height="52.6" fill="#B8DEEC"/>
<rect x="1151.2" y="2318.3" width="23.6" height="52.6" fill="#D2E6EF"/>
<rect x="1174.8" y="2318.3" width="23.6" height="52.6" fill="#AAD8EA"/>
<rect x="1198.3" y="2318.3" width="23.6" height="52.6" fill="#B8DEEC"/>
<rect x="1221.9" y="2318.3" width="23.6" height="52.6" fill="#B8DEEC"/>
<rect x="1245.5" y="2318.3" width="23.6" height="52.6" fill="#B8DEEC"/>
<rect x="1269" y="2318.3" width="23.6" height="52.6" fill="#FED3BF"/>
<rect x="1292.6" y="2318.3" width="23.6" height="52.6" fill="#FED3BF"/>
<rect x="1316.2" y="2318.3" width="23.6" height="52.6" fill="#FED3BF"/>
<rect x="1339.7" y="2318.3" width="23.6" height="52.6" fill="#FED3BF"/>
<rect x="1363.3" y="2318.3" width="23.6" height="52.6" fill="#FEDCCD"/>
<rect x="1386.9" y="2318.3" width="23.6" height="52.6" fill="#FED3BF"/>
<rect x="1410.4" y="2318.3" width="23.6" height="52.6" fill="#E4E1DF"/>
<rect x="1434" y="2318.3" width="23.6" height="52.6" fill="#FED3BF"/>
<rect x="1457.6" y="2318.3" width="23.6" height="52.6" fill="#E4E1DF"/>
<rect x="1481.2" y="2318.3" width="23.6" height="52.6" fill="#E4E1DF"/>
<rect x="1504.7" y="2318.3" width="23.6" height="52.6" fill="#FED3BF"/>
<rect x="1528.3" y="2318.3" width="23.6" height="52.6" fill="#DBE4E7"/>
<rect x="1551.9" y="2318.3" width="23.6" height="52.6" fill="#F1DED6"/>
<rect x="1575.4" y="2318.3" width="23.6" height="52.6" fill="#E4E1DF"/>
<rect x="1599" y="2318.3" width="23.6" height="52.6" fill="#FEDCCD"/>
<rect x="1622.6" y="2318.3" width="23.6" height="52.6" fill="#FEDCCD"/>
<rect x="1646.1" y="2318.3" width="23.6" height="52.6" fill="#FD8C6D"/>
<rect x="1669.7" y="2318.3" width="23.6" height="52.6" fill="#E4E1DF"/>
<rect x="1693.3" y="2318.3" width="23.6" height="52.6" fill="#FED3BF"/>
<rect x="232.1" y="2370.9" width="23.6" height="52.6" fill="#F66C54"/>
<rect x="255.7" y="2370.9" width="23.6" height="52.6" fill="#F66C54"/>
<rect x="279.2" y="2370.9" width="23.6" height="52.6" fill="#FFB495"/>
<rect x="302.8" y="2370.9" width="23.6" height="52.6" fill="#F66C54"/>
<rect x="326.4" y="2370.9" width="23.6" height="52.6" fill="#E23C3A"/>
<rect x="349.9" y="2370.9" width="23.6" height="52.6" fill="#FB7E62"/>
<rect x="373.5" y="2370.9" width="23.6" height="52.6" fill="#FF9B78"/>
<rect x="397.1" y="2370.9" width="23.6" height="52.6" fill="#FD8C6D"/>
<rect x="420.6" y="2370.9" width="23.6" height="52.6" fill="#FD8C6D"/>
<rect x="444.2" y="2370.9" width="23.6" height="52.6" fill="#FFB495"/>
<rect x="467.8" y="2370.9" width="23.6" height="52.6" fill="#FFB495"/>
<rect x="491.3" y="2370.9" width="23.6" height="52.6" fill="#FD8C6D"/>
<rect x="514.9" y="2370.9" width="23.6" height="52.6" fill="#79C4E1"/>
<rect x="538.5" y="2370.9" width="23.6" height="52.6" fill="#8ACBE4"/>
<rect x="562" y="2370.9" width="23.6" height="52.6" fill="#B8DEEC"/>
<rect x="585.6" y="2370.9" width="23.6" height="52.6" fill="#D2E6EF"/>
<rect x="609.2" y="2370.9" width="23.6" height="52.6" fill="#C5E2EE"/>
<rect x="632.7" y="2370.9" width="23.6" height="52.6" fill="#8ACBE4"/>
<rect x="656.3" y="2370.9" width="23.6" height="52.6" fill="#79C4E1"/>
<rect x="679.9" y="2370.9" width="23.6" height="52.6" fill="#64BADC"/>
<rect x="703.4" y="2370.9" width="23.6" height="52.6" fill="#79C4E1"/>
<rect x="727" y="2370.9" width="23.6" height="52.6" fill="#8ACBE4"/>
<rect x="750.6" y="2370.9" width="23.6" height="52.6" fill="#9CD2E7"/>
<rect x="774.1" y="2370.9" width="23.6" height="52.6" fill="#8ACBE4"/>
<rect x="797.7" y="2370.9" width="23.6" height="52.6" fill="#8ACBE4"/>
<rect x="821.3" y="2370.9" width="23.6" height="52.6" fill="#79C4E1"/>
<rect x="844.8" y="2370.9" width="23.6" height="52.6" fill="#79C4E1"/>
<rect x="868.4" y="2370.9" width="23.6" height="52.6" fill="#9CD2E7"/>
<rect x="892" y="2370.9" width="23.6" height="52.6" fill="#8ACBE4"/>
<rect x="915.5" y="2370.9" width="23.6" height="52.6" fill="#64BADC"/>
<rect x="939.1" y="2370.9" width="23.6" height="52.6" fill="#AAD8EA"/>
<rect x="962.7" y="2370.9" width="23.6" height="52.6" fill="#79C4E1"/>
<rect x="986.2" y="2370.9" width="23.6" height="52.6" fill="#F1DED6"/>
<rect x="1009.8" y="2370.9" width="23.6" height="52.6" fill="#B8DEEC"/>
<rect x="1033.4" y="2370.9" width="23.6" height="52.6" fill="#B8DEEC"/>
<rect x="1056.9" y="2370.9" width="23.6" height="52.6" fill="#B8DEEC"/>
<rect x="1080.5" y="2370.9" width="23.6" height="52.6" fill="#D2E6EF"/>
<rect x="1104.1" y="2370.9" width="23.6" height="52.6" fill="#DBE4E7"/>
<rect x="1127.6" y="2370.9" width="23.6" height="52.6" fill="#E4E1DF"/>
<rect x="1151.2" y="2370.9" width="23.6" height="52.6" fill="#C5E2EE"/>
<rect x="1174.8" y="2370.9" width="23.6" height="52.6" fill="#FEDCCD"/>
<rect x="1198.3" y="2370.9" width="23.6" height="52.6" fill="#DBE4E7"/>
<rect x="1221.9" y="2370.9" width="23.6" height="52.6" fill="#B8DEEC"/>
<rect x="1245.5" y="2370.9" width="23.6" height="52.6" fill="#B8DEEC"/>
<rect x="1269" y="2370.9" width="23.6" height="52.6" fill="#FEDCCD"/>
<rect x="1292.6" y="2370.9" width="23.6" height="52.6" fill="#FFCAB1"/>
<rect x="1316.2" y="2370.9" width="23.6" height="52.6" fill="#FFBFA3"/>
<rect x="1339.7" y="2370.9" width="23.6" height="52.6" fill="#FFA886"/>
<rect x="1363.3" y="2370.9" width="23.6" height="52.6" fill="#FED3BF"/>
<rect x="1386.9" y="2370.9" width="23.6" height="52.6" fill="#FED3BF"/>
<rect x="1410.4" y="2370.9" width="23.6" height="52.6" fill="#FED3BF"/>
<rect x="1434" y="2370.9" width="23.6" height="52.6" fill="#F1DED6"/>
<rect x="1457.6" y="2370.9" width="23.6" height="52.6" fill="#FED3BF"/>
<rect x="1481.2" y="2370.9" width="23.6" height="52.6" fill="#FFBFA3"/>
<rect x="1504.7" y="2370.9" width="23.6" height="52.6" fill="#C5E2EE"/>
<rect x="1528.3" y="2370.9" width="23.6" height="52.6" fill="#E4E1DF"/>
<rect x="1551.9" y="2370.9" width="23.6" height="52.6" fill="#C5E2EE"/>
<rect x="1575.4" y="2370.9" width="23.6" height="52.6" fill="#E4E1DF"/>
<rect x="1599" y="2370.9" width="23.6" height="52.6" fill="#F1DED6"/>
<rect x="1622.6" y="2370.9" width="23.6" height="52.6" fill="#E4E1DF"/>
<rect x="1646.1" y="2370.9" width="23.6" height="52.6" fill="#FEDCCD"/>
<rect x="1669.7" y="2370.9" width="23.6" height="52.6" fill="#E4E1DF"/>
<rect x="1693.3" y="2370.9" width="23.6" height="52.6" fill="#DBE4E7"/>
<rect x="232.1" y="2423.5" width="23.6" height="52.6" fill="#FB7E62"/>
<rect x="255.7" y="2423.5" width="23.6" height="52.6" fill="#FD8C6D"/>
<rect x="279.2" y="2423.5" width="23.6" height="52.6" fill="#F05A47"/>
<rect x="302.8" y="2423.5" width="23.6" height="52.6" fill="#FB7E62"/>
<rect x="326.4" y="2423.5" width="23.6" height="52.6" fill="#F05A47"/>
<rect x="349.9" y="2423.5" width="23.6" height="52.6" fill="#F66C54"/>
<rect x="373.5" y="2423.5" width="23.6" height="52.6" fill="#FD8C6D"/>
<rect x="397.1" y="2423.5" width="23.6" height="52.6" fill="#FFB495"/>
<rect x="420.6" y="2423.5" width="23.6" height="52.6" fill="#FFA886"/>
<rect x="444.2" y="2423.5" width="23.6" height="52.6" fill="#FFB495"/>
<rect x="467.8" y="2423.5" width="23.6" height="52.6" fill="#FD8C6D"/>
<rect x="491.3" y="2423.5" width="23.6" height="52.6" fill="#FFA886"/>
<rect x="514.9" y="2423.5" width="23.6" height="52.6" fill="#79C4E1"/>
<rect x="538.5" y="2423.5" width="23.6" height="52.6" fill="#8ACBE4"/>
<rect x="562" y="2423.5" width="23.6" height="52.6" fill="#9CD2E7"/>
<rect x="585.6" y="2423.5" width="23.6" height="52.6" fill="#C5E2EE"/>
<rect x="609.2" y="2423.5" width="23.6" height="52.6" fill="#9CD2E7"/>
<rect x="632.7" y="2423.5" width="23.6" height="52.6" fill="#9CD2E7"/>
<rect x="656.3" y="2423.5" width="23.6" height="52.6" fill="#79C4E1"/>
<rect x="679.9" y="2423.5" width="23.6" height="52.6" fill="#64BADC"/>
<rect x="703.4" y="2423.5" width="23.6" height="52.6" fill="#64BADC"/>
<rect x="727" y="2423.5" width="23.6" height="52.6" fill="#64BADC"/>
<rect x="750.6" y="2423.5" width="23.6" height="52.6" fill="#8ACBE4"/>
<rect x="774.1" y="2423.5" width="23.6" height="52.6" fill="#79C4E1"/>
<rect x="797.7" y="2423.5" width="23.6" height="52.6" fill="#64BADC"/>
<rect x="821.3" y="2423.5" width="23.6" height="52.6" fill="#64BADC"/>
<rect x="844.8" y="2423.5" width="23.6" height="52.6" fill="#79C4E1"/>
<rect x="868.4" y="2423.5" width="23.6" height="52.6" fill="#8ACBE4"/>
<rect x="892" y="2423.5" width="23.6" height="52.6" fill="#9CD2E7"/>
<rect x="915.5" y="2423.5" width="23.6" height="52.6" fill="#AAD8EA"/>
<rect x="939.1" y="2423.5" width="23.6" height="52.6" fill="#9CD2E7"/>
<rect x="962.7" y="2423.5" width="23.6" height="52.6" fill="#79C4E1"/>
<rect x="986.2" y="2423.5" width="23.6" height="52.6" fill="#F1DED6"/>
<rect x="1009.8" y="2423.5" width="23.6" height="52.6" fill="#9CD2E7"/>
<rect x="1033.4" y="2423.5" width="23.6" height="52.6" fill="#B8DEEC"/>
<rect x="1056.9" y="2423.5" width="23.6" height="52.6" fill="#AAD8EA"/>
<rect x="1080.5" y="2423.5" width="23.6" height="52.6" fill="#DBE4E7"/>
<rect x="1104.1" y="2423.5" width="23.6" height="52.6" fill="#D2E6EF"/>
<rect x="1127.6" y="2423.5" width="23.6" height="52.6" fill="#C5E2EE"/>
<rect x="1151.2" y="2423.5" width="23.6" height="52.6" fill="#DBE4E7"/>
<rect x="1174.8" y="2423.5" width="23.6" height="52.6" fill="#FED3BF"/>
<rect x="1198.3" y="2423.5" width="23.6" height="52.6" fill="#E4E1DF"/>
<rect x="1221.9" y="2423.5" width="23.6" height="52.6" fill="#FEDCCD"/>
<rect x="1245.5" y="2423.5" width="23.6" height="52.6" fill="#D2E6EF"/>
<rect x="1269" y="2423.5" width="23.6" height="52.6" fill="#FEDCCD"/>
<rect x="1292.6" y="2423.5" width="23.6" height="52.6" fill="#FED3BF"/>
<rect x="1316.2" y="2423.5" width="23.6" height="52.6" fill="#FFB495"/>
<rect x="1339.7" y="2423.5" width="23.6" height="52.6" fill="#FFA886"/>
<rect x="1363.3" y="2423.5" width="23.6" height="52.6" fill="#9CD2E7"/>
<rect x="1386.9" y="2423.5" width="23.6" height="52.6" fill="#FED3BF"/>
<rect x="1410.4" y="2423.5" width="23.6" height="52.6" fill="#FFCAB1"/>
<rect x="1434" y="2423.5" width="23.6" height="52.6" fill="#E4E1DF"/>
<rect x="1457.6" y="2423.5" width="23.6" height="52.6" fill="#FED3BF"/>
<rect x="1481.2" y="2423.5" width="23.6" height="52.6" fill="#F1DED6"/>
<rect x="1504.7" y="2423.5" width="23.6" height="52.6" fill="#DBE4E7"/>
<rect x="1528.3" y="2423.5" width="23.6" height="52.6" fill="#DBE4E7"/>
<rect x="1551.9" y="2423.5" width="23.6" height="52.6" fill="#FEDCCD"/>
<rect x="1575.4" y="2423.5" width="23.6" height="52.6" fill="#FED3BF"/>
<rect x="1599" y="2423.5" width="23.6" height="52.6" fill="#FED3BF"/>
<rect x="1622.6" y="2423.5" width="23.6" height="52.6" fill="#FFCAB1"/>
<rect x="1646.1" y="2423.5" width="23.6" height="52.6" fill="#FEDCCD"/>
<rect x="1669.7" y="2423.5" width="23.6" height="52.6" fill="#F1DED6"/>
<rect x="1693.3" y="2423.5" width="23.6" height="52.6" fill="#DBE4E7"/>
<rect x="232.1" y="2476.1" width="23.6" height="52.6" fill="#F66C54"/>
<rect x="255.7" y="2476.1" width="23.6" height="52.6" fill="#FF9B78"/>
<rect x="279.2" y="2476.1" width="23.6" height="52.6" fill="#FF9B78"/>
<rect x="302.8" y="2476.1" width="23.6" height="52.6" fill="#F66C54"/>
<rect x="326.4" y="2476.1" width="23.6" height="52.6" fill="#F66C54"/>
<rect x="349.9" y="2476.1" width="23.6" height="52.6" fill="#FD8C6D"/>
<rect x="373.5" y="2476.1" width="23.6" height="52.6" fill="#F66C54"/>
<rect x="397.1" y="2476.1" width="23.6" height="52.6" fill="#FFB495"/>
<rect x="420.6" y="2476.1" width="23.6" height="52.6" fill="#FFB495"/>
<rect x="444.2" y="2476.1" width="23.6" height="52.6" fill="#FFA886"/>
<rect x="467.8" y="2476.1" width="23.6" height="52.6" fill="#FFB495"/>
<rect x="491.3" y="2476.1" width="23.6" height="52.6" fill="#FFA886"/>
<rect x="514.9" y="2476.1" width="23.6" height="52.6" fill="#64BADC"/>
<rect x="538.5" y="2476.1" width="23.6" height="52.6" fill="#79C4E1"/>
<rect x="562" y="2476.1" width="23.6" height="52.6" fill="#C5E2EE"/>
<rect x="585.6" y="2476.1" width="23.6" height="52.6" fill="#64BADC"/>
<rect x="609.2" y="2476.1" width="23.6" height="52.6" fill="#79C4E1"/>
<rect x="632.7" y="2476.1" width="23.6" height="52.6" fill="#64BADC"/>
<rect x="656.3" y="2476.1" width="23.6" height="52.6" fill="#64BADC"/>
<rect x="679.9" y="2476.1" width="23.6" height="52.6" fill="#64BADC"/>
<rect x="703.4" y="2476.1" width="23.6" height="52.6" fill="#64BADC"/>
<rect x="727" y="2476.1" width="23.6" height="52.6" fill="#64BADC"/>
<rect x="750.6" y="2476.1" width="23.6" height="52.6" fill="#79C4E1"/>
<rect x="774.1" y="2476.1" width="23.6" height="52.6" fill="#64BADC"/>
<rect x="797.7" y="2476.1" width="23.6" height="52.6" fill="#79C4E1"/>
<rect x="821.3" y="2476.1" width="23.6" height="52.6" fill="#FED3BF"/>
<rect x="844.8" y="2476.1" width="23.6" height="52.6" fill="#AAD8EA"/>
<rect x="868.4" y="2476.1" width="23.6" height="52.6" fill="#9CD2E7"/>
<rect x="892" y="2476.1" width="23.6" height="52.6" fill="#E4E1DF"/>
<rect x="915.5" y="2476.1" width="23.6" height="52.6" fill="#DBE4E7"/>
<rect x="939.1" y="2476.1" width="23.6" height="52.6" fill="#B8DEEC"/>
<rect x="962.7" y="2476.1" width="23.6" height="52.6" fill="#8ACBE4"/>
<rect x="986.2" y="2476.1" width="23.6" height="52.6" fill="#79C4E1"/>
<rect x="1009.8" y="2476.1" width="23.6" height="52.6" fill="#8ACBE4"/>
<rect x="1033.4" y="2476.1" width="23.6" height="52.6" fill="#9CD2E7"/>
<rect x="1056.9" y="2476.1" width="23.6" height="52.6" fill="#C5E2EE"/>
<rect x="1080.5" y="2476.1" width="23.6" height="52.6" fill="#E4E1DF"/>
<rect x="1104.1" y="2476.1" width="23.6" height="52.6" fill="#C5E2EE"/>
<rect x="1127.6" y="2476.1" width="23.6" height="52.6" fill="#FEDCCD"/>
<rect x="1151.2" y="2476.1" width="23.6" height="52.6" fill="#E4E1DF"/>
<rect x="1174.8" y="2476.1" width="23.6" height="52.6" fill="#C5E2EE"/>
<rect x="1198.3" y="2476.1" width="23.6" height="52.6" fill="#C5E2EE"/>
<rect x="1221.9" y="2476.1" width="23.6" height="52.6" fill="#B8DEEC"/>
<rect x="1245.5" y="2476.1" width="23.6" height="52.6" fill="#C5E2EE"/>
<rect x="1269" y="2476.1" width="23.6" height="52.6" fill="#FED3BF"/>
<rect x="1292.6" y="2476.1" width="23.6" height="52.6" fill="#FFBFA3"/>
<rect x="1316.2" y="2476.1" width="23.6" height="52.6" fill="#FED3BF"/>
<rect x="1339.7" y="2476.1" width="23.6" height="52.6" fill="#FFCAB1"/>
<rect x="1363.3" y="2476.1" width="23.6" height="52.6" fill="#D2E6EF"/>
<rect x="1386.9" y="2476.1" width="23.6" height="52.6" fill="#FED3BF"/>
<rect x="1410.4" y="2476.1" width="23.6" height="52.6" fill="#FEDCCD"/>
<rect x="1434" y="2476.1" width="23.6" height="52.6" fill="#DBE4E7"/>
<rect x="1457.6" y="2476.1" width="23.6" height="52.6" fill="#FEDCCD"/>
<rect x="1481.2" y="2476.1" width="23.6" height="52.6" fill="#FFBFA3"/>
<rect x="1504.7" y="2476.1" width="23.6" height="52.6" fill="#E4E1DF"/>
<rect x="1528.3" y="2476.1" width="23.6" height="52.6" fill="#E4E1DF"/>
<rect x="1551.9" y="2476.1" width="23.6" height="52.6" fill="#FFBFA3"/>
<rect x="1575.4" y="2476.1" width="23.6" height="52.6" fill="#FED3BF"/>
<rect x="1599" y="2476.1" width="23.6" height="52.6" fill="#FEDCCD"/>
<rect x="1622.6" y="2476.1" width="23.6" height="52.6" fill="#F1DED6"/>
<rect x="1646.1" y="2476.1" width="23.6" height="52.6" fill="#E4E1DF"/>
<rect x="1669.7" y="2476.1" width="23.6" height="52.6" fill="#FED3BF"/>
<rect x="1693.3" y="2476.1" width="23.6" height="52.6" fill="#FED3BF"/>
<rect x="232.1" y="2528.7" width="23.6" height="52.6" fill="#FB7E62"/>
<rect x="255.7" y="2528.7" width="23.6" height="52.6" fill="#FB7E62"/>
<rect x="279.2" y="2528.7" width="23.6" height="52.6" fill="#FD8C6D"/>
<rect x="302.8" y="2528.7" width="23.6" height="52.6" fill="#FD8C6D"/>
<rect x="326.4" y="2528.7" width="23.6" height="52.6" fill="#FD8C6D"/>
<rect x="349.9" y="2528.7" width="23.6" height="52.6" fill="#FB7E62"/>
<rect x="373.5" y="2528.7" width="23.6" height="52.6" fill="#FB7E62"/>
<rect x="397.1" y="2528.7" width="23.6" height="52.6" fill="#FB7E62"/>
<rect x="420.6" y="2528.7" width="23.6" height="52.6" fill="#FF9B78"/>
<rect x="444.2" y="2528.7" width="23.6" height="52.6" fill="#FF9B78"/>
<rect x="467.8" y="2528.7" width="23.6" height="52.6" fill="#FFB495"/>
<rect x="491.3" y="2528.7" width="23.6" height="52.6" fill="#FD8C6D"/>
<rect x="514.9" y="2528.7" width="23.6" height="52.6" fill="#64BADC"/>
<rect x="538.5" y="2528.7" width="23.6" height="52.6" fill="#79C4E1"/>
<rect x="562" y="2528.7" width="23.6" height="52.6" fill="#8ACBE4"/>
<rect x="585.6" y="2528.7" width="23.6" height="52.6" fill="#8ACBE4"/>
<rect x="609.2" y="2528.7" width="23.6" height="52.6" fill="#B8DEEC"/>
<rect x="632.7" y="2528.7" width="23.6" height="52.6" fill="#64BADC"/>
<rect x="656.3" y="2528.7" width="23.6" height="52.6" fill="#79C4E1"/>
<rect x="679.9" y="2528.7" width="23.6" height="52.6" fill="#79C4E1"/>
<rect x="703.4" y="2528.7" width="23.6" height="52.6" fill="#64BADC"/>
<rect x="727" y="2528.7" width="23.6" height="52.6" fill="#64BADC"/>
<rect x="750.6" y="2528.7" width="23.6" height="52.6" fill="#9CD2E7"/>
<rect x="774.1" y="2528.7" width="23.6" height="52.6" fill="#79C4E1"/>
<rect x="797.7" y="2528.7" width="23.6" height="52.6" fill="#64BADC"/>
<rect x="821.3" y="2528.7" width="23.6" height="52.6" fill="#64BADC"/>
<rect x="844.8" y="2528.7" width="23.6" height="52.6" fill="#B8DEEC"/>
<rect x="868.4" y="2528.7" width="23.6" height="52.6" fill="#9CD2E7"/>
<rect x="892" y="2528.7" width="23.6" height="52.6" fill="#D2E6EF"/>
<rect x="915.5" y="2528.7" width="23.6" height="52.6" fill="#E4E1DF"/>
<rect x="939.1" y="2528.7" width="23.6" height="52.6" fill="#C5E2EE"/>
<rect x="962.7" y="2528.7" width="23.6" height="52.6" fill="#64BADC"/>
<rect x="986.2" y="2528.7" width="23.6" height="52.6" fill="#F1DED6"/>
<rect x="1009.8" y="2528.7" width="23.6" height="52.6" fill="#9CD2E7"/>
<rect x="1033.4" y="2528.7" width="23.6" height="52.6" fill="#B8DEEC"/>
<rect x="1056.9" y="2528.7" width="23.6" height="52.6" fill="#B8DEEC"/>
<rect x="1080.5" y="2528.7" width="23.6" height="52.6" fill="#E4E1DF"/>
<rect x="1104.1" y="2528.7" width="23.6" height="52.6" fill="#D2E6EF"/>
<rect x="1127.6" y="2528.7" width="23.6" height="52.6" fill="#DBE4E7"/>
<rect x="1151.2" y="2528.7" width="23.6" height="52.6" fill="#B8DEEC"/>
<rect x="1174.8" y="2528.7" width="23.6" height="52.6" fill="#D2E6EF"/>
<rect x="1198.3" y="2528.7" width="23.6" height="52.6" fill="#D2E6EF"/>
<rect x="1221.9" y="2528.7" width="23.6" height="52.6" fill="#FEDCCD"/>
<rect x="1245.5" y="2528.7" width="23.6" height="52.6" fill="#FEDCCD"/>
<rect x="1269" y="2528.7" width="23.6" height="52.6" fill="#E4E1DF"/>
<rect x="1292.6" y="2528.7" width="23.6" height="52.6" fill="#FFBFA3"/>
<rect x="1316.2" y="2528.7" width="23.6" height="52.6" fill="#FFBFA3"/>
<rect x="1339.7" y="2528.7" width="23.6" height="52.6" fill="#FFBFA3"/>
<rect x="1363.3" y="2528.7" width="23.6" height="52.6" fill="#FEDCCD"/>
<rect x="1386.9" y="2528.7" width="23.6" height="52.6" fill="#FEDCCD"/>
<rect x="1410.4" y="2528.7" width="23.6" height="52.6" fill="#E4E1DF"/>
<rect x="1434" y="2528.7" width="23.6" height="52.6" fill="#FEDCCD"/>
<rect x="1457.6" y="2528.7" width="23.6" height="52.6" fill="#FED3BF"/>
<rect x="1481.2" y="2528.7" width="23.6" height="52.6" fill="#FFCAB1"/>
<rect x="1504.7" y="2528.7" width="23.6" height="52.6" fill="#DBE4E7"/>
<rect x="1528.3" y="2528.7" width="23.6" height="52.6" fill="#DBE4E7"/>
<rect x="1551.9" y="2528.7" width="23.6" height="52.6" fill="#F1DED6"/>
<rect x="1575.4" y="2528.7" width="23.6" height="52.6" fill="#F1DED6"/>
<rect x="1599" y="2528.7" width="23.6" height="52.6" fill="#FEDCCD"/>
<rect x="1622.6" y="2528.7" width="23.6" height="52.6" fill="#FEDCCD"/>
<rect x="1646.1" y="2528.7" width="23.6" height="52.6" fill="#FEDCCD"/>
<rect x="1669.7" y="2528.7" width="23.6" height="52.6" fill="#F1DED6"/>
<rect x="1693.3" y="2528.7" width="23.6" height="52.6" fill="#FFCAB1"/>
<rect x="232.1" y="2581.3" width="23.6" height="52.6" fill="#FB7E62"/>
<rect x="255.7" y="2581.3" width="23.6" height="52.6" fill="#FF9B78"/>
<rect x="279.2" y="2581.3" width="23.6" height="52.6" fill="#FF9B78"/>
<rect x="302.8" y="2581.3" width="23.6" height="52.6" fill="#FFA886"/>
<rect x="326.4" y="2581.3" width="23.6" height="52.6" fill="#F66C54"/>
<rect x="349.9" y="2581.3" width="23.6" height="52.6" fill="#FB7E62"/>
<rect x="373.5" y="2581.3" width="23.6" height="52.6" fill="#F05A47"/>
<rect x="397.1" y="2581.3" width="23.6" height="52.6" fill="#FF9B78"/>
<rect x="420.6" y="2581.3" width="23.6" height="52.6" fill="#FFA886"/>
<rect x="444.2" y="2581.3" width="23.6" height="52.6" fill="#FFA886"/>
<rect x="467.8" y="2581.3" width="23.6" height="52.6" fill="#FFA886"/>
<rect x="491.3" y="2581.3" width="23.6" height="52.6" fill="#FB7E62"/>
<rect x="514.9" y="2581.3" width="23.6" height="52.6" fill="#64BADC"/>
<rect x="538.5" y="2581.3" width="23.6" height="52.6" fill="#8ACBE4"/>
<rect x="562" y="2581.3" width="23.6" height="52.6" fill="#8ACBE4"/>
<rect x="585.6" y="2581.3" width="23.6" height="52.6" fill="#8ACBE4"/>
<rect x="609.2" y="2581.3" width="23.6" height="52.6" fill="#9CD2E7"/>
<rect x="632.7" y="2581.3" width="23.6" height="52.6" fill="#64BADC"/>
<rect x="656.3" y="2581.3" width="23.6" height="52.6" fill="#79C4E1"/>
<rect x="679.9" y="2581.3" width="23.6" height="52.6" fill="#79C4E1"/>
<rect x="703.4" y="2581.3" width="23.6" height="52.6" fill="#79C4E1"/>
<rect x="727" y="2581.3" width="23.6" height="52.6" fill="#64BADC"/>
<rect x="750.6" y="2581.3" width="23.6" height="52.6" fill="#79C4E1"/>
<rect x="774.1" y="2581.3" width="23.6" height="52.6" fill="#64BADC"/>
<rect x="797.7" y="2581.3" width="23.6" height="52.6" fill="#64BADC"/>
<rect x="821.3" y="2581.3" width="23.6" height="52.6" fill="#64BADC"/>
<rect x="844.8" y="2581.3" width="23.6" height="52.6" fill="#AAD8EA"/>
<rect x="868.4" y="2581.3" width="23.6" height="52.6" fill="#8ACBE4"/>
<rect x="892" y="2581.3" width="23.6" height="52.6" fill="#D2E6EF"/>
<rect x="915.5" y="2581.3" width="23.6" height="52.6" fill="#DBE4E7"/>
<rect x="939.1" y="2581.3" width="23.6" height="52.6" fill="#AAD8EA"/>
<rect x="962.7" y="2581.3" width="23.6" height="52.6" fill="#9CD2E7"/>
<rect x="986.2" y="2581.3" width="23.6" height="52.6" fill="#C5E2EE"/>
<rect x="1009.8" y="2581.3" width="23.6" height="52.6" fill="#B8DEEC"/>
<rect x="1033.4" y="2581.3" width="23.6" height="52.6" fill="#AAD8EA"/>
<rect x="1056.9" y="2581.3" width="23.6" height="52.6" fill="#B8DEEC"/>
<rect x="1080.5" y="2581.3" width="23.6" height="52.6" fill="#FEDCCD"/>
<rect x="1104.1" y="2581.3" width="23.6" height="52.6" fill="#B8DEEC"/>
<rect x="1127.6" y="2581.3" width="23.6" height="52.6" fill="#C5E2EE"/>
<rect x="1151.2" y="2581.3" width="23.6" height="52.6" fill="#B8DEEC"/>
<rect x="1174.8" y="2581.3" width="23.6" height="52.6" fill="#C5E2EE"/>
<rect x="1198.3" y="2581.3" width="23.6" height="52.6" fill="#F1DED6"/>
<rect x="1221.9" y="2581.3" width="23.6" height="52.6" fill="#FED3BF"/>
<rect x="1245.5" y="2581.3" width="23.6" height="52.6" fill="#D2E6EF"/>
<rect x="1269" y="2581.3" width="23.6" height="52.6" fill="#E4E1DF"/>
<rect x="1292.6" y="2581.3" width="23.6" height="52.6" fill="#FED3BF"/>
<rect x="1316.2" y="2581.3" width="23.6" height="52.6" fill="#FFCAB1"/>
<rect x="1339.7" y="2581.3" width="23.6" height="52.6" fill="#FFB495"/>
<rect x="1363.3" y="2581.3" width="23.6" height="52.6" fill="#FFB495"/>
<rect x="1386.9" y="2581.3" width="23.6" height="52.6" fill="#FED3BF"/>
<rect x="1410.4" y="2581.3" width="23.6" height="52.6" fill="#F1DED6"/>
<rect x="1434" y="2581.3" width="23.6" height="52.6" fill="#FEDCCD"/>
<rect x="1457.6" y="2581.3" width="23.6" height="52.6" fill="#F1DED6"/>
<rect x="1481.2" y="2581.3" width="23.6" height="52.6" fill="#F1DED6"/>
<rect x="1504.7" y="2581.3" width="23.6" height="52.6" fill="#F1DED6"/>
<rect x="1528.3" y="2581.3" width="23.6" height="52.6" fill="#DBE4E7"/>
<rect x="1551.9" y="2581.3" width="23.6" height="52.6" fill="#FFA886"/>
<rect x="1575.4" y="2581.3" width="23.6" height="52.6" fill="#F1DED6"/>
<rect x="1599" y="2581.3" width="23.6" height="52.6" fill="#FEDCCD"/>
<rect x="1622.6" y="2581.3" width="23.6" height="52.6" fill="#FED3BF"/>
<rect x="1646.1" y="2581.3" width="23.6" height="52.6" fill="#FEDCCD"/>
<rect x="1669.7" y="2581.3" width="23.6" height="52.6" fill="#DBE4E7"/>
<rect x="1693.3" y="2581.3" width="23.6" height="52.6" fill="#FEDCCD"/>
<rect x="232.1" y="2633.9" width="23.6" height="52.6" fill="#FD8C6D"/>
<rect x="255.7" y="2633.9" width="23.6" height="52.6" fill="#FD8C6D"/>
<rect x="279.2" y="2633.9" width="23.6" height="52.6" fill="#FD8C6D"/>
<rect x="302.8" y="2633.9" width="23.6" height="52.6" fill="#FB7E62"/>
<rect x="326.4" y="2633.9" width="23.6" height="52.6" fill="#E94B40"/>
<rect x="349.9" y="2633.9" width="23.6" height="52.6" fill="#FD8C6D"/>
<rect x="373.5" y="2633.9" width="23.6" height="52.6" fill="#FB7E62"/>
<rect x="397.1" y="2633.9" width="23.6" height="52.6" fill="#FD8C6D"/>
<rect x="420.6" y="2633.9" width="23.6" height="52.6" fill="#FD8C6D"/>
<rect x="444.2" y="2633.9" width="23.6" height="52.6" fill="#FFB495"/>
<rect x="467.8" y="2633.9" width="23.6" height="52.6" fill="#FFA886"/>
<rect x="491.3" y="2633.9" width="23.6" height="52.6" fill="#FD8C6D"/>
<rect x="514.9" y="2633.9" width="23.6" height="52.6" fill="#64BADC"/>
<rect x="538.5" y="2633.9" width="23.6" height="52.6" fill="#79C4E1"/>
<rect x="562" y="2633.9" width="23.6" height="52.6" fill="#9CD2E7"/>
<rect x="585.6" y="2633.9" width="23.6" height="52.6" fill="#79C4E1"/>
<rect x="609.2" y="2633.9" width="23.6" height="52.6" fill="#9CD2E7"/>
<rect x="632.7" y="2633.9" width="23.6" height="52.6" fill="#64BADC"/>
<rect x="656.3" y="2633.9" width="23.6" height="52.6" fill="#64BADC"/>
<rect x="679.9" y="2633.9" width="23.6" height="52.6" fill="#64BADC"/>
<rect x="703.4" y="2633.9" width="23.6" height="52.6" fill="#64BADC"/>
<rect x="727" y="2633.9" width="23.6" height="52.6" fill="#64BADC"/>
<rect x="750.6" y="2633.9" width="23.6" height="52.6" fill="#79C4E1"/>
<rect x="774.1" y="2633.9" width="23.6" height="52.6" fill="#79C4E1"/>
<rect x="797.7" y="2633.9" width="23.6" height="52.6" fill="#79C4E1"/>
<rect x="821.3" y="2633.9" width="23.6" height="52.6" fill="#B8DEEC"/>
<rect x="844.8" y="2633.9" width="23.6" height="52.6" fill="#64BADC"/>
<rect x="868.4" y="2633.9" width="23.6" height="52.6" fill="#9CD2E7"/>
<rect x="892" y="2633.9" width="23.6" height="52.6" fill="#F1DED6"/>
<rect x="915.5" y="2633.9" width="23.6" height="52.6" fill="#DBE4E7"/>
<rect x="939.1" y="2633.9" width="23.6" height="52.6" fill="#D2E6EF"/>
<rect x="962.7" y="2633.9" width="23.6" height="52.6" fill="#C5E2EE"/>
<rect x="986.2" y="2633.9" width="23.6" height="52.6" fill="#D2E6EF"/>
<rect x="1009.8" y="2633.9" width="23.6" height="52.6" fill="#E4E1DF"/>
<rect x="1033.4" y="2633.9" width="23.6" height="52.6" fill="#DBE4E7"/>
<rect x="1056.9" y="2633.9" width="23.6" height="52.6" fill="#B8DEEC"/>
<rect x="1080.5" y="2633.9" width="23.6" height="52.6" fill="#E4E1DF"/>
<rect x="1104.1" y="2633.9" width="23.6" height="52.6" fill="#C5E2EE"/>
<rect x="1127.6" y="2633.9" width="23.6" height="52.6" fill="#D2E6EF"/>
<rect x="1151.2" y="2633.9" width="23.6" height="52.6" fill="#9CD2E7"/>
<rect x="1174.8" y="2633.9" width="23.6" height="52.6" fill="#C5E2EE"/>
<rect x="1198.3" y="2633.9" width="23.6" height="52.6" fill="#D2E6EF"/>
<rect x="1221.9" y="2633.9" width="23.6" height="52.6" fill="#B8DEEC"/>
<rect x="1245.5" y="2633.9" width="23.6" height="52.6" fill="#DBE4E7"/>
<rect x="1269" y="2633.9" width="23.6" height="52.6" fill="#FEDCCD"/>
<rect x="1292.6" y="2633.9" width="23.6" height="52.6" fill="#FFBFA3"/>
<rect x="1316.2" y="2633.9" width="23.6" height="52.6" fill="#FED3BF"/>
<rect x="1339.7" y="2633.9" width="23.6" height="52.6" fill="#FFCAB1"/>
<rect x="1363.3" y="2633.9" width="23.6" height="52.6" fill="#F1DED6"/>
<rect x="1386.9" y="2633.9" width="23.6" height="52.6" fill="#FFBFA3"/>
<rect x="1410.4" y="2633.9" width="23.6" height="52.6" fill="#E4E1DF"/>
<rect x="1434" y="2633.9" width="23.6" height="52.6" fill="#FEDCCD"/>
<rect x="1457.6" y="2633.9" width="23.6" height="52.6" fill="#FEDCCD"/>
<rect x="1481.2" y="2633.9" width="23.6" height="52.6" fill="#DBE4E7"/>
<rect x="1504.7" y="2633.9" width="23.6" height="52.6" fill="#E4E1DF"/>
<rect x="1528.3" y="2633.9" width="23.6" height="52.6" fill="#DBE4E7"/>
<rect x="1551.9" y="2633.9" width="23.6" height="52.6" fill="#FFBFA3"/>
<rect x="1575.4" y="2633.9" width="23.6" height="52.6" fill="#F1DED6"/>
<rect x="1599" y="2633.9" width="23.6" height="52.6" fill="#FEDCCD"/>
<rect x="1622.6" y="2633.9" width="23.6" height="52.6" fill="#FEDCCD"/>
<rect x="1646.1" y="2633.9" width="23.6" height="52.6" fill="#F1DED6"/>
<rect x="1669.7" y="2633.9" width="23.6" height="52.6" fill="#F1DED6"/>
<rect x="1693.3" y="2633.9" width="23.6" height="52.6" fill="#FED3BF"/>
<rect x="232.1" y="2686.5" width="23.6" height="52.6" fill="#FB7E62"/>
<rect x="255.7" y="2686.5" width="23.6" height="52.6" fill="#FD8C6D"/>
<rect x="279.2" y="2686.5" width="23.6" height="52.6" fill="#FB7E62"/>
<rect x="302.8" y="2686.5" width="23.6" height="52.6" fill="#FB7E62"/>
<rect x="326.4" y="2686.5" width="23.6" height="52.6" fill="#F05A47"/>
<rect x="349.9" y="2686.5" width="23.6" height="52.6" fill="#FD8C6D"/>
<rect x="373.5" y="2686.5" width="23.6" height="52.6" fill="#F66C54"/>
<rect x="397.1" y="2686.5" width="23.6" height="52.6" fill="#FF9B78"/>
<rect x="420.6" y="2686.5" width="23.6" height="52.6" fill="#FF9B78"/>
<rect x="444.2" y="2686.5" width="23.6" height="52.6" fill="#FF9B78"/>
<rect x="467.8" y="2686.5" width="23.6" height="52.6" fill="#FF9B78"/>
<rect x="491.3" y="2686.5" width="23.6" height="52.6" fill="#FF9B78"/>
<rect x="514.9" y="2686.5" width="23.6" height="52.6" fill="#64BADC"/>
<rect x="538.5" y="2686.5" width="23.6" height="52.6" fill="#79C4E1"/>
<rect x="562" y="2686.5" width="23.6" height="52.6" fill="#8ACBE4"/>
<rect x="585.6" y="2686.5" width="23.6" height="52.6" fill="#C5E2EE"/>
<rect x="609.2" y="2686.5" width="23.6" height="52.6" fill="#9CD2E7"/>
<rect x="632.7" y="2686.5" width="23.6" height="52.6" fill="#64BADC"/>
<rect x="656.3" y="2686.5" width="23.6" height="52.6" fill="#64BADC"/>
<rect x="679.9" y="2686.5" width="23.6" height="52.6" fill="#79C4E1"/>
<rect x="703.4" y="2686.5" width="23.6" height="52.6" fill="#79C4E1"/>
<rect x="727" y="2686.5" width="23.6" height="52.6" fill="#3EABD4"/>
<rect x="750.6" y="2686.5" width="23.6" height="52.6" fill="#79C4E1"/>
<rect x="774.1" y="2686.5" width="23.6" height="52.6" fill="#64BADC"/>
<rect x="797.7" y="2686.5" width="23.6" height="52.6" fill="#64BADC"/>
<rect x="821.3" y="2686.5" width="23.6" height="52.6" fill="#64BADC"/>
<rect x="844.8" y="2686.5" width="23.6" height="52.6" fill="#C5E2EE"/>
<rect x="868.4" y="2686.5" width="23.6" height="52.6" fill="#8ACBE4"/>
<rect x="892" y="2686.5" width="23.6" height="52.6" fill="#D2E6EF"/>
<rect x="915.5" y="2686.5" width="23.6" height="52.6" fill="#DBE4E7"/>
<rect x="939.1" y="2686.5" width="23.6" height="52.6" fill="#9CD2E7"/>
<rect x="962.7" y="2686.5" width="23.6" height="52.6" fill="#C5E2EE"/>
<rect x="986.2" y="2686.5" width="23.6" height="52.6" fill="#B8DEEC"/>
<rect x="1009.8" y="2686.5" width="23.6" height="52.6" fill="#9CD2E7"/>
<rect x="1033.4" y="2686.5" width="23.6" height="52.6" fill="#8ACBE4"/>
<rect x="1056.9" y="2686.5" width="23.6" height="52.6" fill="#AAD8EA"/>
<rect x="1080.5" y="2686.5" width="23.6" height="52.6" fill="#E4E1DF"/>
<rect x="1104.1" y="2686.5" width="23.6" height="52.6" fill="#DBE4E7"/>
<rect x="1127.6" y="2686.5" width="23.6" height="52.6" fill="#DBE4E7"/>
<rect x="1151.2" y="2686.5" width="23.6" height="52.6" fill="#DBE4E7"/>
<rect x="1174.8" y="2686.5" width="23.6" height="52.6" fill="#B8DEEC"/>
<rect x="1198.3" y="2686.5" width="23.6" height="52.6" fill="#E4E1DF"/>
<rect x="1221.9" y="2686.5" width="23.6" height="52.6" fill="#C5E2EE"/>
<rect x="1245.5" y="2686.5" width="23.6" height="52.6" fill="#D2E6EF"/>
<rect x="1269" y="2686.5" width="23.6" height="52.6" fill="#F1DED6"/>
<rect x="1292.6" y="2686.5" width="23.6" height="52.6" fill="#FFCAB1"/>
<rect x="1316.2" y="2686.5" width="23.6" height="52.6" fill="#FFBFA3"/>
<rect x="1339.7" y="2686.5" width="23.6" height="52.6" fill="#FFBFA3"/>
<rect x="1363.3" y="2686.5" width="23.6" height="52.6" fill="#FED3BF"/>
<rect x="1386.9" y="2686.5" width="23.6" height="52.6" fill="#FED3BF"/>
<rect x="1410.4" y="2686.5" width="23.6" height="52.6" fill="#FEDCCD"/>
<rect x="1434" y="2686.5" width="23.6" height="52.6" fill="#E4E1DF"/>
<rect x="1457.6" y="2686.5" width="23.6" height="52.6" fill="#FEDCCD"/>
<rect x="1481.2" y="2686.5" width="23.6" height="52.6" fill="#E4E1DF"/>
<rect x="1504.7" y="2686.5" width="23.6" height="52.6" fill="#FEDCCD"/>
<rect x="1528.3" y="2686.5" width="23.6" height="52.6" fill="#DBE4E7"/>
<rect x="1551.9" y="2686.5" width="23.6" height="52.6" fill="#FED3BF"/>
<rect x="1575.4" y="2686.5" width="23.6" height="52.6" fill="#FEDCCD"/>
<rect x="1599" y="2686.5" width="23.6" height="52.6" fill="#FED3BF"/>
<rect x="1622.6" y="2686.5" width="23.6" height="52.6" fill="#FED3BF"/>
<rect x="1646.1" y="2686.5" width="23.6" height="52.6" fill="#FEDCCD"/>
<rect x="1669.7" y="2686.5" width="23.6" height="52.6" fill="#E4E1DF"/>
<rect x="1693.3" y="2686.5" width="23.6" height="52.6" fill="#F1DED6"/>
<rect x="232.1" y="2739.1" width="23.6" height="52.6" fill="#F66C54"/>
<rect x="255.7" y="2739.1" width="23.6" height="52.6" fill="#FD8C6D"/>
<rect x="279.2" y="2739.1" width="23.6" height="52.6" fill="#FD8C6D"/>
<rect x="302.8" y="2739.1" width="23.6" height="52.6" fill="#FB7E62"/>
<rect x="326.4" y="2739.1" width="23.6" height="52.6" fill="#E94B40"/>
<rect x="349.9" y="2739.1" width="23.6" height="52.6" fill="#FB7E62"/>
<rect x="373.5" y="2739.1" width="23.6" height="52.6" fill="#FB7E62"/>
<rect x="397.1" y="2739.1" width="23.6" height="52.6" fill="#FF9B78"/>
<rect x="420.6" y="2739.1" width="23.6" height="52.6" fill="#FF9B78"/>
<rect x="444.2" y="2739.1" width="23.6" height="52.6" fill="#FFB495"/>
<rect x="467.8" y="2739.1" width="23.6" height="52.6" fill="#FF9B78"/>
<rect x="491.3" y="2739.1" width="23.6" height="52.6" fill="#FF9B78"/>
<rect x="514.9" y="2739.1" width="23.6" height="52.6" fill="#64BADC"/>
<rect x="538.5" y="2739.1" width="23.6" height="52.6" fill="#79C4E1"/>
<rect x="562" y="2739.1" width="23.6" height="52.6" fill="#8ACBE4"/>
<rect x="585.6" y="2739.1" width="23.6" height="52.6" fill="#79C4E1"/>
<rect x="609.2" y="2739.1" width="23.6" height="52.6" fill="#8ACBE4"/>
<rect x="632.7" y="2739.1" width="23.6" height="52.6" fill="#64BADC"/>
<rect x="656.3" y="2739.1" width="23.6" height="52.6" fill="#64BADC"/>
<rect x="679.9" y="2739.1" width="23.6" height="52.6" fill="#64BADC"/>
<rect x="703.4" y="2739.1" width="23.6" height="52.6" fill="#79C4E1"/>
<rect x="727" y="2739.1" width="23.6" height="52.6" fill="#64BADC"/>
<rect x="750.6" y="2739.1" width="23.6" height="52.6" fill="#64BADC"/>
<rect x="774.1" y="2739.1" width="23.6" height="52.6" fill="#64BADC"/>
<rect x="797.7" y="2739.1" width="23.6" height="52.6" fill="#8ACBE4"/>
<rect x="821.3" y="2739.1" width="23.6" height="52.6" fill="#79C4E1"/>
<rect x="844.8" y="2739.1" width="23.6" height="52.6" fill="#DBE4E7"/>
<rect x="868.4" y="2739.1" width="23.6" height="52.6" fill="#8ACBE4"/>
<rect x="892" y="2739.1" width="23.6" height="52.6" fill="#F1DED6"/>
<rect x="915.5" y="2739.1" width="23.6" height="52.6" fill="#DBE4E7"/>
<rect x="939.1" y="2739.1" width="23.6" height="52.6" fill="#D2E6EF"/>
<rect x="962.7" y="2739.1" width="23.6" height="52.6" fill="#9CD2E7"/>
<rect x="986.2" y="2739.1" width="23.6" height="52.6" fill="#AAD8EA"/>
<rect x="1009.8" y="2739.1" width="23.6" height="52.6" fill="#9CD2E7"/>
<rect x="1033.4" y="2739.1" width="23.6" height="52.6" fill="#AAD8EA"/>
<rect x="1056.9" y="2739.1" width="23.6" height="52.6" fill="#AAD8EA"/>
<rect x="1080.5" y="2739.1" width="23.6" height="52.6" fill="#FEDCCD"/>
<rect x="1104.1" y="2739.1" width="23.6" height="52.6" fill="#B8DEEC"/>
<rect x="1127.6" y="2739.1" width="23.6" height="52.6" fill="#D2E6EF"/>
<rect x="1151.2" y="2739.1" width="23.6" height="52.6" fill="#C5E2EE"/>
<rect x="1174.8" y="2739.1" width="23.6" height="52.6" fill="#C5E2EE"/>
<rect x="1198.3" y="2739.1" width="23.6" height="52.6" fill="#D2E6EF"/>
<rect x="1221.9" y="2739.1" width="23.6" height="52.6" fill="#D2E6EF"/>
<rect x="1245.5" y="2739.1" width="23.6" height="52.6" fill="#D2E6EF"/>
<rect x="1269" y="2739.1" width="23.6" height="52.6" fill="#FED3BF"/>
<rect x="1292.6" y="2739.1" width="23.6" height="52.6" fill="#FFB495"/>
<rect x="1316.2" y="2739.1" width="23.6" height="52.6" fill="#FFBFA3"/>
<rect x="1339.7" y="2739.1" width="23.6" height="52.6" fill="#FEDCCD"/>
<rect x="1363.3" y="2739.1" width="23.6" height="52.6" fill="#FEDCCD"/>
<rect x="1386.9" y="2739.1" width="23.6" height="52.6" fill="#FFCAB1"/>
<rect x="1410.4" y="2739.1" width="23.6" height="52.6" fill="#F1DED6"/>
<rect x="1434" y="2739.1" width="23.6" height="52.6" fill="#FEDCCD"/>
<rect x="1457.6" y="2739.1" width="23.6" height="52.6" fill="#E4E1DF"/>
<rect x="1481.2" y="2739.1" width="23.6" height="52.6" fill="#DBE4E7"/>
<rect x="1504.7" y="2739.1" width="23.6" height="52.6" fill="#C5E2EE"/>
<rect x="1528.3" y="2739.1" width="23.6" height="52.6" fill="#DBE4E7"/>
<rect x="1551.9" y="2739.1" width="23.6" height="52.6" fill="#FED3BF"/>
<rect x="1575.4" y="2739.1" width="23.6" height="52.6" fill="#FEDCCD"/>
<rect x="1599" y="2739.1" width="23.6" height="52.6" fill="#FEDCCD"/>
<rect x="1622.6" y="2739.1" width="23.6" height="52.6" fill="#FED3BF"/>
<rect x="1646.1" y="2739.1" width="23.6" height="52.6" fill="#F1DED6"/>
<rect x="1669.7" y="2739.1" width="23.6" height="52.6" fill="#FFCAB1"/>
<rect x="1693.3" y="2739.1" width="23.6" height="52.6" fill="#FEDCCD"/>
<rect x="232.1" y="2791.7" width="23.6" height="52.6" fill="#FB7E62"/>
<rect x="255.7" y="2791.7" width="23.6" height="52.6" fill="#FD8C6D"/>
<rect x="279.2" y="2791.7" width="23.6" height="52.6" fill="#F66C54"/>
<rect x="302.8" y="2791.7" width="23.6" height="52.6" fill="#FD8C6D"/>
<rect x="326.4" y="2791.7" width="23.6" height="52.6" fill="#E94B40"/>
<rect x="349.9" y="2791.7" width="23.6" height="52.6" fill="#FB7E62"/>
<rect x="373.5" y="2791.7" width="23.6" height="52.6" fill="#F66C54"/>
<rect x="397.1" y="2791.7" width="23.6" height="52.6" fill="#F66C54"/>
<rect x="420.6" y="2791.7" width="23.6" height="52.6" fill="#FFA886"/>
<rect x="444.2" y="2791.7" width="23.6" height="52.6" fill="#FFA886"/>
<rect x="467.8" y="2791.7" width="23.6" height="52.6" fill="#FFB495"/>
<rect x="491.3" y="2791.7" width="23.6" height="52.6" fill="#FF9B78"/>
<rect x="514.9" y="2791.7" width="23.6" height="52.6" fill="#3EABD4"/>
<rect x="538.5" y="2791.7" width="23.6" height="52.6" fill="#79C4E1"/>
<rect x="562" y="2791.7" width="23.6" height="52.6" fill="#9CD2E7"/>
<rect x="585.6" y="2791.7" width="23.6" height="52.6" fill="#9CD2E7"/>
<rect x="609.2" y="2791.7" width="23.6" height="52.6" fill="#8ACBE4"/>
<rect x="632.7" y="2791.7" width="23.6" height="52.6" fill="#64BADC"/>
<rect x="656.3" y="2791.7" width="23.6" height="52.6" fill="#64BADC"/>
<rect x="679.9" y="2791.7" width="23.6" height="52.6" fill="#64BADC"/>
<rect x="703.4" y="2791.7" width="23.6" height="52.6" fill="#79C4E1"/>
<rect x="727" y="2791.7" width="23.6" height="52.6" fill="#64BADC"/>
<rect x="750.6" y="2791.7" width="23.6" height="52.6" fill="#64BADC"/>
<rect x="774.1" y="2791.7" width="23.6" height="52.6" fill="#64BADC"/>
<rect x="797.7" y="2791.7" width="23.6" height="52.6" fill="#8ACBE4"/>
<rect x="821.3" y="2791.7" width="23.6" height="52.6" fill="#8ACBE4"/>
<rect x="844.8" y="2791.7" width="23.6" height="52.6" fill="#C5E2EE"/>
<rect x="868.4" y="2791.7" width="23.6" height="52.6" fill="#79C4E1"/>
<rect x="892" y="2791.7" width="23.6" height="52.6" fill="#F1DED6"/>
<rect x="915.5" y="2791.7" width="23.6" height="52.6" fill="#DBE4E7"/>
<rect x="939.1" y="2791.7" width="23.6" height="52.6" fill="#B8DEEC"/>
<rect x="962.7" y="2791.7" width="23.6" height="52.6" fill="#B8DEEC"/>
<rect x="986.2" y="2791.7" width="23.6" height="52.6" fill="#DBE4E7"/>
<rect x="1009.8" y="2791.7" width="23.6" height="52.6" fill="#B8DEEC"/>
<rect x="1033.4" y="2791.7" width="23.6" height="52.6" fill="#AAD8EA"/>
<rect x="1056.9" y="2791.7" width="23.6" height="52.6" fill="#AAD8EA"/>
<rect x="1080.5" y="2791.7" width="23.6" height="52.6" fill="#E4E1DF"/>
<rect x="1104.1" y="2791.7" width="23.6" height="52.6" fill="#E4E1DF"/>
<rect x="1127.6" y="2791.7" width="23.6" height="52.6" fill="#D2E6EF"/>
<rect x="1151.2" y="2791.7" width="23.6" height="52.6" fill="#B8DEEC"/>
<rect x="1174.8" y="2791.7" width="23.6" height="52.6" fill="#B8DEEC"/>
<rect x="1198.3" y="2791.7" width="23.6" height="52.6" fill="#FED3BF"/>
<rect x="1221.9" y="2791.7" width="23.6" height="52.6" fill="#E4E1DF"/>
<rect x="1245.5" y="2791.7" width="23.6" height="52.6" fill="#D2E6EF"/>
<rect x="1269" y="2791.7" width="23.6" height="52.6" fill="#E4E1DF"/>
<rect x="1292.6" y="2791.7" width="23.6" height="52.6" fill="#FFBFA3"/>
<rect x="1316.2" y="2791.7" width="23.6" height="52.6" fill="#FED3BF"/>
<rect x="1339.7" y="2791.7" width="23.6" height="52.6" fill="#FED3BF"/>
<rect x="1363.3" y="2791.7" width="23.6" height="52.6" fill="#F1DED6"/>
<rect x="1386.9" y="2791.7" width="23.6" height="52.6" fill="#FFBFA3"/>
<rect x="1410.4" y="2791.7" width="23.6" height="52.6" fill="#F1DED6"/>
<rect x="1434" y="2791.7" width="23.6" height="52.6" fill="#F1DED6"/>
<rect x="1457.6" y="2791.7" width="23.6" height="52.6" fill="#F1DED6"/>
<rect x="1481.2" y="2791.7" width="23.6" height="52.6" fill="#DBE4E7"/>
<rect x="1504.7" y="2791.7" width="23.6" height="52.6" fill="#E4E1DF"/>
<rect x="1528.3" y="2791.7" width="23.6" height="52.6" fill="#DBE4E7"/>
<rect x="1551.9" y="2791.7" width="23.6" height="52.6" fill="#FEDCCD"/>
<rect x="1575.4" y="2791.7" width="23.6" height="52.6" fill="#F1DED6"/>
<rect x="1599" y="2791.7" width="23.6" height="52.6" fill="#FEDCCD"/>
<rect x="1622.6" y="2791.7" width="23.6" height="52.6" fill="#F1DED6"/>
<rect x="1646.1" y="2791.7" width="23.6" height="52.6" fill="#F1DED6"/>
<rect x="1669.7" y="2791.7" width="23.6" height="52.6" fill="#FEDCCD"/>
<rect x="1693.3" y="2791.7" width="23.6" height="52.6" fill="#FEDCCD"/>
<rect x="232.1" y="2844.3" width="23.6" height="52.6" fill="#C5E2EE"/>
<rect x="255.7" y="2844.3" width="23.6" height="52.6" fill="#8ACBE4"/>
<rect x="279.2" y="2844.3" width="23.6" height="52.6" fill="#FF9B78"/>
<rect x="302.8" y="2844.3" width="23.6" height="52.6" fill="#FD8C6D"/>
<rect x="326.4" y="2844.3" width="23.6" height="52.6" fill="#FFBFA3"/>
<rect x="349.9" y="2844.3" width="23.6" height="52.6" fill="#FFB495"/>
<rect x="373.5" y="2844.3" width="23.6" height="52.6" fill="#FED3BF"/>
<rect x="397.1" y="2844.3" width="23.6" height="52.6" fill="#6B001F"/>
<rect x="420.6" y="2844.3" width="23.6" height="52.6" fill="#F1DED6"/>
<rect x="444.2" y="2844.3" width="23.6" height="52.6" fill="#FEDCCD"/>
<rect x="467.8" y="2844.3" width="23.6" height="52.6" fill="#FFA886"/>
<rect x="491.3" y="2844.3" width="23.6" height="52.6" fill="#FFA886"/>
<rect x="514.9" y="2844.3" width="23.6" height="52.6" fill="#D2E6EF"/>
<rect x="538.5" y="2844.3" width="23.6" height="52.6" fill="#E4E1DF"/>
<rect x="562" y="2844.3" width="23.6" height="52.6" fill="#AAD8EA"/>
<rect x="585.6" y="2844.3" width="23.6" height="52.6" fill="#E4E1DF"/>
<rect x="609.2" y="2844.3" width="23.6" height="52.6" fill="#FFB495"/>
<rect x="632.7" y="2844.3" width="23.6" height="52.6" fill="#FD8C6D"/>
<rect x="656.3" y="2844.3" width="23.6" height="52.6" fill="#FEDCCD"/>
<rect x="679.9" y="2844.3" width="23.6" height="52.6" fill="#AAD8EA"/>
<rect x="703.4" y="2844.3" width="23.6" height="52.6" fill="#FFB495"/>
<rect x="727" y="2844.3" width="23.6" height="52.6" fill="#8ACBE4"/>
<rect x="750.6" y="2844.3" width="23.6" height="52.6" fill="#C5E2EE"/>
<rect x="774.1" y="2844.3" width="23.6" height="52.6" fill="#FED3BF"/>
<rect x="797.7" y="2844.3" width="23.6" height="52.6" fill="#D2E6EF"/>
<rect x="821.3" y="2844.3" width="23.6" height="52.6" fill="#F1DED6"/>
<rect x="844.8" y="2844.3" width="23.6" height="52.6" fill="#8ACBE4"/>
<rect x="868.4" y="2844.3" width="23.6" height="52.6" fill="#79C4E1"/>
<rect x="892" y="2844.3" width="23.6" height="52.6" fill="#79C4E1"/>
<rect x="915.5" y="2844.3" width="23.6" height="52.6" fill="#9CD2E7"/>
<rect x="939.1" y="2844.3" width="23.6" height="52.6" fill="#C5E2EE"/>
<rect x="962.7" y="2844.3" width="23.6" height="52.6" fill="#8ACBE4"/>
<rect x="986.2" y="2844.3" width="23.6" height="52.6" fill="#B8DEEC"/>
<rect x="1009.8" y="2844.3" width="23.6" height="52.6" fill="#64BADC"/>
<rect x="1033.4" y="2844.3" width="23.6" height="52.6" fill="#79C4E1"/>
<rect x="1056.9" y="2844.3" width="23.6" height="52.6" fill="#9CD2E7"/>
<rect x="1080.5" y="2844.3" width="23.6" height="52.6" fill="#DB2B33"/>
<rect x="1104.1" y="2844.3" width="23.6" height="52.6" fill="#E94B40"/>
<rect x="1127.6" y="2844.3" width="23.6" height="52.6" fill="#FED3BF"/>
<rect x="1151.2" y="2844.3" width="23.6" height="52.6" fill="#F1DED6"/>
<rect x="1174.8" y="2844.3" width="23.6" height="52.6" fill="#B8DEEC"/>
<rect x="1198.3" y="2844.3" width="23.6" height="52.6" fill="#B8DEEC"/>
<rect x="1221.9" y="2844.3" width="23.6" height="52.6" fill="#9CD2E7"/>
<rect x="1245.5" y="2844.3" width="23.6" height="52.6" fill="#D2E6EF"/>
<rect x="1269" y="2844.3" width="23.6" height="52.6" fill="#FEDCCD"/>
<rect x="1292.6" y="2844.3" width="23.6" height="52.6" fill="#FED3BF"/>
<rect x="1316.2" y="2844.3" width="23.6" height="52.6" fill="#C5E2EE"/>
<rect x="1339.7" y="2844.3" width="23.6" height="52.6" fill="#F1DED6"/>
<rect x="1363.3" y="2844.3" width="23.6" height="52.6" fill="#8ACBE4"/>
<rect x="1386.9" y="2844.3" width="23.6" height="52.6" fill="#79C4E1"/>
<rect x="1410.4" y="2844.3" width="23.6" height="52.6" fill="#8ACBE4"/>
<rect x="1434" y="2844.3" width="23.6" height="52.6" fill="#79C4E1"/>
<rect x="1457.6" y="2844.3" width="23.6" height="52.6" fill="#FED3BF"/>
<rect x="1481.2" y="2844.3" width="23.6" height="52.6" fill="#FED3BF"/>
<rect x="1504.7" y="2844.3" width="23.6" height="52.6" fill="#F1DED6"/>
<rect x="1528.3" y="2844.3" width="23.6" height="52.6" fill="#B8DEEC"/>
<rect x="1551.9" y="2844.3" width="23.6" height="52.6" fill="#D2E6EF"/>
<rect x="1575.4" y="2844.3" width="23.6" height="52.6" fill="#FED3BF"/>
<rect x="1599" y="2844.3" width="23.6" height="52.6" fill="#C5E2EE"/>
<rect x="1622.6" y="2844.3" width="23.6" height="52.6" fill="#DBE4E7"/>
<rect x="1646.1" y="2844.3" width="23.6" height="52.6" fill="#E4E1DF"/>
<rect x="1669.7" y="2844.3" width="23.6" height="52.6" fill="#AAD8EA"/>
<rect x="1693.3" y="2844.3" width="23.6" height="52.6" fill="#F1DED6"/>
<rect x="232.1" y="2896.9" width="23.6" height="52.6" fill="#C5E2EE"/>
<rect x="255.7" y="2896.9" width="23.6" height="52.6" fill="#C5E2EE"/>
<rect x="279.2" y="2896.9" width="23.6" height="52.6" fill="#E94B40"/>
<rect x="302.8" y="2896.9" width="23.6" height="52.6" fill="#8E0020"/>
<rect x="326.4" y="2896.9" width="23.6" height="52.6" fill="#F05A47"/>
<rect x="349.9" y="2896.9" width="23.6" height="52.6" fill="#E23C3A"/>
<rect x="373.5" y="2896.9" width="23.6" height="52.6" fill="#F05A47"/>
<rect x="397.1" y="2896.9" width="23.6" height="52.6" fill="#DBE4E7"/>
<rect x="420.6" y="2896.9" width="23.6" height="52.6" fill="#F66C54"/>
<rect x="444.2" y="2896.9" width="23.6" height="52.6" fill="#F66C54"/>
<rect x="467.8" y="2896.9" width="23.6" height="52.6" fill="#FD8C6D"/>
<rect x="491.3" y="2896.9" width="23.6" height="52.6" fill="#F66C54"/>
<rect x="514.9" y="2896.9" width="23.6" height="52.6" fill="#FED3BF"/>
<rect x="538.5" y="2896.9" width="23.6" height="52.6" fill="#C5E2EE"/>
<rect x="562" y="2896.9" width="23.6" height="52.6" fill="#C5E2EE"/>
<rect x="585.6" y="2896.9" width="23.6" height="52.6" fill="#DBE4E7"/>
<rect x="609.2" y="2896.9" width="23.6" height="52.6" fill="#FEDCCD"/>
<rect x="632.7" y="2896.9" width="23.6" height="52.6" fill="#E4E1DF"/>
<rect x="656.3" y="2896.9" width="23.6" height="52.6" fill="#D2E6EF"/>
<rect x="679.9" y="2896.9" width="23.6" height="52.6" fill="#B8DEEC"/>
<rect x="703.4" y="2896.9" width="23.6" height="52.6" fill="#C5E2EE"/>
<rect x="727" y="2896.9" width="23.6" height="52.6" fill="#C5E2EE"/>
<rect x="750.6" y="2896.9" width="23.6" height="52.6" fill="#C5E2EE"/>
<rect x="774.1" y="2896.9" width="23.6" height="52.6" fill="#D2E6EF"/>
<rect x="797.7" y="2896.9" width="23.6" height="52.6" fill="#C5E2EE"/>
<rect x="821.3" y="2896.9" width="23.6" height="52.6" fill="#AAD8EA"/>
<rect x="844.8" y="2896.9" width="23.6" height="52.6" fill="#D2E6EF"/>
<rect x="868.4" y="2896.9" width="23.6" height="52.6" fill="#B8DEEC"/>
<rect x="892" y="2896.9" width="23.6" height="52.6" fill="#C5E2EE"/>
<rect x="915.5" y="2896.9" width="23.6" height="52.6" fill="#C5E2EE"/>
<rect x="939.1" y="2896.9" width="23.6" height="52.6" fill="#C5E2EE"/>
<rect x="962.7" y="2896.9" width="23.6" height="52.6" fill="#C5E2EE"/>
<rect x="986.2" y="2896.9" width="23.6" height="52.6" fill="#C5E2EE"/>
<rect x="1009.8" y="2896.9" width="23.6" height="52.6" fill="#B8DEEC"/>
<rect x="1033.4" y="2896.9" width="23.6" height="52.6" fill="#B8DEEC"/>
<rect x="1056.9" y="2896.9" width="23.6" height="52.6" fill="#B8DEEC"/>
<rect x="1080.5" y="2896.9" width="23.6" height="52.6" fill="#D2E6EF"/>
<rect x="1104.1" y="2896.9" width="23.6" height="52.6" fill="#9CD2E7"/>
<rect x="1127.6" y="2896.9" width="23.6" height="52.6" fill="#FED3BF"/>
<rect x="1151.2" y="2896.9" width="23.6" height="52.6" fill="#FFCAB1"/>
<rect x="1174.8" y="2896.9" width="23.6" height="52.6" fill="#B8DEEC"/>
<rect x="1198.3" y="2896.9" width="23.6" height="52.6" fill="#C5E2EE"/>
<rect x="1221.9" y="2896.9" width="23.6" height="52.6" fill="#C5E2EE"/>
<rect x="1245.5" y="2896.9" width="23.6" height="52.6" fill="#C5E2EE"/>
<rect x="1269" y="2896.9" width="23.6" height="52.6" fill="#F1DED6"/>
<rect x="1292.6" y="2896.9" width="23.6" height="52.6" fill="#FED3BF"/>
<rect x="1316.2" y="2896.9" width="23.6" height="52.6" fill="#B8DEEC"/>
<rect x="1339.7" y="2896.9" width="23.6" height="52.6" fill="#DBE4E7"/>
<rect x="1363.3" y="2896.9" width="23.6" height="52.6" fill="#D2E6EF"/>
<rect x="1386.9" y="2896.9" width="23.6" height="52.6" fill="#9CD2E7"/>
<rect x="1410.4" y="2896.9" width="23.6" height="52.6" fill="#C5E2EE"/>
<rect x="1434" y="2896.9" width="23.6" height="52.6" fill="#C5E2EE"/>
<rect x="1457.6" y="2896.9" width="23.6" height="52.6" fill="#9CD2E7"/>
<rect x="1481.2" y="2896.9" width="23.6" height="52.6" fill="#B8DEEC"/>
<rect x="1504.7" y="2896.9" width="23.6" height="52.6" fill="#C5E2EE"/>
<rect x="1528.3" y="2896.9" width="23.6" height="52.6" fill="#DBE4E7"/>
<rect x="1551.9" y="2896.9" width="23.6" height="52.6" fill="#B8DEEC"/>
<rect x="1575.4" y="2896.9" width="23.6" height="52.6" fill="#DBE4E7"/>
<rect x="1599" y="2896.9" width="23.6" height="52.6" fill="#AAD8EA"/>
<rect x="1622.6" y="2896.9" width="23.6" height="52.6" fill="#B8DEEC"/>
<rect x="1646.1" y="2896.9" width="23.6" height="52.6" fill="#C5E2EE"/>
<rect x="1669.7" y="2896.9" width="23.6" height="52.6" fill="#C5E2EE"/>
<rect x="1693.3" y="2896.9" width="23.6" height="52.6" fill="#C5E2EE"/>
<rect x="232.1" y="2949.5" width="23.6" height="52.6" fill="#DBE4E7"/>
<rect x="255.7" y="2949.5" width="23.6" height="52.6" fill="#FFBFA3"/>
<rect x="279.2" y="2949.5" width="23.6" height="52.6" fill="#FF9B78"/>
<rect x="302.8" y="2949.5" width="23.6" height="52.6" fill="#FB7E62"/>
<rect x="326.4" y="2949.5" width="23.6" height="52.6" fill="#FF9B78"/>
<rect x="349.9" y="2949.5" width="23.6" height="52.6" fill="#FF9B78"/>
<rect x="373.5" y="2949.5" width="23.6" height="52.6" fill="#FF9B78"/>
<rect x="397.1" y="2949.5" width="23.6" height="52.6" fill="#FD8C6D"/>
<rect x="420.6" y="2949.5" width="23.6" height="52.6" fill="#FF9B78"/>
<rect x="444.2" y="2949.5" width="23.6" height="52.6" fill="#FF9B78"/>
<rect x="467.8" y="2949.5" width="23.6" height="52.6" fill="#F66C54"/>
<rect x="491.3" y="2949.5" width="23.6" height="52.6" fill="#F66C54"/>
<rect x="514.9" y="2949.5" width="23.6" height="52.6" fill="#F66C54"/>
<rect x="538.5" y="2949.5" width="23.6" height="52.6" fill="#B8DEEC"/>
<rect x="562" y="2949.5" width="23.6" height="52.6" fill="#DBE4E7"/>
<rect x="585.6" y="2949.5" width="23.6" height="52.6" fill="#C5E2EE"/>
<rect x="609.2" y="2949.5" width="23.6" height="52.6" fill="#9CD2E7"/>
<rect x="632.7" y="2949.5" width="23.6" height="52.6" fill="#C5E2EE"/>
<rect x="656.3" y="2949.5" width="23.6" height="52.6" fill="#FEDCCD"/>
<rect x="679.9" y="2949.5" width="23.6" height="52.6" fill="#DBE4E7"/>
<rect x="703.4" y="2949.5" width="23.6" height="52.6" fill="#79C4E1"/>
<rect x="727" y="2949.5" width="23.6" height="52.6" fill="#64BADC"/>
<rect x="750.6" y="2949.5" width="23.6" height="52.6" fill="#8ACBE4"/>
<rect x="774.1" y="2949.5" width="23.6" height="52.6" fill="#79C4E1"/>
<rect x="797.7" y="2949.5" width="23.6" height="52.6" fill="#64BADC"/>
<rect x="821.3" y="2949.5" width="23.6" height="52.6" fill="#64BADC"/>
<rect x="844.8" y="2949.5" width="23.6" height="52.6" fill="#64BADC"/>
<rect x="868.4" y="2949.5" width="23.6" height="52.6" fill="#8ACBE4"/>
<rect x="892" y="2949.5" width="23.6" height="52.6" fill="#C5E2EE"/>
<rect x="915.5" y="2949.5" width="23.6" height="52.6" fill="#AAD8EA"/>
<rect x="939.1" y="2949.5" width="23.6" height="52.6" fill="#FED3BF"/>
<rect x="962.7" y="2949.5" width="23.6" height="52.6" fill="#FED3BF"/>
<rect x="986.2" y="2949.5" width="23.6" height="52.6" fill="#79C4E1"/>
<rect x="1009.8" y="2949.5" width="23.6" height="52.6" fill="#79C4E1"/>
<rect x="1033.4" y="2949.5" width="23.6" height="52.6" fill="#C5E2EE"/>
<rect x="1056.9" y="2949.5" width="23.6" height="52.6" fill="#D2E6EF"/>
<rect x="1080.5" y="2949.5" width="23.6" height="52.6" fill="#FEDCCD"/>
<rect x="1104.1" y="2949.5" width="23.6" height="52.6" fill="#D2E6EF"/>
<rect x="1127.6" y="2949.5" width="23.6" height="52.6" fill="#F1DED6"/>
<rect x="1151.2" y="2949.5" width="23.6" height="52.6" fill="#FFCAB1"/>
<rect x="1174.8" y="2949.5" width="23.6" height="52.6" fill="#FFCAB1"/>
<rect x="1198.3" y="2949.5" width="23.6" height="52.6" fill="#D2E6EF"/>
<rect x="1221.9" y="2949.5" width="23.6" height="52.6" fill="#B8DEEC"/>
<rect x="1245.5" y="2949.5" width="23.6" height="52.6" fill="#C5E2EE"/>
<rect x="1269" y="2949.5" width="23.6" height="52.6" fill="#FFA886"/>
<rect x="1292.6" y="2949.5" width="23.6" height="52.6" fill="#FFBFA3"/>
<rect x="1316.2" y="2949.5" width="23.6" height="52.6" fill="#FEDCCD"/>
<rect x="1339.7" y="2949.5" width="23.6" height="52.6" fill="#FED3BF"/>
<rect x="1363.3" y="2949.5" width="23.6" height="52.6" fill="#64BADC"/>
<rect x="1386.9" y="2949.5" width="23.6" height="52.6" fill="#64BADC"/>
<rect x="1410.4" y="2949.5" width="23.6" height="52.6" fill="#64BADC"/>
<rect x="1434" y="2949.5" width="23.6" height="52.6" fill="#64BADC"/>
<rect x="1457.6" y="2949.5" width="23.6" height="52.6" fill="#FEDCCD"/>
<rect x="1481.2" y="2949.5" width="23.6" height="52.6" fill="#E4E1DF"/>
<rect x="1504.7" y="2949.5" width="23.6" height="52.6" fill="#FEDCCD"/>
<rect x="1528.3" y="2949.5" width="23.6" height="52.6" fill="#DBE4E7"/>
<rect x="1551.9" y="2949.5" width="23.6" height="52.6" fill="#F1DED6"/>
<rect x="1575.4" y="2949.5" width="23.6" height="52.6" fill="#FFCAB1"/>
<rect x="1599" y="2949.5" width="23.6" height="52.6" fill="#DBE4E7"/>
<rect x="1622.6" y="2949.5" width="23.6" height="52.6" fill="#E4E1DF"/>
<rect x="1646.1" y="2949.5" width="23.6" height="52.6" fill="#FEDCCD"/>
<rect x="1669.7" y="2949.5" width="23.6" height="52.6" fill="#FEDCCD"/>
<rect x="1693.3" y="2949.5" width="23.6" height="52.6" fill="#B8DEEC"/>
<rect x="232.1" y="3002.1" width="23.6" height="52.6" fill="#9CD2E7"/>
<rect x="255.7" y="3002.1" width="23.6" height="52.6" fill="#9CD2E7"/>
<rect x="279.2" y="3002.1" width="23.6" height="52.6" fill="#FD8C6D"/>
<rect x="302.8" y="3002.1" width="23.6" height="52.6" fill="#F66C54"/>
<rect x="326.4" y="3002.1" width="23.6" height="52.6" fill="#FF9B78"/>
<rect x="349.9" y="3002.1" width="23.6" height="52.6" fill="#FD8C6D"/>
<rect x="373.5" y="3002.1" width="23.6" height="52.6" fill="#FD8C6D"/>
<rect x="397.1" y="3002.1" width="23.6" height="52.6" fill="#F66C54"/>
<rect x="420.6" y="3002.1" width="23.6" height="52.6" fill="#FFBFA3"/>
<rect x="444.2" y="3002.1" width="23.6" height="52.6" fill="#FF9B78"/>
<rect x="467.8" y="3002.1" width="23.6" height="52.6" fill="#FF9B78"/>
<rect x="491.3" y="3002.1" width="23.6" height="52.6" fill="#FF9B78"/>
<rect x="514.9" y="3002.1" width="23.6" height="52.6" fill="#F66C54"/>
<rect x="538.5" y="3002.1" width="23.6" height="52.6" fill="#9CD2E7"/>
<rect x="562" y="3002.1" width="23.6" height="52.6" fill="#9CD2E7"/>
<rect x="585.6" y="3002.1" width="23.6" height="52.6" fill="#F1DED6"/>
<rect x="609.2" y="3002.1" width="23.6" height="52.6" fill="#DBE4E7"/>
<rect x="632.7" y="3002.1" width="23.6" height="52.6" fill="#DBE4E7"/>
<rect x="656.3" y="3002.1" width="23.6" height="52.6" fill="#FEDCCD"/>
<rect x="679.9" y="3002.1" width="23.6" height="52.6" fill="#9CD2E7"/>
<rect x="703.4" y="3002.1" width="23.6" height="52.6" fill="#8ACBE4"/>
<rect x="727" y="3002.1" width="23.6" height="52.6" fill="#9CD2E7"/>
<rect x="750.6" y="3002.1" width="23.6" height="52.6" fill="#9CD2E7"/>
<rect x="774.1" y="3002.1" width="23.6" height="52.6" fill="#9CD2E7"/>
<rect x="797.7" y="3002.1" width="23.6" height="52.6" fill="#9CD2E7"/>
<rect x="821.3" y="3002.1" width="23.6" height="52.6" fill="#B8DEEC"/>
<rect x="844.8" y="3002.1" width="23.6" height="52.6" fill="#9CD2E7"/>
<rect x="868.4" y="3002.1" width="23.6" height="52.6" fill="#9CD2E7"/>
<rect x="892" y="3002.1" width="23.6" height="52.6" fill="#8ACBE4"/>
<rect x="915.5" y="3002.1" width="23.6" height="52.6" fill="#8ACBE4"/>
<rect x="939.1" y="3002.1" width="23.6" height="52.6" fill="#8ACBE4"/>
<rect x="962.7" y="3002.1" width="23.6" height="52.6" fill="#8ACBE4"/>
<rect x="986.2" y="3002.1" width="23.6" height="52.6" fill="#9CD2E7"/>
<rect x="1009.8" y="3002.1" width="23.6" height="52.6" fill="#8ACBE4"/>
<rect x="1033.4" y="3002.1" width="23.6" height="52.6" fill="#9CD2E7"/>
<rect x="1056.9" y="3002.1" width="23.6" height="52.6" fill="#8ACBE4"/>
<rect x="1080.5" y="3002.1" width="23.6" height="52.6" fill="#E4E1DF"/>
<rect x="1104.1" y="3002.1" width="23.6" height="52.6" fill="#F1DED6"/>
<rect x="1127.6" y="3002.1" width="23.6" height="52.6" fill="#DBE4E7"/>
<rect x="1151.2" y="3002.1" width="23.6" height="52.6" fill="#FED3BF"/>
<rect x="1174.8" y="3002.1" width="23.6" height="52.6" fill="#8ACBE4"/>
<rect x="1198.3" y="3002.1" width="23.6" height="52.6" fill="#FED3BF"/>
<rect x="1221.9" y="3002.1" width="23.6" height="52.6" fill="#DBE4E7"/>
<rect x="1245.5" y="3002.1" width="23.6" height="52.6" fill="#F1DED6"/>
<rect x="1269" y="3002.1" width="23.6" height="52.6" fill="#E23C3A"/>
<rect x="1292.6" y="3002.1" width="23.6" height="52.6" fill="#FFA886"/>
<rect x="1316.2" y="3002.1" width="23.6" height="52.6" fill="#FFCAB1"/>
<rect x="1339.7" y="3002.1" width="23.6" height="52.6" fill="#FFBFA3"/>
<rect x="1363.3" y="3002.1" width="23.6" height="52.6" fill="#8ACBE4"/>
<rect x="1386.9" y="3002.1" width="23.6" height="52.6" fill="#8ACBE4"/>
<rect x="1410.4" y="3002.1" width="23.6" height="52.6" fill="#9CD2E7"/>
<rect x="1434" y="3002.1" width="23.6" height="52.6" fill="#8ACBE4"/>
<rect x="1457.6" y="3002.1" width="23.6" height="52.6" fill="#FFBFA3"/>
<rect x="1481.2" y="3002.1" width="23.6" height="52.6" fill="#FFCAB1"/>
<rect x="1504.7" y="3002.1" width="23.6" height="52.6" fill="#FFCAB1"/>
<rect x="1528.3" y="3002.1" width="23.6" height="52.6" fill="#FFCAB1"/>
<rect x="1551.9" y="3002.1" width="23.6" height="52.6" fill="#FED3BF"/>
<rect x="1575.4" y="3002.1" width="23.6" height="52.6" fill="#FEDCCD"/>
<rect x="1599" y="3002.1" width="23.6" height="52.6" fill="#DBE4E7"/>
<rect x="1622.6" y="3002.1" width="23.6" height="52.6" fill="#F1DED6"/>
<rect x="1646.1" y="3002.1" width="23.6" height="52.6" fill="#9CD2E7"/>
<rect x="1669.7" y="3002.1" width="23.6" height="52.6" fill="#8ACBE4"/>
<rect x="1693.3" y="3002.1" width="23.6" height="52.6" fill="#9CD2E7"/>
</g>
<g class="t">
<text class="b" transform="translate(1727.2 1884) scale(1.05 1)">class</text>
<text transform="translate(1727.2 1933.1) scale(1.064 1)">Cobalt Chloride</text>
<text transform="translate(1727.2 1986.6) scale(1.064 1)">Potassium Chloride</text>
<text transform="translate(1727.2 2037.3) scale(1.064 1)">Sodium Nitrite 2</text>
<text transform="translate(1727.2 2089.9) scale(1.064 1)">Potassium Chromate</text>
<text transform="translate(1727.2 2142.5) scale(1.064 1)">Potassium Chromate</text>
<text transform="translate(1727.2 2195.1) scale(1.064 1)">Magnesium Chloride</text>
<text transform="translate(1727.2 2247.7) scale(1.064 1)">Iodine 1</text>
<text transform="translate(1727.2 2300.3) scale(1.064 1)">Sodium Nitrite 1</text>
<text transform="translate(1727.2 2352.9) scale(1.064 1)">Sodium Nitrite 3</text>
<text transform="translate(1727.2 2405.5) scale(1.064 1)">Potassium Chloride</text>
<text transform="translate(1727.2 2458.1) scale(1.064 1)">Potassium Chloride</text>
<text transform="translate(1727.2 2510.7) scale(1.064 1)">Sodium Molybdate 1</text>
<text transform="translate(1727.2 2563.3) scale(1.064 1)">Iodine 3</text>
<text transform="translate(1727.2 2615.9) scale(1.064 1)">Iodine 4</text>
<text transform="translate(1727.2 2668.5) scale(1.064 1)">Sodium Molybdate 3</text>
<text transform="translate(1727.2 2721.1) scale(1.064 1)">Iodine 2</text>
<text transform="translate(1727.2 2773.7) scale(1.064 1)">Sodium Molybdate 2</text>
<text transform="translate(1727.2 2826.3) scale(1.064 1)">Sodium Molybdate 4</text>
<text transform="translate(1727.2 2878.9) scale(1.064 1)">Sodium Tungstate</text>
<text transform="translate(1727.2 2931.5) scale(1.064 1)">NaCl 1</text>
<text transform="translate(1727.2 2984.1) scale(1.064 1)">NaCl 2</text>
<text transform="translate(1727.2 3036.7) scale(1.064 1)">NaCl 3</text>
<text transform="translate(234.5 3065.5) rotate(90) scale(1.064 1)">cms25878</text>
<text transform="translate(258.1 3065.5) rotate(90) scale(1.064 1)">cms25889</text>
<text transform="translate(281.6 3065.5) rotate(90) scale(1.064 1)">X19.04664</text>
<text transform="translate(305.2 3065.5) rotate(90) scale(1.064 1)">X19.05764</text>
<text transform="translate(328.8 3065.5) rotate(90) scale(1.064 1)">X19.13317</text>
<text transform="translate(352.3 3065.5) rotate(90) scale(1.064 1)">X19.04822</text>
<text transform="translate(375.9 3065.5) rotate(90) scale(1.064 1)">X19.03819</text>
<text transform="translate(399.5 3065.5) rotate(90) scale(1.064 1)">cms26101</text>
<text transform="translate(423 3065.5) rotate(90) scale(1.064 1)">cms16929</text>
<text transform="translate(446.6 3065.5) rotate(90) scale(1.064 1)">cms14035A</text>
<text transform="translate(470.2 3065.5) rotate(90) scale(1.064 1)">X19.04546</text>
<text transform="translate(493.7 3065.5) rotate(90) scale(1.064 1)">X19.15861</text>
<text transform="translate(517.3 3065.5) rotate(90) scale(1.064 1)">cms25841</text>
<text transform="translate(540.9 3065.5) rotate(90) scale(1.064 1)">cms25814</text>
<text transform="translate(564.4 3065.5) rotate(90) scale(1.064 1)">cms25874</text>
<text transform="translate(588 3065.5) rotate(90) scale(1.064 1)">cms25836</text>
<text transform="translate(611.6 3065.5) rotate(90) scale(1.064 1)">X19.04972</text>
<text transform="translate(635.1 3065.5) rotate(90) scale(1.064 1)">cms25872</text>
<text transform="translate(658.7 3065.5) rotate(90) scale(1.064 1)">cms26003</text>
<text transform="translate(682.3 3065.5) rotate(90) scale(1.064 1)">cms26016</text>
<text transform="translate(705.8 3065.5) rotate(90) scale(1.064 1)">cms25887</text>
<text transform="translate(729.4 3065.5) rotate(90) scale(1.064 1)">cms25890</text>
<text transform="translate(753 3065.5) rotate(90) scale(1.064 1)">cms25871</text>
<text transform="translate(776.5 3065.5) rotate(90) scale(1.064 1)">cms25888</text>
<text transform="translate(800.1 3065.5) rotate(90) scale(1.064 1)">cms25893</text>
<text transform="translate(823.7 3065.5) rotate(90) scale(1.064 1)">cms25961</text>
<text transform="translate(847.2 3065.5) rotate(90) scale(1.064 1)">cms24779</text>
<text transform="translate(870.8 3065.5) rotate(90) scale(1.064 1)">cms25868</text>
<text transform="translate(894.4 3065.5) rotate(90) scale(1.064 1)">cms25891</text>
<text transform="translate(917.9 3065.5) rotate(90) scale(1.064 1)">cms25962</text>
<text transform="translate(941.5 3065.5) rotate(90) scale(1.064 1)">cms25834</text>
<text transform="translate(965.1 3065.5) rotate(90) scale(1.064 1)">cms25894</text>
<text transform="translate(988.6 3065.5) rotate(90) scale(1.064 1)">cms25835</text>
<text transform="translate(1012.2 3065.5) rotate(90) scale(1.064 1)">cms25911</text>
<text transform="translate(1035.8 3065.5) rotate(90) scale(1.064 1)">cms25884</text>
<text transform="translate(1059.3 3065.5) rotate(90) scale(1.064 1)">cms25908</text>
<text transform="translate(1082.9 3065.5) rotate(90) scale(1.064 1)">cms25818</text>
<text transform="translate(1106.5 3065.5) rotate(90) scale(1.064 1)">cms25964</text>
<text transform="translate(1130 3065.5) rotate(90) scale(1.064 1)">cms25973</text>
<text transform="translate(1153.6 3065.5) rotate(90) scale(1.064 1)">X19.05617</text>
<text transform="translate(1177.2 3065.5) rotate(90) scale(1.064 1)">cms25830</text>
<text transform="translate(1200.7 3065.5) rotate(90) scale(1.064 1)">cms25553</text>
<text transform="translate(1224.3 3065.5) rotate(90) scale(1.064 1)">cms25552</text>
<text transform="translate(1247.9 3065.5) rotate(90) scale(1.064 1)">cms25831</text>
<text transform="translate(1271.4 3065.5) rotate(90) scale(1.064 1)">cms25555</text>
<text transform="translate(1295 3065.5) rotate(90) scale(1.064 1)">cms26025</text>
<text transform="translate(1318.6 3065.5) rotate(90) scale(1.064 1)">cms25819</text>
<text transform="translate(1342.1 3065.5) rotate(90) scale(1.064 1)">cms26028</text>
<text transform="translate(1365.7 3065.5) rotate(90) scale(1.064 1)">cms25837</text>
<text transform="translate(1389.3 3065.5) rotate(90) scale(1.064 1)">cms24775A</text>
<text transform="translate(1412.8 3065.5) rotate(90) scale(1.064 1)">cms25862</text>
<text transform="translate(1436.4 3065.5) rotate(90) scale(1.064 1)">cms25907</text>
<text transform="translate(1460 3065.5) rotate(90) scale(1.064 1)">cms25815</text>
<text transform="translate(1483.5 3065.5) rotate(90) scale(1.064 1)">cms25963</text>
<text transform="translate(1507.1 3065.5) rotate(90) scale(1.064 1)">cms25883</text>
<text transform="translate(1530.7 3065.5) rotate(90) scale(1.064 1)">cms25960</text>
<text transform="translate(1554.2 3065.5) rotate(90) scale(1.064 1)">cms25544</text>
<text transform="translate(1577.8 3065.5) rotate(90) scale(1.064 1)">cms26040</text>
<text transform="translate(1601.4 3065.5) rotate(90) scale(1.064 1)">cms25892</text>
<text transform="translate(1624.9 3065.5) rotate(90) scale(1.064 1)">cms26046</text>
<text transform="translate(1648.5 3065.5) rotate(90) scale(1.064 1)">cms26177</text>
<text transform="translate(1672.1 3065.5) rotate(90) scale(1.064 1)">cms25901</text>
<text transform="translate(1695.6 3065.5) rotate(90) scale(1.064 1)">cms26026</text>
</g>
<rect x="2006.3" y="1857.6" width="34.3" height="505.2" fill="url(#grad)"/>
<g class="t">
<text transform="translate(2054.2 1917.7) scale(1.064 1)">3</text>
<text transform="translate(2054.2 1985) scale(1.064 1)">2</text>
<text transform="translate(2054.2 2051.9) scale(1.064 1)">1</text>
<text transform="translate(2054.2 2117.9) scale(1.064 1)">0</text>
<text transform="translate(2054.2 2186.1) scale(1.064 1)">-1</text>
<text transform="translate(2054.2 2253.3) scale(1.064 1)">-2</text>
<text transform="translate(2054.2 2318.5) scale(1.064 1)">-3</text>
<text class="b" transform="translate(2085.4 1876) scale(1.05 1)">class</text>
<text transform="translate(2130.2 1912.5) scale(1.064 1)">Control</text>
<text transform="translate(2130.2 1950.1) scale(1.064 1)">High</text>
</g>
<g stroke="#999999" stroke-width="3.0">
<rect x="2086.5" y="1886" width="36.8" height="36.9" fill="#D8F800"/>
<rect x="2086.5" y="1922.9" width="36.8" height="36.9" fill="#00B53C"/>
</g>
<rect x="1722" y="1985.7" width="280" height="3.4" fill="#FEFEFE"/>
<rect x="2048" y="1984.9" width="40" height="3.4" fill="#FEFEFE"/>
<text class="big" x="1869.2" y="1592.7">A.</text>
<text class="big" x="2007.7" y="3173">B.</text>
</svg></body></html>
